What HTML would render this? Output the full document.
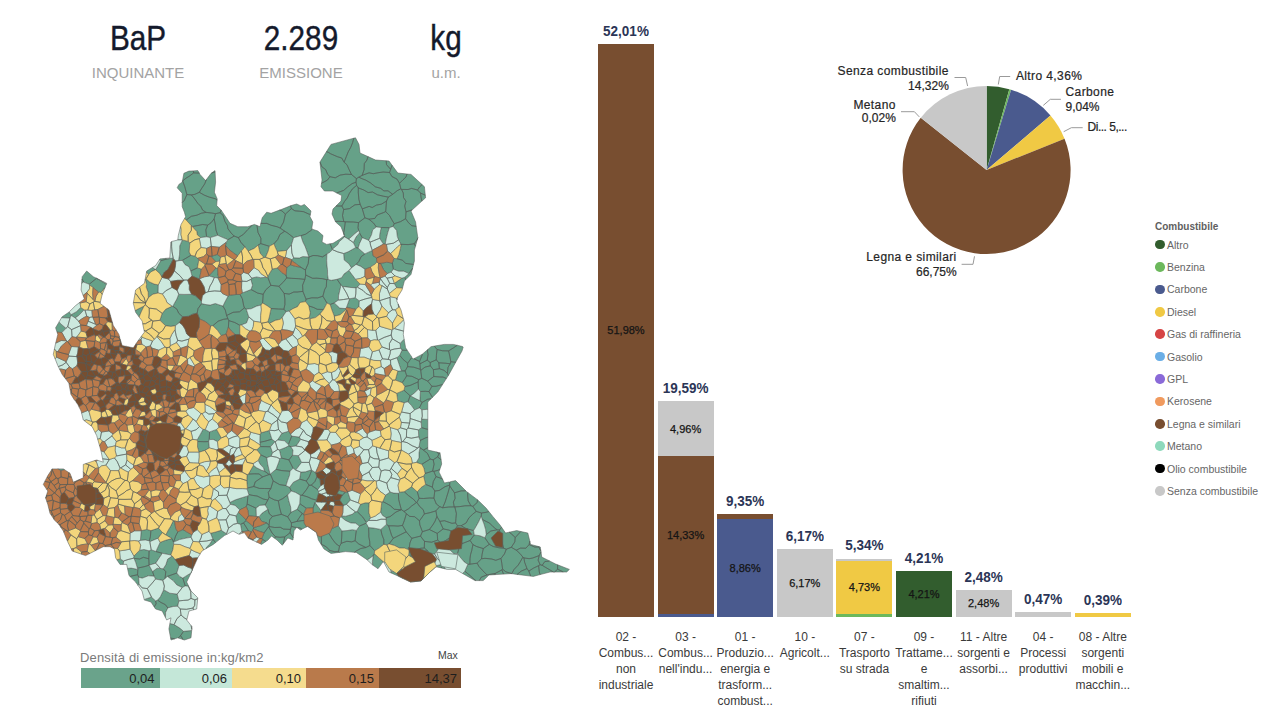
<!DOCTYPE html>
<html><head><meta charset="utf-8">
<style>
html,body{margin:0;padding:0;background:#fff;}
body{width:1280px;height:720px;position:relative;overflow:hidden;font-family:"Liberation Sans",sans-serif;}
.a{position:absolute;white-space:nowrap;}
.kv{font-size:30px;color:#141a2c;-webkit-text-stroke:0.35px #141a2c;text-align:center;width:160px;line-height:1;transform:scale(0.99,1.14);transform-origin:50% 25.4px;}
.kc{font-size:15px;color:#a3a3a3;text-align:center;width:160px;line-height:1;}
.bt{font-size:13.5px;font-weight:bold;color:#2b3556;text-align:center;width:80px;line-height:1;transform:scaleY(1.1);transform-origin:50% 11.4px;}
.bi{font-size:11px;color:#151515;-webkit-text-stroke:0.25px #151515;text-align:center;width:60px;line-height:1;}
.cat{font-size:12px;color:#3a3a3a;text-align:center;width:60px;line-height:16px;}
.pl{font-size:12px;color:#252525;line-height:1;-webkit-text-stroke:0.2px #252525;}
.pw{letter-spacing:0.4px;}
.pn{letter-spacing:-0.5px;}
.lg{font-size:10.5px;color:#666;line-height:1;}
.dot{position:absolute;width:9.5px;height:9.5px;border-radius:50%;}
</style></head><body>
<!-- KPIs -->
<div class="a kv" style="left:58px;top:24.5px;">BaP</div>
<div class="a kc" style="left:58px;top:64.5px;">INQUINANTE</div>
<div class="a kv" style="left:221px;top:24.5px;">2.289</div>
<div class="a kc" style="left:221px;top:64.5px;">EMISSIONE</div>
<div class="a kv" style="left:366px;top:24.5px;">kg</div>
<div class="a kc" style="left:366px;top:64.5px;">u.m.</div>

<svg class="a" style="left:0;top:0" width="1280" height="720">
<path fill="#66a188" stroke="#555b58" stroke-width="0.6" stroke-opacity="0.9" d="M328.4,152.4L330.7,153.8L337.4,156.7L341.7,158.0L344.1,162.2L346.4,156.4L348.2,151.9L350.8,147.2L352.6,142.6L353.8,138.2L331.0,144.4L326.5,151.6ZM182.7,180.9L186.1,178.1L189.1,176.3L193.7,172.9L193.2,170.9L188.9,171.1L183.9,173.3L182.5,180.7ZM193.7,172.9L199.3,173.1L197.8,170.6L193.2,170.9ZM215.1,171.9L215.0,170.6L211.6,173.0ZM320.2,162.5L321.9,166.8L325.6,169.5L327.7,174.4L330.0,176.7L335.3,177.8L340.1,175.1L345.9,174.2L351.5,174.5L349.2,169.8L347.0,164.8L344.1,162.2L341.7,158.0L337.4,156.7L330.7,153.8L328.4,152.4L326.5,151.6L320.0,162.0L320.0,162.4ZM352.6,142.6L350.8,147.2L348.2,151.9L346.4,156.4L344.1,162.2L347.0,164.8L349.2,169.8L351.5,174.5L356.4,178.6L358.8,177.2L362.1,175.4L364.1,169.7L364.3,163.6L366.9,160.1L368.0,156.6L360.0,153.0L359.0,144.4L355.5,137.8L353.8,138.2ZM366.9,160.1L364.3,163.6L364.1,169.7L362.1,175.4L369.0,172.8L373.3,173.7L377.8,172.8L383.1,172.0L389.6,172.5L390.6,169.3L386.5,164.6L386.2,160.8L375.5,160.0L368.0,156.6ZM392.1,165.3L389.0,161.0L386.2,160.8L386.5,164.6L390.6,169.3ZM389.6,172.5L391.9,176.5L397.0,179.1L399.5,183.3L403.0,179.8L406.0,177.0L407.0,174.0L397.8,173.0L392.1,165.3L390.6,169.3ZM189.1,176.3L186.1,178.1L182.7,180.9L184.8,186.8L186.1,191.6L186.9,194.6L191.3,194.9L194.7,194.4L199.3,192.3L201.4,188.8L204.7,183.9L206.4,179.6L205.6,180.6L200.0,174.4L199.3,173.1L193.7,172.9ZM204.7,183.9L201.4,188.8L199.3,192.3L204.4,195.2L209.2,197.1L215.2,198.7L217.1,200.0L217.2,198.9L214.4,192.2L215.6,182.2L215.1,171.9L211.6,173.0L211.1,173.3L206.4,179.6ZM321.7,183.2L327.3,180.2L330.0,176.7L327.7,174.4L325.6,169.5L321.9,166.8L320.2,162.5L320.0,162.4L322.0,180.0L321.5,183.5ZM356.4,178.6L351.5,174.5L345.9,174.2L340.1,175.1L335.3,177.8L330.0,176.7L327.3,180.2L321.7,183.2L321.5,183.5L321.0,186.7L324.4,191.0L333.0,191.0L336.7,192.9L340.1,191.7L343.7,190.4L347.4,187.1L352.1,183.6L356.0,182.2ZM358.3,187.9L363.8,190.0L368.1,192.6L372.5,192.0L377.5,194.8L383.4,196.2L388.3,197.1L392.7,194.3L388.0,190.8L383.9,190.9L380.6,188.3L375.3,186.8L370.5,182.9L365.7,180.1L362.3,178.8L358.8,177.2L356.4,178.6L356.0,182.2L356.6,185.4ZM362.3,178.8L365.7,180.1L370.5,182.9L375.3,186.8L380.6,188.3L383.9,190.9L388.0,190.8L392.7,194.3L397.3,190.6L400.9,188.8L399.5,183.3L397.0,179.1L391.9,176.5L389.6,172.5L383.1,172.0L377.8,172.8L373.3,173.7L369.0,172.8L362.1,175.4L358.8,177.2ZM400.9,188.8L401.5,189.4L408.1,189.5L411.6,188.4L417.5,190.0L419.7,186.9L422.1,184.6L411.0,174.4L407.0,174.0L406.0,177.0L403.0,179.8L399.5,183.3ZM425.3,195.2L424.4,186.7L422.1,184.6L419.7,186.9L417.5,190.0L420.6,193.1ZM184.3,200.4L186.9,194.6L186.1,191.6L184.8,186.8L182.7,180.9L182.5,180.7L182.2,182.2L178.9,184.4L177.2,187.8L182.2,193.3L182.2,202.6ZM186.2,220.0L191.3,216.3L196.9,215.2L201.4,213.2L206.1,212.4L202.6,210.1L200.7,206.2L197.8,203.3L194.1,198.1L191.3,194.9L186.9,194.6L184.3,200.4L182.2,202.6L182.2,206.7L184.4,212.2L185.6,216.7L184.5,218.6ZM215.2,198.7L209.2,197.1L204.4,195.2L199.3,192.3L194.7,194.4L191.3,194.9L194.1,198.1L197.8,203.3L200.7,206.2L202.6,210.1L206.1,212.4L211.6,213.0L215.5,213.7L220.0,212.7L221.2,210.2L221.1,210.0L216.7,205.6L217.1,200.0ZM281.8,210.8L285.4,214.1L291.4,208.6L290.5,205.8L280.0,210.0L279.6,210.1ZM291.4,208.6L294.9,210.8L299.3,211.2L303.6,211.7L309.1,214.2L310.4,214.3L311.0,211.0L304.4,204.4L301.0,206.0L296.7,204.0L291.0,205.6L290.5,205.8ZM356.0,182.2L352.1,183.6L347.4,187.1L343.7,190.4L340.1,191.7L336.7,192.9L341.7,195.6L341.0,201.0L336.0,206.0L341.9,206.0L344.5,201.4L347.3,197.9L349.2,193.7L352.4,188.9L356.6,185.4ZM352.4,188.9L349.2,193.7L347.3,197.9L344.5,201.4L341.9,206.0L343.7,209.5L349.5,208.6L354.9,204.8L360.2,204.4L358.9,199.5L358.3,192.7L358.3,187.9L356.6,185.4ZM358.3,192.7L358.9,199.5L360.2,204.4L362.3,208.9L369.1,206.4L372.2,207.5L376.4,205.1L381.3,204.2L386.5,201.1L388.3,197.1L383.4,196.2L377.5,194.8L372.5,192.0L368.1,192.6L363.8,190.0L358.3,187.9ZM386.5,201.1L385.7,211.6L389.6,215.6L391.6,219.4L394.2,223.7L400.6,221.6L405.6,218.7L406.0,211.9L404.7,206.0L406.0,201.3L403.5,197.5L403.3,193.0L401.5,189.4L400.9,188.8L397.3,190.6L392.7,194.3L388.3,197.1ZM421.0,197.1L420.6,193.1L417.5,190.0L411.6,188.4L408.1,189.5L401.5,189.4L403.3,193.0L403.5,197.5L406.0,201.3L404.7,206.0L406.0,211.9L411.4,210.1L412.1,210.0L421.9,201.1ZM420.6,193.1L421.0,197.1L421.9,201.1L425.6,197.8L425.3,195.2ZM211.1,222.7L214.1,218.9L215.5,213.7L211.6,213.0L206.1,212.4L201.4,213.2L196.9,215.2L191.3,216.3L186.2,220.0L191.3,225.7L192.2,226.5L197.9,225.5L202.7,224.5L207.7,225.1ZM223.1,215.4L224.9,221.3L227.4,225.5L227.9,228.7L231.1,233.0L234.2,236.1L238.3,237.6L243.4,234.4L247.3,230.1L251.5,225.8L251.9,225.3L247.8,226.7L237.8,226.7L230.0,223.3L225.6,216.7L221.2,210.2L220.0,212.7ZM283.5,222.2L285.4,214.1L281.8,210.8L279.6,210.1L271.1,213.3L266.7,212.2L262.2,217.8L260.8,223.4L266.8,223.4L271.2,225.3L277.3,226.8L280.2,228.1ZM309.1,214.2L303.6,211.7L299.3,211.2L294.9,210.8L291.4,208.6L285.4,214.1L283.5,222.2L280.2,228.1L284.7,231.2L287.9,233.2L293.6,237.7L300.8,235.7L305.8,234.1L310.6,230.7L312.3,229.2L311.7,229.0L312.8,222.0L310.0,216.7L310.4,214.3ZM336.0,206.0L333.0,209.0L332.0,214.0L335.4,221.5L338.7,221.3L343.8,221.6L342.5,215.5L343.7,209.5L341.9,206.0ZM354.9,204.8L349.5,208.6L343.7,209.5L342.5,215.5L343.8,221.6L345.3,221.8L349.0,221.9L353.5,222.0L358.5,222.6L364.9,217.8L362.3,208.9L360.2,204.4ZM364.9,217.8L368.9,219.2L374.9,218.4L377.1,215.0L383.5,212.6L385.7,211.6L386.5,201.1L381.3,204.2L376.4,205.1L372.2,207.5L369.1,206.4L362.3,208.9ZM389.4,227.7L393.0,226.4L394.2,223.7L391.6,219.4L389.6,215.6L385.7,211.6L383.5,212.6L377.1,215.0L374.9,218.4L368.9,219.2L373.6,223.1L376.4,227.0L381.2,227.5ZM411.4,210.1L406.0,211.9L405.6,218.7L408.4,222.6L411.8,225.7L416.2,226.4L415.6,222.0L411.0,211.0L412.1,210.0ZM182.3,260.4L190.9,255.3L189.2,252.1L189.6,245.8L189.9,242.9L188.2,241.4L182.4,239.9L179.7,245.9L179.7,249.3L179.5,254.8L178.5,260.7ZM202.7,224.5L197.9,225.5L192.2,226.5L196.8,231.6L197.3,234.9L200.6,237.6L206.6,236.8L205.8,229.9L207.7,225.1ZM205.8,229.9L206.6,236.8L210.3,237.6L217.8,235.3L216.0,230.2L215.2,223.8L214.1,218.9L211.1,222.7L207.7,225.1ZM215.2,223.8L216.0,230.2L217.8,235.3L222.9,237.6L227.9,239.7L234.2,236.1L231.1,233.0L227.9,228.7L227.4,225.5L224.9,221.3L223.1,215.4L220.0,212.7L215.5,213.7L214.1,218.9ZM251.5,225.8L247.3,230.1L243.4,234.4L238.3,237.6L240.9,242.3L244.9,246.8L248.2,251.1L254.2,248.4L258.2,245.0L260.8,243.6L260.9,238.2L258.0,232.5L257.1,226.3L256.6,225.3L254.4,224.4L251.9,225.3ZM257.1,226.3L258.0,232.5L260.9,238.2L260.8,243.6L269.4,246.3L273.9,243.8L277.7,239.5L279.9,234.5L284.7,231.2L280.2,228.1L277.3,226.8L271.2,225.3L266.8,223.4L260.8,223.4L260.0,226.7L256.6,225.3ZM291.4,245.0L293.6,237.7L287.9,233.2L284.7,231.2L279.9,234.5L277.7,239.5L273.9,243.8L275.7,248.3L277.3,251.5L286.7,250.4ZM313.0,255.5L317.5,255.7L322.5,256.9L326.9,254.1L330.1,252.1L332.3,249.6L332.3,249.3L330.2,243.9L330.1,243.8L326.7,244.4L322.0,242.0L323.0,235.6L317.8,231.0L312.3,229.2L310.6,230.7L305.8,234.1L300.8,235.7L302.9,242.0L305.0,246.2L306.8,251.1L308.8,256.9L308.9,257.1ZM343.7,232.8L344.5,228.0L345.3,221.8L343.8,221.6L338.7,221.3L335.4,221.5L335.6,222.0L341.0,226.7L344.2,235.0ZM330.2,243.9L332.3,249.3L337.9,244.5L339.2,241.7L344.6,236.9L344.3,235.7L340.0,239.0L333.0,243.3L330.1,243.8ZM358.0,227.7L358.5,222.6L353.5,222.0L349.0,221.9L345.3,221.8L344.5,228.0L343.7,232.8L344.2,235.0L344.4,235.6L344.3,235.7L344.6,236.9L348.6,239.2L354.2,234.3L358.7,230.5ZM356.0,237.1L353.3,242.5L355.7,247.5L358.1,248.1L359.6,243.4L362.3,237.7L359.5,232.9ZM359.5,232.9L362.3,237.7L368.7,240.3L371.5,234.8L372.7,229.8L376.4,227.0L373.6,223.1L368.9,219.2L364.9,217.8L358.5,222.6L358.0,227.7L358.7,230.5ZM383.4,244.1L385.2,244.2L386.4,238.1L387.8,232.5L389.4,227.7L381.2,227.5L379.7,234.6L379.6,238.3ZM401.1,244.3L408.2,244.6L414.2,243.8L417.1,239.8L417.8,237.7L416.2,226.4L411.8,225.7L408.4,222.6L405.6,218.7L400.6,221.6L394.2,223.7L393.0,226.4L396.6,230.5L397.3,236.6L398.6,239.9L400.9,244.2ZM417.1,239.8L414.2,243.8L415.5,246.2L417.8,237.8L417.8,237.7ZM152.4,267.5L146.7,271.0L146.5,272.1L148.5,274.6L151.1,271.7L155.6,269.7L155.6,269.6ZM166.2,258.3L160.0,258.9L159.4,259.9L160.7,260.8L166.4,259.1ZM164.4,272.1L167.8,269.6L171.2,263.3L173.4,258.9L173.2,258.0L166.4,259.1L160.7,260.8L157.9,265.7L155.6,269.6L155.6,269.7L159.9,273.7L161.8,277.0ZM185.1,264.7L188.9,266.7L190.7,271.0L197.4,267.9L198.9,259.8L197.8,258.3L195.0,256.2L190.9,255.3L182.3,260.4ZM210.6,256.2L215.7,261.6L219.9,261.2L220.6,257.0L217.2,254.4L212.1,256.1ZM229.0,249.5L233.5,253.0L237.6,255.9L241.4,251.1L244.9,246.8L240.9,242.3L238.3,237.6L234.2,236.1L227.9,239.7L226.1,242.4L225.5,245.4ZM260.0,253.0L263.9,257.5L265.5,257.4L268.2,251.1L269.4,246.3L260.8,243.6L258.2,245.0ZM286.7,267.5L286.1,275.3L286.7,277.9L291.4,278.3L298.7,278.7L304.9,279.4L305.7,275.0L305.4,270.0L300.7,267.2L295.7,266.4L290.5,264.9ZM291.6,260.5L296.6,264.1L300.7,267.2L305.4,270.0L308.2,263.6L308.9,257.1L308.8,256.9L302.7,256.6L299.3,258.0L293.6,257.8L291.9,259.7ZM308.2,263.6L305.4,270.0L305.7,275.0L312.6,278.3L316.9,278.2L322.6,278.7L326.7,279.7L328.3,279.5L327.6,274.8L327.5,269.6L327.0,265.8L326.7,260.5L326.9,254.1L322.5,256.9L317.5,255.7L313.0,255.5L308.9,257.1ZM358.8,261.5L361.2,256.6L364.9,253.9L358.1,248.1L355.7,247.5L348.1,251.8L343.6,253.5L344.2,260.1L348.8,263.7L351.5,267.9L356.0,264.4ZM370.4,267.1L375.1,264.1L376.9,261.9L376.5,258.0L373.0,255.6L372.3,250.4L372.3,250.4L364.9,253.9L361.2,256.6L358.8,261.5L356.0,264.4L360.8,266.4L365.0,269.4ZM383.3,269.3L387.2,273.7L391.2,272.1L393.4,269.2L392.3,263.1L386.8,262.2L380.6,263.4ZM410.2,264.0L405.6,263.4L402.5,260.2L396.9,258.7L393.9,258.4L392.3,263.1L393.4,269.2L398.6,271.2L403.8,271.2L408.9,273.6L412.6,268.2L413.5,264.4ZM414.2,243.8L408.2,244.6L401.1,244.3L400.4,248.5L398.8,254.6L396.9,258.7L402.5,260.2L405.6,263.4L410.2,264.0L413.5,264.4L414.4,261.0L414.4,250.0L415.5,246.2ZM83.6,282.1L82.0,279.0L81.6,283.4ZM83.6,282.1L89.2,284.3L96.5,278.3L96.5,278.3L93.3,276.7L86.7,271.0L82.2,276.7L82.0,279.0ZM102.1,281.5L96.5,278.3L89.2,284.3L89.6,285.0L93.1,287.6L98.5,292.1L101.0,292.4L104.9,287.7L106.4,284.0ZM158.3,284.9L154.2,284.1L149.6,281.9L146.0,278.8L145.4,279.6L146.6,284.5L146.2,287.1L148.2,292.2L148.3,297.7L152.9,294.2L158.1,293.0ZM199.3,279.0L199.5,278.7L201.4,269.1L197.4,267.9L190.7,271.0L192.0,276.1ZM218.6,277.6L217.9,274.1L217.7,268.3L216.0,268.0L209.1,275.5L209.1,276.0L214.3,277.5L218.0,277.9ZM266.6,277.3L260.7,277.7L256.6,276.9L251.7,278.1L250.8,279.4L252.5,285.2L251.0,289.5L257.7,293.1L263.2,294.3L265.7,289.9L270.9,285.3L267.8,277.4ZM272.2,269.0L267.8,276.4L267.8,277.4L270.9,285.3L278.9,286.3L283.7,281.7L286.7,277.9L286.1,275.3L281.7,272.5L277.5,268.0ZM283.7,281.7L278.9,286.3L282.1,290.6L284.1,293.4L289.2,294.1L293.8,292.0L297.2,292.0L302.9,291.4L302.6,285.1L304.9,279.4L298.7,278.7L291.4,278.3L286.7,277.9ZM304.9,279.4L302.6,285.1L302.9,291.4L306.0,299.2L311.8,297.8L317.7,297.9L322.9,296.2L324.6,289.7L326.3,286.7L326.7,279.7L322.6,278.7L316.9,278.2L312.6,278.3L305.7,275.0ZM351.8,274.3L348.9,270.4L344.2,273.8L341.6,277.7L337.0,279.3L341.1,285.1L342.5,286.4L349.8,287.4L356.0,287.9L357.4,287.2L360.0,284.0L355.7,279.4ZM404.8,277.2L401.7,278.3L394.4,283.3L394.3,283.6L396.6,287.7L402.5,288.1L404.4,281.0L405.6,279.8ZM408.9,273.6L404.8,277.2L405.6,279.8L411.0,274.4L412.6,268.2ZM176.8,299.1L174.1,303.8L172.9,306.3L176.9,309.2L178.7,313.2L182.6,316.8L188.7,316.3L192.3,314.4L197.2,313.1L198.0,308.6L201.6,303.6L201.4,301.2L195.3,295.6L191.7,294.3L184.0,294.4L178.7,294.2ZM229.2,295.2L228.1,296.1L225.5,300.8L222.9,306.1L225.3,310.2L226.6,315.5L233.1,312.3L239.5,311.8L244.4,307.9L243.6,305.3L242.4,298.9L240.1,294.5L236.2,294.5ZM242.4,298.9L243.6,305.3L244.4,307.9L246.3,309.2L251.1,308.8L256.5,306.2L261.0,305.0L262.6,303.0L263.2,294.3L257.7,293.1L251.0,289.5L247.8,290.8L242.3,292.9L240.1,294.5ZM262.6,303.0L267.1,305.7L271.1,308.5L278.3,309.0L283.9,309.2L284.9,304.5L284.9,298.9L284.1,293.4L282.1,290.6L278.9,286.3L270.9,285.3L265.7,289.9L263.2,294.3ZM302.9,291.4L297.2,292.0L293.8,292.0L289.2,294.1L284.1,293.4L284.9,298.9L284.9,304.5L283.9,309.2L286.1,311.7L289.3,311.0L292.8,308.7L297.5,306.7L300.1,302.5L305.5,301.6L306.0,299.2ZM322.9,296.2L317.7,297.9L311.8,297.8L306.0,299.2L305.5,301.6L308.8,305.9L313.9,307.6L317.2,309.3L323.6,309.5L327.0,303.1ZM338.4,300.1L338.5,295.9L340.1,289.1L341.1,285.1L337.0,279.3L331.2,280.3L328.3,279.5L326.7,279.7L326.3,286.7L324.6,289.7L322.9,296.2L327.0,303.1L330.1,304.5L334.3,302.9ZM359.0,306.4L359.3,300.9L355.2,297.7L349.6,298.8L346.5,307.4L355.8,309.3ZM61.9,332.6L66.0,328.3L60.8,323.9L59.1,321.9L55.6,327.8L57.0,332.1ZM70.0,318.1L71.2,315.5L71.0,314.7L69.2,311.9L68.9,312.2L62.2,316.7L61.6,317.7ZM80.7,307.4L76.5,311.7L71.0,314.7L71.2,315.5L75.2,317.9L78.7,315.5L84.1,309.8ZM139.5,316.0L141.6,311.0L144.1,306.0L137.9,309.1L135.2,310.6L135.6,312.2L139.2,317.1ZM172.1,306.3L165.9,309.1L162.2,313.3L159.9,320.3L165.6,325.7L170.8,326.4L175.3,325.7L179.4,322.6L182.6,316.8L178.7,313.2L176.9,309.2L172.9,306.3ZM198.0,308.6L197.2,313.1L199.6,318.9L205.7,321.8L210.6,326.0L212.9,325.7L218.1,321.2L223.5,319.3L227.9,318.7L226.6,315.5L225.3,310.2L222.9,306.1L218.8,304.7L215.3,303.5L210.2,305.1L206.0,304.6L201.6,303.6ZM246.5,323.0L248.8,316.9L246.3,309.2L244.4,307.9L239.5,311.8L233.1,312.3L226.6,315.5L227.9,318.7L228.8,320.6L234.8,322.5L239.8,325.3L241.2,324.9ZM270.4,311.6L269.3,317.0L267.8,322.0L269.5,323.4L275.2,320.4L280.2,319.3L282.2,317.5L286.1,311.7L283.9,309.2L278.3,309.0L271.1,308.5ZM317.2,309.3L313.9,307.6L308.8,305.9L310.2,312.8L309.2,317.9L309.9,318.8L315.4,317.6L319.8,314.2L323.6,309.5ZM330.1,304.5L332.3,311.1L334.3,316.2L340.1,314.8L346.2,309.5L345.6,308.6L339.8,308.1L334.3,302.9ZM217.7,330.6L221.2,335.6L226.1,334.1L228.4,327.1L228.8,320.6L227.9,318.7L223.5,319.3L218.1,321.2L212.9,325.7ZM239.8,325.3L234.8,322.5L228.8,320.6L228.4,327.1L231.5,331.3L235.4,334.6L239.8,334.5ZM404.0,339.2L400.1,343.4L400.5,348.2L402.0,350.1L405.7,350.4L407.2,350.2L405.6,347.8L404.1,339.1ZM437.1,349.5L442.7,350.8L448.6,350.9L453.4,347.9L457.2,345.3L453.3,344.4L444.4,344.4L434.3,346.1ZM405.7,350.4L402.0,350.1L399.7,355.3L403.2,359.5L407.7,363.2L411.6,357.7L411.7,356.8L410.0,354.4L407.2,350.2ZM407.6,366.6L407.7,363.2L403.2,359.5L399.7,355.3L396.9,357.7L399.2,364.5L401.4,370.9L405.1,370.9ZM419.6,361.4L422.3,354.8L422.3,354.2L422.0,354.4L413.9,358.7ZM411.6,357.7L407.7,363.2L407.6,366.6L413.8,367.2L420.4,369.4L419.9,363.9L419.6,361.4L413.9,358.7L413.3,359.0L412.7,358.2ZM428.1,354.3L427.4,351.0L427.8,349.5L422.3,354.2L422.3,354.8L419.6,361.4L419.9,363.9L427.2,360.1ZM425.0,367.1L430.3,365.8L430.2,362.5L427.2,360.1L419.9,363.9L420.4,369.4L420.7,370.4ZM436.3,359.8L436.4,355.2L437.1,349.5L434.3,346.1L431.0,346.7L427.8,349.5L427.4,351.0L428.1,354.3L427.2,360.1L430.2,362.5ZM439.4,368.7L438.8,362.8L436.3,359.8L430.2,362.5L430.3,365.8L433.4,369.7ZM450.8,361.7L449.9,356.7L448.6,350.9L442.7,350.8L437.1,349.5L436.4,355.2L436.3,359.8L438.8,362.8L445.2,363.2L450.2,363.8ZM444.0,370.3L447.4,373.3L448.0,367.3L450.2,363.8L445.2,363.2L438.8,362.8L439.4,368.7ZM453.4,347.9L448.6,350.9L449.9,356.7L450.8,361.7L455.7,362.3L462.0,351.0L463.2,347.0L462.5,346.5L457.2,345.3ZM450.8,361.7L450.2,363.8L448.0,367.3L447.4,373.3L448.4,375.4L449.0,374.4L455.7,362.3ZM401.4,370.9L397.8,371.0L395.4,380.1L402.2,382.7L405.0,378.6L406.7,375.8L405.1,370.9ZM411.9,376.3L406.7,375.8L405.0,378.6L402.2,382.7L404.8,386.5L410.0,385.5L418.1,381.9L418.7,379.6ZM420.7,370.4L420.4,369.4L413.8,367.2L407.6,366.6L405.1,370.9L406.7,375.8L411.9,376.3L418.7,379.6L421.8,378.3ZM418.1,381.9L410.0,385.5L404.8,386.5L404.0,390.2L410.1,395.8L410.6,395.9L414.5,392.9L418.5,389.1ZM430.3,365.8L425.0,367.1L420.7,370.4L421.8,378.3L427.7,381.1L433.8,376.5L433.4,369.7ZM425.4,391.3L429.0,391.6L431.9,386.3L427.7,381.1L421.8,378.3L418.7,379.6L418.1,381.9L418.5,389.1L420.3,391.5ZM433.8,376.5L440.1,377.0L443.0,377.0L446.4,378.5L448.4,375.4L447.4,373.3L444.0,370.3L439.4,368.7L433.4,369.7ZM443.0,377.0L440.1,377.0L433.8,376.5L427.7,381.1L431.9,386.3L436.0,386.3L441.8,384.7L442.5,384.6L446.4,378.5ZM410.1,395.8L404.0,390.2L396.7,393.4L397.8,401.0L404.1,402.7L407.9,401.8ZM419.4,407.9L422.1,402.4L419.9,400.6L416.0,398.8L410.6,395.9L410.1,395.8L407.9,401.8L411.3,405.3L414.6,410.0ZM429.0,391.6L425.4,391.3L420.3,391.5L419.9,400.6L422.1,402.4L427.3,399.4L431.2,398.6L432.4,397.4ZM427.3,399.4L422.1,402.4L419.4,407.9L421.9,409.8L426.4,409.4L427.8,409.4L427.8,402.0L431.2,398.6ZM441.8,384.7L436.0,386.3L431.9,386.3L429.0,391.6L432.4,397.4L437.8,392.0L442.5,384.6ZM421.6,419.1L421.1,422.1L421.6,427.6L425.9,428.9L427.8,429.3L427.8,419.4ZM201.1,432.9L199.7,435.4L197.1,440.0L197.6,441.5L204.0,441.7L208.8,441.6L209.2,439.6L209.6,431.9L205.2,429.5L203.1,429.3ZM209.3,447.9L208.8,441.6L204.0,441.7L197.6,441.5L197.5,447.1L199.0,452.0L199.2,452.2L204.9,450.4ZM216.6,429.4L209.6,431.9L209.2,439.6L213.2,439.4L217.5,441.7L221.3,438.0ZM269.2,430.5L261.1,432.8L260.0,434.6L259.8,442.3L264.7,441.3L271.9,439.2ZM273.5,443.4L275.1,441.6L271.9,439.2L264.7,441.3L259.8,442.3L260.1,445.0L260.2,446.6L264.4,446.6L270.5,446.8ZM277.6,440.0L284.4,440.8L288.4,444.6L291.7,436.1L290.6,434.0L288.6,431.2L281.8,433.3ZM290.8,446.7L296.1,446.0L300.7,439.3L299.4,437.1L291.7,436.1L288.4,444.6L288.7,445.8ZM425.9,428.9L421.6,427.6L418.4,429.9L418.7,436.8L420.1,440.5L425.5,437.9L427.8,437.2L427.8,429.3ZM420.0,447.7L423.4,450.1L427.8,447.7L427.8,437.2L425.5,437.9L420.1,440.5L419.0,447.0ZM438.9,454.1L439.8,452.8L436.8,452.1ZM60.9,470.8L64.5,469.7L63.3,468.9L57.8,468.9ZM270.5,446.8L264.4,446.6L260.2,446.6L256.8,449.8L260.8,454.9L266.8,457.7L271.1,456.2L272.6,452.7ZM260.8,454.9L258.2,460.4L260.0,464.0L263.5,467.8L264.5,471.1L269.1,474.5L270.6,474.7L270.2,474.2L268.9,469.4L267.7,464.0L266.8,457.7ZM288.9,459.9L292.6,455.2L293.0,450.1L290.8,446.7L288.7,445.8L285.3,447.6L279.4,449.9L281.3,458.0ZM279.8,458.7L278.5,462.8L276.0,469.3L281.8,470.6L290.0,471.2L293.1,468.3L288.9,459.9L281.3,458.0ZM298.3,455.7L292.6,455.2L288.9,459.9L293.1,468.3L295.7,470.1L301.6,462.4ZM419.0,452.6L419.0,457.9L416.3,462.4L421.8,464.3L430.2,459.1L427.4,453.3L423.4,450.1L420.0,447.7ZM432.6,471.1L434.1,464.2L433.2,459.8L430.2,459.1L421.8,464.3L423.9,468.1L425.1,473.5ZM427.4,453.3L430.2,459.1L433.2,459.8L437.6,456.9L438.9,454.1L436.8,452.1L427.8,450.0L427.8,447.7L423.4,450.1ZM440.7,459.4L437.6,456.9L433.2,459.8L434.1,464.2L432.6,471.1L433.8,471.4L438.0,470.3L439.9,469.2L441.7,464.0L441.1,459.8ZM438.9,454.1L437.6,456.9L440.7,459.4L441.1,459.8L440.0,452.8L439.8,452.8ZM261.7,470.3L256.7,467.8L253.5,465.3L248.5,474.1L254.2,473.8L259.0,473.9L262.6,476.9L269.1,474.5L264.5,471.1ZM259.0,473.9L254.2,473.8L248.5,474.1L247.1,474.7L246.8,480.6L247.4,488.1L253.8,486.5L255.2,481.9L259.9,478.7L262.6,476.9ZM262.6,476.9L259.9,478.7L255.2,481.9L253.8,486.5L259.3,488.4L264.4,488.5L270.8,488.6L273.2,480.9L270.6,474.7L269.1,474.5ZM273.2,480.9L279.6,484.6L286.0,485.6L287.7,480.3L289.6,475.1L290.0,471.2L281.8,470.6L276.0,469.3L270.2,474.2L270.6,474.7ZM305.4,471.8L300.8,472.1L299.6,479.1L306.3,481.0L309.2,476.8L311.8,470.2L311.4,469.8ZM293.4,482.2L289.6,487.3L291.3,491.0L295.6,492.5L300.2,495.2L302.1,495.2L306.8,489.1L309.0,485.2L306.3,481.0L299.6,479.1ZM315.5,472.6L311.8,470.2L309.2,476.8L306.3,481.0L309.0,485.2L311.3,485.2L314.9,481.5L316.9,477.0L315.9,473.0ZM320.1,479.3L316.9,477.0L314.9,481.5L311.3,485.2L317.8,489.7L320.7,485.7ZM432.3,487.1L433.3,481.5L436.0,476.6L433.8,471.4L432.6,471.1L425.1,473.5L423.6,476.2L425.6,484.4ZM439.2,490.5L445.0,486.7L449.6,485.1L449.9,482.2L449.0,482.0L444.4,483.0L442.7,479.5L441.3,478.4L436.0,476.6L433.3,481.5L432.3,487.1L434.8,491.0ZM449.9,482.2L449.6,485.1L449.8,486.1L454.5,492.8L461.1,490.9L465.8,490.8L455.6,480.6L450.3,481.7ZM438.0,470.3L433.8,471.4L436.0,476.6L441.3,478.4L442.7,479.5L439.0,472.0L439.9,469.2ZM242.5,497.5L235.4,499.8L229.8,502.5L230.3,504.3L235.1,505.4L239.8,509.9L246.3,506.6L247.2,504.0L247.9,495.9ZM247.9,495.9L247.2,504.0L256.1,508.2L259.6,505.4L265.1,505.0L267.9,500.0L263.2,499.0L257.1,496.0L252.5,495.4L248.8,494.5ZM247.4,488.1L247.0,488.8L248.8,494.5L252.5,495.4L257.1,496.0L263.2,499.0L267.9,500.0L269.1,497.2L268.3,492.4L270.8,488.6L264.4,488.5L259.3,488.4L253.8,486.5ZM269.3,513.8L272.5,516.4L281.4,514.3L279.7,508.1L278.3,500.8L274.4,499.9L269.1,497.2L267.9,500.0L265.1,505.0L267.8,509.3ZM268.3,492.4L269.1,497.2L274.4,499.9L278.3,500.8L282.7,498.6L287.6,495.0L291.3,491.0L289.6,487.3L286.0,485.6L279.6,484.6L273.2,480.9L270.8,488.6ZM291.0,512.3L290.7,507.1L288.8,500.7L287.6,495.0L282.7,498.6L278.3,500.8L279.7,508.1L281.4,514.3L287.7,516.8ZM316.6,500.2L311.7,498.8L307.6,496.9L302.1,495.2L300.2,495.2L299.7,503.6L306.3,508.2L313.1,507.8L315.0,502.6L316.5,501.9ZM317.8,489.7L311.3,485.2L309.0,485.2L306.8,489.1L302.1,495.2L307.6,496.9L311.7,498.8L316.6,500.2L318.6,493.5L318.6,491.4ZM335.2,493.3L342.3,495.1L345.5,492.2L337.7,489.8L335.6,492.3ZM343.6,505.5L346.5,504.4L350.5,500.0L347.8,491.9L345.5,492.2L342.3,495.1L339.7,500.1ZM357.2,511.6L362.8,517.1L366.4,522.5L368.8,520.4L370.6,517.9L368.9,512.9L368.9,508.2L369.2,502.9L365.4,502.8L360.6,504.3ZM399.6,503.2L398.7,499.5L398.4,493.3L393.9,493.1L390.0,492.0L385.5,495.2L382.8,501.6L386.2,503.3L390.4,505.7L394.3,509.3L401.1,509.8L401.3,509.6ZM398.4,493.3L398.7,499.5L399.6,503.2L401.3,509.6L404.0,511.5L408.5,508.8L411.6,506.0L416.4,502.6L413.4,499.2L408.4,495.5L404.2,491.7L399.5,492.2ZM408.4,495.5L413.4,499.2L416.4,502.6L416.9,502.4L419.1,498.3L417.3,491.8L411.6,486.8L404.2,491.7ZM416.9,502.4L419.7,506.5L423.3,509.8L424.4,513.9L430.2,512.6L435.9,510.9L439.7,506.6L436.3,504.0L433.9,498.1L429.4,498.0L423.5,498.5L419.1,498.3ZM423.5,498.5L429.4,498.0L433.9,498.1L434.8,491.0L432.3,487.1L425.6,484.4L421.1,487.5L417.3,491.8L419.1,498.3ZM436.3,504.0L439.7,506.6L442.6,507.8L445.2,501.8L446.7,496.9L448.2,492.1L449.8,486.1L449.6,485.1L445.0,486.7L439.2,490.5L434.8,491.0L433.9,498.1ZM448.2,492.1L446.7,496.9L445.2,501.8L442.6,507.8L448.6,507.0L454.2,506.9L453.4,502.1L455.1,498.4L454.5,492.8L449.8,486.1ZM461.1,490.9L454.5,492.8L455.1,498.4L453.4,502.1L454.2,506.9L454.8,506.9L459.9,506.6L464.9,505.8L470.9,505.7L468.2,500.8L467.7,496.2L467.7,492.4L466.7,491.7L465.8,490.8ZM467.7,496.2L468.2,500.8L470.9,505.7L472.9,506.4L477.3,502.4L477.4,499.7L467.7,492.4ZM476.2,511.4L481.5,513.0L485.0,512.5L488.9,511.6L486.0,508.0L477.8,500.0L477.4,499.7L477.3,502.4L472.9,506.4ZM172.0,538.6L173.6,542.3L173.6,542.1L175.6,536.1L177.8,531.9L175.7,528.5L174.5,520.9L173.4,520.6L170.6,526.3L168.4,529.9L165.8,534.9ZM237.4,523.4L240.5,524.4L243.5,522.9L246.1,520.6L246.0,519.8L242.2,516.0L238.4,512.4L235.9,515.9ZM243.5,522.9L240.5,524.4L241.9,531.7L248.5,530.9ZM256.1,508.2L247.2,504.0L246.3,506.6L248.0,510.8L248.6,515.8L256.4,516.5ZM253.6,527.7L253.2,526.4L246.1,520.6L243.5,522.9L248.5,530.9L251.4,531.9L252.8,530.4L253.4,528.8ZM260.8,525.5L253.6,527.7L253.4,528.8L257.9,530.9L264.1,532.8L268.6,526.8L269.2,526.5L269.0,525.3L266.6,522.8ZM269.0,525.3L269.7,519.8L272.5,516.4L269.3,513.8L267.8,509.3L261.9,513.3L258.9,516.9L261.6,521.4L266.6,522.8ZM269.2,526.5L274.8,527.5L280.3,527.3L283.5,529.1L290.5,529.4L291.4,526.3L291.4,522.9L287.7,516.8L281.4,514.3L272.5,516.4L269.7,519.8L269.0,525.3ZM298.8,518.4L302.3,513.4L297.2,509.3L291.0,512.3L287.7,516.8L291.4,522.9L296.9,521.4ZM302.3,513.4L303.4,514.6L306.3,508.2L299.7,503.6L297.2,509.3ZM308.1,516.7L303.4,514.6L302.3,513.4L298.8,518.4L296.9,521.4L301.0,520.8L305.7,520.3ZM300.0,527.9L301.9,529.2L306.4,526.9L307.3,524.2L305.7,520.3L301.0,520.8L296.9,521.4L291.4,522.9L291.4,526.3L294.2,527.2L296.6,527.5L296.8,527.2L297.3,527.6ZM320.8,510.2L315.0,502.6L313.1,507.8L312.9,516.0L320.5,516.8ZM355.4,511.8L352.1,514.3L345.8,516.2L341.8,516.0L340.9,516.8L345.4,520.4L350.8,523.0L355.5,523.2L359.4,526.1L366.2,523.2L366.4,522.5L362.8,517.1L357.2,511.6ZM393.3,525.8L398.0,526.1L402.5,525.4L404.4,520.4L406.4,513.7L404.0,511.5L401.3,509.6L401.1,509.8L396.0,512.0L390.0,516.7L386.1,517.7L386.0,519.3L386.4,524.4L388.6,525.8ZM381.8,502.1L380.6,512.1L382.6,515.5L386.1,517.7L390.0,516.7L396.0,512.0L401.1,509.8L394.3,509.3L390.4,505.7L386.2,503.3L382.8,501.6ZM406.4,513.7L409.7,516.4L414.6,516.7L419.5,520.8L424.4,513.9L423.3,509.8L419.7,506.5L416.9,502.4L416.4,502.6L411.6,506.0L408.5,508.8L404.0,511.5ZM411.8,538.3L420.5,536.1L422.4,531.7L419.8,524.8L419.5,520.8L414.6,516.7L409.7,516.4L406.4,513.7L404.4,520.4L402.5,525.4L406.2,531.8ZM436.9,516.4L435.1,521.1L432.7,525.1L429.4,529.5L437.2,533.4L443.2,528.9L439.8,521.4ZM419.5,520.8L419.8,524.8L422.4,531.7L429.4,529.5L432.7,525.1L435.1,521.1L436.9,516.4L435.9,510.9L430.2,512.6L424.4,513.9ZM443.2,528.9L448.9,530.1L453.4,531.9L457.5,525.8L455.6,522.9L451.9,523.3L444.4,520.7L439.8,521.4ZM435.9,510.9L436.9,516.4L439.8,521.4L444.4,520.7L451.9,523.3L455.6,522.9L455.9,518.6L456.4,513.5L454.8,506.9L454.2,506.9L448.6,507.0L442.6,507.8L439.7,506.6ZM470.9,505.7L464.9,505.8L459.9,506.6L454.8,506.9L456.4,513.5L455.9,518.6L455.6,522.9L457.5,525.8L461.1,525.7L466.1,523.0L468.9,517.9L472.8,514.1L476.2,511.4L472.9,506.4ZM481.5,513.0L476.2,511.4L472.8,514.1L468.9,517.9L466.1,523.0L461.1,525.7L465.9,528.5L473.6,530.6L476.0,526.5L478.5,522.0L481.3,516.2ZM484.0,524.1L485.6,529.6L486.2,534.6L490.8,531.0L497.1,529.8L493.2,526.8L489.6,523.1L486.0,521.4L482.1,519.2ZM485.0,512.5L481.5,513.0L481.3,516.2L482.1,519.2L486.0,521.4L489.6,523.1L493.2,526.8L497.1,529.8L499.4,530.0L501.6,527.3L500.0,525.0L493.0,516.7L488.9,511.6ZM509.5,532.4L512.9,535.1L515.2,537.6L520.3,532.0L520.8,531.5L516.7,530.6L509.2,532.2ZM150.4,536.7L150.9,530.6L146.9,529.4L141.4,530.6L141.2,530.7L140.4,540.4L145.3,540.0L149.3,540.9ZM162.4,532.5L158.5,528.1L150.9,530.6L150.4,536.7L149.3,540.9L149.8,541.7L158.1,538.2ZM155.9,551.5L162.3,553.3L170.8,555.0L172.9,549.4L173.7,544.3L173.6,542.3L172.0,538.6L165.5,540.3L160.1,542.4ZM191.8,534.9L186.4,531.7L182.9,529.5L177.8,531.9L175.6,536.1L173.6,542.1L179.5,539.6L186.3,538.1L191.1,537.3ZM226.5,533.7L221.2,530.3L215.6,532.0L210.6,533.3L212.8,539.0L215.2,542.2L215.6,542.6L224.4,535.6L226.9,534.3ZM215.2,542.2L212.8,539.0L212.6,539.6L209.6,544.3L206.7,546.9L205.9,548.7L213.3,544.4L215.6,542.6ZM272.1,533.0L268.6,526.8L264.1,532.8L261.8,538.6L262.4,539.3L265.9,541.5L268.0,540.0L271.5,536.0L274.5,538.2L275.6,536.8ZM262.4,539.3L261.0,542.9L260.5,543.9L261.6,544.4L265.9,541.5ZM290.1,532.7L290.5,529.4L283.5,529.1L280.3,527.3L274.8,527.5L269.2,526.5L268.6,526.8L272.1,533.0L275.6,536.8L279.8,537.3L284.7,536.9ZM283.3,543.8L284.7,536.9L279.8,537.3L275.6,536.8L274.5,538.2L277.0,540.0L282.3,545.3L283.3,543.9ZM290.1,532.7L284.7,536.9L283.3,543.8L283.3,543.9L287.8,538.0L293.0,540.0L293.2,537.7ZM300.0,527.9L297.3,527.6L300.4,530.0L301.9,529.2ZM294.2,527.2L291.4,526.3L290.5,529.4L290.1,532.7L293.2,537.7L294.0,530.8L296.6,527.5ZM321.4,544.2L321.4,535.8L317.1,534.7L318.4,540.0L321.0,544.2ZM329.8,550.5L326.4,546.9L321.4,544.2L321.0,544.2L324.0,549.0L328.3,551.7ZM339.5,546.3L335.9,543.7L332.2,538.9L329.8,534.8L325.3,530.4L321.4,535.8L321.4,544.2L326.4,546.9L329.8,550.5L334.7,551.7L338.5,551.3ZM341.7,537.8L341.9,530.9L338.3,525.8L333.4,527.9L330.6,528.9L325.1,529.4L325.3,530.4L329.8,534.8L332.2,538.9L335.9,543.7L339.5,546.3L341.2,543.3ZM346.9,541.3L351.7,541.9L355.1,540.7L355.8,534.1L356.4,530.4L352.3,529.7L347.1,530.6L341.9,530.9L341.7,537.8L341.2,543.3ZM356.0,551.1L360.8,548.5L365.9,547.5L358.8,544.0L355.1,540.7L351.7,541.9L346.9,541.3L341.2,543.3L339.5,546.3L338.5,551.3L339.3,552.4L345.5,551.6L354.4,552.3ZM368.8,533.6L368.8,536.7L369.7,541.4L369.9,545.5L374.7,550.8L379.5,547.8L383.8,544.4L383.8,539.6L381.9,534.5L380.8,529.4L373.5,528.0L368.6,527.6ZM358.8,544.0L365.9,547.5L369.9,545.5L369.7,541.4L368.8,536.7L368.8,533.6L368.6,527.6L366.2,523.2L359.4,526.1L356.4,530.4L355.8,534.1L355.1,540.7ZM389.1,543.9L393.3,538.3L391.6,535.4L390.4,531.5L388.6,525.8L386.4,524.4L380.8,529.4L381.9,534.5L383.8,539.6L383.8,544.4L386.8,544.8ZM390.4,531.5L391.6,535.4L393.3,538.3L396.7,536.6L400.6,534.6L406.2,531.8L402.5,525.4L398.0,526.1L393.3,525.8L388.6,525.8ZM409.0,552.1L414.6,550.1L421.0,548.2L424.3,548.0L424.5,541.4L420.5,536.1L411.8,538.3L409.9,543.0L409.0,549.8ZM409.9,543.0L411.8,538.3L406.2,531.8L400.6,534.6L396.7,536.6L393.3,538.3L389.1,543.9L394.6,545.5L399.5,548.0L404.5,548.1L409.0,549.8ZM437.7,540.1L431.6,542.2L424.5,541.4L424.3,548.0L427.6,550.8L429.5,553.8L434.7,554.1L437.9,549.8L440.4,542.6ZM420.5,536.1L424.5,541.4L431.6,542.2L437.7,540.1L437.2,533.4L429.4,529.5L422.4,531.7ZM445.4,546.9L450.5,550.5L454.0,553.8L457.5,553.6L459.1,547.8L462.4,543.5L459.0,537.5L453.8,532.7L449.5,537.9L445.3,540.7L441.3,542.7ZM441.3,542.7L445.3,540.7L449.5,537.9L453.8,532.7L453.4,531.9L448.9,530.1L443.2,528.9L437.2,533.4L437.7,540.1L440.4,542.6ZM474.3,534.9L473.6,530.6L465.9,528.5L461.1,525.7L457.5,525.8L453.4,531.9L453.8,532.7L459.0,537.5L462.4,543.5L470.1,540.5ZM476.6,546.5L483.3,548.6L489.3,544.3L484.8,537.7L480.1,535.8L474.3,534.9L470.1,540.5L472.9,544.6ZM490.8,531.0L486.2,534.6L484.8,537.7L489.3,544.3L493.2,546.5L499.1,547.8L503.6,548.2L502.1,542.8L501.2,539.3L500.6,534.3L499.4,530.0L497.1,529.8ZM500.6,534.3L501.2,539.3L502.1,542.8L503.6,548.2L506.3,549.2L511.3,547.3L514.8,541.9L515.2,537.6L512.9,535.1L509.5,532.4L509.2,532.2L505.6,533.0L501.6,527.3L499.4,530.0ZM529.1,544.6L534.8,547.1L538.7,547.0L538.8,546.6L530.6,544.4L529.8,541.1ZM520.3,532.0L515.2,537.6L514.8,541.9L511.3,547.3L516.3,550.2L520.5,548.1L525.9,548.2L529.1,544.6L529.8,541.1L527.8,533.0L520.8,531.5ZM538.7,547.0L540.8,550.9L540.3,547.0L538.8,546.6ZM123.6,561.0L120.2,558.9L116.9,559.8L120.0,564.4L123.3,564.4ZM134.0,556.1L133.5,558.2L134.0,558.4L139.7,559.0L143.4,557.3L148.8,558.8L149.1,550.8L144.0,549.5L139.6,550.2ZM148.8,558.8L143.4,557.3L139.7,559.0L134.0,558.4L135.8,562.8L137.4,568.2L144.9,566.5L149.1,565.2L149.1,565.2ZM149.1,550.8L148.8,558.8L149.1,565.2L155.7,563.2L159.4,557.7L162.3,553.3L155.9,551.5L151.2,549.7ZM165.8,571.7L165.0,578.7L167.4,576.4L171.3,575.0L176.8,573.0L179.1,565.4L175.2,559.5L172.2,556.0L167.7,559.1L165.8,564.8L163.2,568.8ZM338.5,551.3L334.7,551.7L329.8,550.5L328.3,551.7L331.0,553.4L339.3,552.4ZM367.4,559.9L373.2,555.8L374.3,553.6L374.7,550.8L369.9,545.5L365.9,547.5L360.8,548.5L356.0,551.1L354.4,552.3L356.4,552.5L367.0,559.7L367.3,560.0ZM373.2,555.8L372.4,561.7L372.7,565.1L378.0,568.7L383.3,561.6L379.0,557.9L374.3,553.6ZM408.7,555.2L410.0,556.2L416.9,553.9L421.2,551.8L427.6,550.8L424.3,548.0L421.0,548.2L414.6,550.1L409.0,552.1ZM421.2,551.8L416.9,553.9L410.0,556.2L413.8,558.2L418.0,561.7L421.6,564.6L421.9,564.5L426.2,558.5L429.5,553.8L427.6,550.8ZM471.7,550.7L470.5,554.7L470.0,558.6L469.9,564.2L477.1,563.2L481.5,558.8L482.1,554.2L483.3,548.6L476.6,546.5L472.9,544.6ZM470.1,540.5L462.4,543.5L459.1,547.8L457.5,553.6L459.7,556.6L464.2,561.9L467.8,564.3L469.9,564.2L470.0,558.6L470.5,554.7L471.7,550.7L472.9,544.6ZM477.1,563.2L478.9,566.4L482.2,570.1L487.0,574.9L494.7,573.5L495.3,573.4L501.9,569.9L502.6,569.1L501.8,563.4L501.0,558.4L495.8,560.3L491.8,559.0L485.0,558.3L481.5,558.8ZM482.1,554.2L481.5,558.8L485.0,558.3L491.8,559.0L495.8,560.3L501.0,558.4L504.4,554.0L506.3,549.2L503.6,548.2L499.1,547.8L493.2,546.5L489.3,544.3L483.3,548.6ZM521.3,571.1L527.0,568.6L524.6,562.2L523.9,557.9L522.9,557.1L520.0,562.2L518.2,565.1L514.1,569.4L511.7,573.6L511.9,573.7L517.1,574.4ZM519.8,553.4L516.3,550.2L511.3,547.3L506.3,549.2L504.4,554.0L501.0,558.4L501.8,563.4L502.6,569.1L505.8,571.8L511.7,573.6L514.1,569.4L518.2,565.1L520.0,562.2L522.9,557.1ZM538.7,547.0L534.8,547.1L529.1,544.6L525.9,548.2L520.5,548.1L516.3,550.2L519.8,553.4L522.9,557.1L523.9,557.9L529.1,558.7L532.7,558.0L539.2,555.6L541.0,551.8L540.8,550.9ZM538.1,560.1L539.2,555.6L532.7,558.0L529.1,558.7L523.9,557.9L524.6,562.2L527.0,568.6L528.8,571.1L533.7,568.0L538.6,565.7L540.1,564.7ZM557.6,569.2L557.6,564.8L555.6,564.0L549.5,560.9L549.1,561.2L544.9,561.5L542.1,565.3L548.0,568.8L553.4,572.0L554.6,572.0ZM539.2,555.6L538.1,560.1L540.1,564.7L542.1,565.3L544.9,561.5L549.1,561.2L549.5,560.9L541.7,557.0L541.0,551.8ZM557.6,569.2L562.5,571.6L563.1,572.0L566.7,572.0L569.4,569.4L557.6,564.8ZM138.7,577.2L137.6,574.7L131.0,576.2L130.1,576.6L135.6,582.0L138.1,585.5L139.1,584.3ZM131.1,568.1L127.5,568.4L129.0,575.6L130.1,576.6L131.0,576.2L137.6,574.7L137.8,569.4ZM149.1,565.2L144.9,566.5L137.4,568.2L137.8,569.4L137.6,574.7L138.7,577.2L142.2,578.2L148.3,575.8L154.1,576.2L152.5,571.6ZM157.1,568.2L152.5,571.6L154.1,576.2L155.5,579.1L162.8,580.4L165.0,578.7L165.8,571.7L163.2,568.8L160.5,568.5ZM173.3,580.8L176.8,584.9L182.2,587.6L185.2,585.9L182.8,578.1L179.6,576.4L176.8,573.0L171.3,575.0L167.4,576.4ZM192.1,570.0L190.9,573.0L185.7,576.2L182.8,578.1L185.2,585.9L188.4,586.3L188.7,586.3L186.7,582.0L191.0,573.0L192.3,570.0ZM402.8,576.1L402.0,573.2L401.5,569.1L396.5,570.9L391.1,571.8L390.5,572.7L398.0,576.0L402.9,578.4ZM420.5,576.2L422.0,572.1L424.1,567.5L421.9,564.5L421.6,564.6L416.7,567.7L413.4,571.7L414.0,575.5L413.8,581.7L419.4,581.1ZM430.5,568.6L424.1,567.5L422.0,572.1L420.5,576.2L419.4,581.1L421.0,581.0L430.0,572.0L431.3,570.9ZM442.9,564.1L436.3,565.7L430.5,568.6L431.3,570.9L436.0,566.7L441.1,567.9L443.1,564.9L443.1,564.6ZM443.1,564.9L441.1,567.9L445.5,569.0ZM462.5,573.4L475.0,580.6L475.8,580.6L473.9,579.0L470.0,575.5L464.8,571.2ZM467.8,564.3L464.8,571.2L470.0,575.5L473.9,579.0L475.8,580.6L479.3,580.6L481.2,577.2L487.0,574.9L482.2,570.1L478.9,566.4L477.1,563.2L469.9,564.2ZM495.3,573.4L494.7,573.5L494.1,574.7L495.4,574.6ZM487.0,574.9L481.2,577.2L479.3,580.6L483.3,580.6L488.9,575.0L494.1,574.7L494.7,573.5ZM501.9,569.9L495.3,573.4L495.4,574.6L503.5,574.1ZM511.7,573.6L505.8,571.8L502.6,569.1L501.9,569.9L503.5,574.1L511.0,573.6L511.9,573.7ZM539.3,571.9L538.6,565.7L533.7,568.0L528.8,571.1L530.5,575.6L530.6,576.1L533.3,576.4L540.1,574.6ZM530.5,575.6L528.8,571.1L527.0,568.6L521.3,571.1L517.1,574.4L530.6,576.1ZM562.5,571.6L557.6,569.2L554.6,572.0L563.1,572.0ZM548.0,568.8L542.1,565.3L540.1,564.7L538.6,565.7L539.3,571.9L540.1,574.6L550.0,572.0L553.4,572.0ZM156.1,603.8L155.7,600.9L151.5,597.1L145.8,598.9L144.3,599.8L144.4,600.0L151.0,602.0L154.2,606.9ZM178.9,600.9L177.2,594.1L169.8,593.2L163.7,589.7L160.4,596.7L157.6,600.1L160.8,602.4L165.3,604.6L167.8,607.9L173.2,606.5L177.7,606.2ZM165.6,612.5L167.8,607.9L165.3,604.6L160.8,602.4L157.6,600.1L155.7,600.9L156.1,603.8L154.2,606.9L155.6,609.0L162.2,611.0L165.5,617.7ZM170.7,638.1L170.6,638.0L171.0,640.0L174.7,638.8ZM183.5,631.3L179.8,628.1L174.1,624.6L170.0,623.5L169.9,623.5L168.9,628.9L170.6,638.0L170.7,638.1L174.7,638.8L177.8,637.8L178.2,637.9L180.6,635.7ZM180.6,635.7L178.2,637.9L183.2,639.6ZM183.5,631.3L180.6,635.7L183.2,639.6L184.4,640.0L191.0,637.8L191.7,630.5Z"/>
<path fill="#cce9de" stroke="#555b58" stroke-width="0.6" stroke-opacity="0.9" d="M172.0,251.8L171.6,246.4L171.6,241.7L170.8,242.0L169.8,258.0L166.2,258.3L166.4,259.1L173.2,258.0ZM182.2,239.7L181.0,234.7L181.2,229.3L180.6,226.3L178.3,235.6L177.8,239.8ZM171.6,241.6L171.6,241.7L171.6,246.4L172.0,251.8L173.2,258.0L173.4,258.9L175.7,261.0L178.5,260.7L179.5,254.8L179.7,249.3L179.7,245.9L182.4,239.9L182.2,239.7L177.8,239.8L177.8,240.0L172.1,241.4ZM211.3,246.2L210.3,237.6L206.6,236.8L200.6,237.6L199.3,238.6L201.0,247.5L206.7,248.4ZM211.3,246.2L211.4,246.4L219.3,247.3L226.1,242.4L227.9,239.7L222.9,237.6L217.8,235.3L210.3,237.6ZM344.6,236.9L339.2,241.7L337.9,244.5L332.3,249.3L332.3,249.6L337.7,251.9L343.6,253.5L348.1,251.8L355.7,247.5L353.3,242.5L348.6,239.2ZM354.2,234.3L348.6,239.2L353.3,242.5L356.0,237.1L359.5,232.9L358.7,230.5ZM370.5,245.1L370.0,242.2L368.7,240.3L362.3,237.7L359.6,243.4L358.1,248.1L364.9,253.9L372.3,250.4ZM373.4,240.8L379.6,238.3L379.7,234.6L381.2,227.5L376.4,227.0L372.7,229.8L371.5,234.8L368.7,240.3L370.0,242.2ZM372.3,250.4L374.3,249.1L379.1,246.6L383.4,244.1L379.6,238.3L373.4,240.8L370.0,242.2L370.5,245.1L372.3,250.4ZM387.8,232.5L386.4,238.1L385.2,244.2L386.4,244.4L393.4,243.2L398.6,239.9L397.3,236.6L396.6,230.5L393.0,226.4L389.4,227.7ZM390.6,253.5L394.9,249.6L397.4,246.9L400.9,244.2L398.6,239.9L393.4,243.2L386.4,244.4L387.5,251.2ZM157.9,265.7L160.7,260.8L159.4,259.9L155.6,265.6L152.4,267.5L155.6,269.6ZM293.6,257.8L291.9,253.1L291.5,247.8L291.4,245.0L286.7,250.4L285.3,257.3L291.9,259.7ZM299.3,258.0L302.7,256.6L308.8,256.9L306.8,251.1L305.0,246.2L302.9,242.0L300.8,235.7L293.6,237.7L291.4,245.0L291.5,247.8L291.9,253.1L293.6,257.8ZM348.8,263.7L344.2,260.1L343.6,253.5L337.7,251.9L332.3,249.6L330.1,252.1L326.9,254.1L326.7,260.5L327.0,265.8L327.5,269.6L327.6,274.8L328.3,279.5L331.2,280.3L337.0,279.3L341.6,277.7L344.2,273.8L348.9,270.4L351.5,267.9ZM96.5,278.3L102.1,281.5L106.4,284.0L106.7,283.3L96.5,278.3ZM158.3,284.9L158.1,293.0L162.4,294.1L165.7,290.8L172.0,287.4L170.5,281.4L168.4,279.0L162.0,277.4ZM170.5,281.4L177.7,280.3L183.8,280.3L179.8,275.6L174.4,270.9L171.3,276.3L168.4,279.0ZM179.8,275.6L183.8,280.3L184.1,280.0L187.6,280.0L192.0,276.1L190.7,271.0L188.9,266.7L185.1,264.7L182.3,260.4L178.5,260.7L175.7,261.0L175.5,265.5L174.4,270.9ZM178.7,294.2L184.0,294.4L191.7,294.3L189.3,289.4L189.4,285.3L187.6,280.0L184.1,280.0L179.5,285.1L177.2,290.4ZM201.2,281.7L204.1,286.9L205.4,292.9L208.2,291.7L210.0,286.0L212.3,282.3L214.3,277.5L209.1,276.0L204.5,276.8L199.5,278.7L199.3,279.0ZM214.3,277.5L212.3,282.3L210.0,286.0L208.2,291.7L214.5,290.9L220.8,291.3L221.2,284.7L218.0,277.9ZM241.9,281.2L246.8,281.4L250.8,279.4L251.7,278.1L248.3,273.9L243.6,272.3L240.9,274.8ZM241.5,288.2L242.3,292.9L247.8,290.8L251.0,289.5L252.5,285.2L250.8,279.4L246.8,281.4L241.9,281.2L241.7,281.7ZM261.1,273.8L258.5,270.2L254.0,267.6L248.3,273.9L251.7,278.1L256.6,276.9L260.7,277.7L266.6,277.3ZM365.0,269.4L360.8,266.4L356.0,264.4L351.5,267.9L348.9,270.4L351.8,274.3L355.7,279.4L360.3,278.5L364.9,276.4ZM371.2,294.8L369.4,291.2L367.2,287.7L365.3,284.5L360.0,284.0L357.4,287.2L363.1,290.5L366.1,293.6L371.8,296.3ZM379.4,284.7L379.3,282.2L372.7,283.4L370.3,284.8L374.3,289.2ZM389.7,283.4L387.1,278.2L384.9,276.1L380.4,278.0L380.4,278.6L383.4,282.9L387.3,287.4ZM381.9,285.6L387.3,289.0L387.3,287.4L383.4,282.9L380.4,278.6L379.3,282.2L379.4,284.7ZM392.3,277.2L394.9,275.9L391.2,272.1L387.2,273.7L384.9,276.1L387.1,278.2ZM394.3,283.6L394.4,283.3L392.3,277.2L387.1,278.2L389.7,283.4ZM387.3,289.0L389.3,293.6L396.6,287.7L394.3,283.6L389.7,283.4L387.3,287.4ZM391.2,272.1L394.9,275.9L401.7,278.3L404.8,277.2L408.9,273.6L403.8,271.2L398.6,271.2L393.4,269.2ZM80.1,303.0L79.6,302.5L75.6,305.6L69.2,311.9L71.0,314.7L76.5,311.7L80.7,307.4ZM89.2,284.3L83.6,282.1L81.6,283.4L81.1,290.0L83.1,295.5L86.9,292.3L89.6,288.9L89.6,285.0ZM172.0,287.4L165.7,290.8L162.4,294.1L165.7,299.3L166.9,302.5L172.1,306.3L172.9,306.3L174.1,303.8L176.8,299.1L178.7,294.2L177.2,290.4ZM201.6,303.6L206.0,304.6L210.2,305.1L215.3,303.5L218.8,304.7L222.9,306.1L225.5,300.8L228.1,296.1L222.6,293.6L220.8,291.3L214.5,290.9L208.2,291.7L205.4,292.9L202.3,295.8L201.4,301.2ZM346.5,293.1L342.5,286.4L341.1,285.1L340.1,289.1L338.5,295.9L338.4,300.1L343.6,299.5L349.0,298.6ZM339.8,308.1L345.6,308.6L346.5,307.4L349.6,298.8L349.0,298.6L343.6,299.5L338.4,300.1L334.3,302.9ZM349.6,298.8L355.2,297.7L355.8,293.9L356.0,287.9L349.8,287.4L342.5,286.4L346.5,293.1L349.0,298.6ZM371.8,296.3L366.1,293.6L363.1,290.5L357.4,287.2L356.0,287.9L355.8,293.9L355.2,297.7L359.3,300.9L365.4,298.9L371.9,297.3ZM371.9,297.3L365.4,298.9L359.3,300.9L359.0,306.4L363.3,311.0L366.5,307.5L371.6,303.7L372.5,299.4ZM372.5,299.4L371.6,303.7L371.9,309.3L373.8,313.9L376.3,316.2L380.4,309.9L381.9,306.1L379.5,300.7L379.5,300.6ZM379.5,300.7L384.2,299.2L390.0,297.4L390.5,296.7L389.3,293.6L387.3,289.0L381.9,285.6L379.4,293.5L379.5,300.6ZM392.5,309.8L390.3,304.4L390.0,297.4L384.2,299.2L379.5,300.7L381.9,306.1L388.4,312.7ZM396.4,298.0L390.5,296.7L390.0,297.4L390.3,304.4L392.5,309.8L395.5,309.8L398.7,307.3L398.2,304.1L396.7,301.0L397.0,299.8ZM396.4,298.0L397.0,299.8L397.5,297.7ZM398.7,307.3L399.7,307.2L398.2,304.1ZM60.8,323.9L66.0,328.3L67.7,326.7L68.9,322.0L70.0,318.1L61.6,317.7L59.1,321.9ZM70.0,318.1L68.9,322.0L67.7,326.7L71.6,329.6L80.6,325.6L80.8,325.0L78.6,321.1L75.2,317.9L71.2,315.5ZM78.7,315.5L75.2,317.9L78.6,321.1L83.6,317.7L86.8,316.2L84.9,309.9L84.1,309.8ZM91.9,310.4L87.8,310.0L84.9,309.9L86.8,316.2L89.4,317.4L92.5,316.9ZM92.5,316.9L89.4,317.4L88.2,321.2L95.7,324.3L92.9,317.4ZM95.7,324.3L88.2,321.2L86.3,325.6L90.5,327.3L92.9,328.6L97.1,324.9ZM251.7,330.7L253.3,326.5L253.8,321.2L248.8,316.9L246.5,323.0L241.2,324.9L245.5,328.8L249.8,331.1ZM260.7,315.5L261.4,309.9L261.0,305.0L256.5,306.2L251.1,308.8L246.3,309.2L248.8,316.9L253.8,321.2L260.7,322.4ZM286.1,311.7L282.2,317.5L283.3,323.1L281.9,329.6L288.0,330.3L293.5,332.0L295.4,327.2L295.6,325.7L295.0,318.8L289.3,311.0ZM392.5,323.3L397.4,314.8L395.5,309.8L392.5,309.8L388.4,312.7L386.6,316.3ZM399.4,324.1L394.2,328.5L399.0,329.9L403.6,331.1L404.4,323.0L403.6,319.8ZM56.2,351.3L57.9,351.7L61.3,346.2L66.8,341.4L66.4,340.8L61.2,340.5L55.8,343.1L55.7,343.1L55.6,343.3L54.4,349.0ZM66.0,328.3L61.9,332.6L66.4,340.8L66.8,341.4L67.8,341.7L72.0,336.6L71.6,329.6L67.7,326.7ZM80.6,325.6L71.6,329.6L72.0,336.6L75.9,337.5L76.8,337.1L81.2,331.1ZM141.0,339.6L142.1,337.2L141.5,336.1L138.1,340.7ZM141.0,339.6L141.9,344.3L146.3,347.0L150.4,345.9L152.5,340.9L146.5,338.9L142.1,337.2ZM154.3,339.2L152.5,340.9L150.4,345.9L151.7,348.0L158.8,350.2L165.0,347.1L161.3,341.5L156.9,336.7ZM171.8,334.3L169.9,338.6L170.2,345.8L176.5,342.7L177.7,340.3L176.1,335.5L175.0,329.6ZM175.0,329.6L176.1,335.5L177.7,340.3L181.9,341.1L188.9,339.1L190.4,337.1L186.8,334.0L185.0,328.9L182.4,324.9L179.4,322.6L175.3,325.7ZM187.7,345.9L188.9,339.1L181.9,341.1L177.7,340.3L176.5,342.7L180.8,348.3ZM261.9,345.5L262.8,347.1L265.7,350.1L269.6,350.4L272.6,347.8L270.5,345.6L267.1,342.1L263.6,338.4L261.6,338.6L259.6,340.6ZM283.6,350.4L288.4,351.3L292.8,347.7L285.8,338.8L281.7,340.4L278.4,344.5L278.8,345.9ZM299.8,331.7L295.4,327.2L293.5,332.0L292.5,334.7L297.5,339.8L302.7,336.3ZM298.6,344.3L297.5,339.8L292.5,334.7L285.8,338.8L292.8,347.7L296.5,346.3ZM367.7,337.8L370.4,340.9L374.3,339.8L377.6,340.1L376.7,335.4L375.8,330.2L372.7,330.3L367.5,329.5ZM375.8,330.2L376.7,335.4L377.6,340.1L378.6,340.2L384.2,337.4L391.2,335.0L392.0,329.9L387.0,328.5L379.7,326.3ZM381.9,346.9L389.5,349.5L389.4,343.5L392.3,338.8L391.2,335.0L384.2,337.4L378.6,340.2ZM391.2,335.0L392.3,338.8L400.1,343.4L404.0,339.2L404.1,339.1L403.3,334.4L403.6,331.1L399.0,329.9L394.2,328.5L392.9,329.2L392.0,329.9ZM390.4,350.2L394.4,349.0L400.5,348.2L400.1,343.4L392.3,338.8L389.4,343.5L389.5,349.5ZM55.1,358.8L57.8,365.6L58.3,366.6L58.5,366.5L62.7,364.9L66.2,362.3L66.2,361.6L62.7,360.0L56.5,357.1ZM60.9,369.0L65.8,370.0L69.4,366.8L66.2,362.3L62.7,364.9L58.5,366.5L58.3,366.6L59.6,369.2ZM76.5,356.6L77.7,353.0L78.4,346.9L71.4,346.5L68.5,354.5L68.8,356.1ZM66.2,362.3L69.4,366.8L72.4,368.9L77.0,365.7L77.7,362.5L77.0,356.9L76.5,356.6L68.8,356.1L66.2,361.6ZM187.7,364.4L194.2,366.9L194.8,365.6L190.0,357.4L187.5,359.3L187.5,359.3ZM318.7,365.0L314.9,363.5L308.0,364.2L307.8,364.3L306.0,369.1L309.8,371.4L314.2,375.4L319.0,372.4ZM331.0,356.6L332.0,362.9L336.7,362.9L337.3,358.4L337.8,353.4L332.1,351.6L328.1,352.6ZM370.4,359.4L372.4,351.8L368.9,346.7L361.8,348.3L360.6,348.1L359.2,357.3L364.2,357.2L370.2,359.5ZM380.6,354.0L379.0,349.9L372.4,351.8L370.4,359.4L373.8,360.4L380.5,360.7L382.5,358.8ZM388.2,359.4L390.1,353.8L390.4,350.2L389.5,349.5L381.9,346.9L379.0,349.9L380.6,354.0L382.5,358.8ZM388.2,359.4L382.5,358.8L380.5,360.7L381.2,366.5L384.2,368.6L390.7,364.4L390.5,360.0ZM396.9,357.7L399.7,355.3L402.0,350.1L400.5,348.2L394.4,349.0L390.4,350.2L390.1,353.8L388.2,359.4L390.5,360.0ZM390.7,364.4L392.8,369.2L397.8,371.0L401.4,370.9L399.2,364.5L396.9,357.7L390.5,360.0ZM321.8,385.8L315.0,382.4L312.7,380.6L309.2,383.2L310.5,387.1L316.3,392.5ZM324.5,378.8L329.3,383.5L332.5,379.7L331.4,372.5L327.3,371.7L321.3,374.0ZM335.9,370.5L331.4,372.5L332.5,379.7L334.5,380.0L338.2,376.8L340.6,370.9L338.5,367.1L338.4,367.1ZM338.9,386.1L336.8,382.4L336.4,381.8L334.5,380.0L332.5,379.7L329.3,383.5L328.7,384.1L330.7,388.3L334.2,391.5L339.5,391.3ZM374.8,373.6L385.4,375.5L384.2,368.6L381.2,366.5L374.6,369.2ZM215.7,412.5L216.6,411.5L209.7,406.4L204.9,404.3L205.1,411.7L208.8,414.1L214.4,413.6ZM239.7,398.2L242.9,404.1L244.9,403.5L245.4,403.2L246.0,393.8L240.1,396.7ZM264.5,402.2L261.3,400.4L259.0,405.7L258.4,410.5L265.5,411.8L267.8,411.2L270.9,405.1ZM367.3,396.5L370.2,394.8L371.3,388.1L370.7,387.9L364.6,391.2L364.4,391.3ZM414.6,410.0L411.3,405.3L407.9,401.8L404.1,402.7L401.5,412.0L410.1,413.6ZM418.5,389.1L414.5,392.9L410.6,395.9L416.0,398.8L419.9,400.6L420.3,391.5ZM90.3,416.1L89.0,411.5L87.8,410.4L82.4,412.6L81.6,413.0L83.3,420.0L84.1,420.6L86.5,419.9L91.8,421.6ZM175.0,428.8L176.4,428.6L179.4,430.7L184.4,429.9L185.0,428.9L180.8,422.7L178.0,423.1ZM193.7,407.4L188.4,408.8L185.8,411.1L188.1,415.1L193.0,419.0L196.3,421.6L201.1,413.6ZM193.0,419.0L189.2,424.6L185.7,428.8L191.0,431.4L196.1,429.8L199.5,426.6L196.3,421.6ZM208.8,414.1L205.1,411.7L202.1,413.7L204.7,417.8L208.6,421.8L212.3,418.9L214.4,413.6ZM208.6,421.8L205.2,429.5L209.6,431.9L216.6,429.4L219.2,427.2L217.8,423.7L212.3,418.9ZM265.5,411.8L262.8,420.2L271.6,424.4L277.5,420.0L278.1,419.0L278.1,418.7L273.7,415.0L267.8,411.2ZM270.9,405.1L267.8,411.2L273.7,415.0L278.1,418.7L280.4,414.0L274.7,409.0L271.0,404.8ZM271.6,424.4L269.4,430.2L274.9,430.7L278.6,429.5L278.2,426.7L277.5,420.0ZM278.1,418.7L278.1,419.0L281.4,421.9L286.9,423.0L293.5,418.0L291.1,412.9L288.7,410.7L287.8,410.3L282.0,410.8L280.4,414.0ZM277.5,420.0L278.2,426.7L278.6,429.5L281.8,433.3L288.6,431.2L286.9,423.0L281.4,421.9L278.1,419.0ZM309.5,423.1L306.9,419.9L301.7,422.5L299.6,427.4L303.5,430.2L306.2,434.3L311.1,436.9L312.9,431.6L313.3,427.6ZM401.5,412.0L400.2,414.4L399.3,417.2L401.3,422.4L409.6,423.1L410.2,418.5L410.1,413.6ZM401.3,422.4L400.4,427.8L406.7,429.6L408.1,428.0L409.6,423.1ZM410.2,418.5L415.0,420.0L421.1,422.1L421.6,419.1L422.3,416.2L421.9,409.8L419.4,407.9L414.6,410.0L410.1,413.6ZM415.0,420.0L410.2,418.5L409.6,423.1L408.1,428.0L418.4,429.9L421.6,427.6L421.1,422.1ZM426.4,409.4L421.9,409.8L422.3,416.2L421.6,419.1L427.8,419.4L427.8,409.4ZM96.0,431.5L95.0,432.3L96.7,435.6L97.7,439.2L100.2,438.7L101.5,432.0L98.3,429.4ZM100.2,438.7L102.4,441.2L104.5,441.7L112.0,435.9L113.1,433.9L108.9,431.0L101.5,432.0ZM115.3,445.8L116.4,441.5L112.0,435.9L104.5,441.7L107.6,447.5ZM199.5,426.6L196.1,429.8L191.0,431.4L192.8,439.4L197.1,440.0L199.7,435.4L201.1,432.9L203.1,429.3ZM218.4,448.8L217.5,441.7L213.2,439.4L209.2,439.6L208.8,441.6L209.3,447.9L217.0,450.0ZM228.5,439.1L233.1,437.0L238.1,435.7L237.5,435.5L231.7,430.6L227.5,433.5L226.1,435.9ZM239.5,447.1L239.6,447.0L240.0,438.8L238.1,435.7L233.1,437.0L228.5,439.1L228.7,445.3L233.5,447.2L236.9,448.2ZM259.8,442.3L260.0,434.6L250.8,432.2L249.1,436.8L249.8,438.6L254.4,441.2L260.1,445.0ZM274.9,430.7L269.4,430.2L269.2,430.5L271.9,439.2L275.1,441.6L275.2,441.7L277.6,440.0L281.8,433.3L278.6,429.5ZM277.7,449.5L275.2,441.7L275.1,441.6L273.5,443.4L270.5,446.8L272.6,452.7ZM275.2,441.7L277.7,449.5L279.4,449.9L285.3,447.6L288.7,445.8L288.4,444.6L284.4,440.8L277.6,440.0ZM295.9,429.2L290.6,434.0L291.7,436.1L299.4,437.1L303.5,430.2L299.6,427.4ZM311.1,436.9L306.2,434.3L303.5,430.2L299.4,437.1L300.7,439.3L308.4,441.7L311.5,438.7ZM300.7,439.3L296.1,446.0L302.2,447.0L304.4,449.8L308.4,444.3L308.4,441.7ZM328.4,429.5L325.9,429.4L324.1,429.6L321.3,434.6L317.0,440.2L324.1,440.2L327.0,439.9L328.3,436.6L330.3,432.2ZM341.6,439.9L335.7,432.4L330.3,432.2L328.3,436.6L327.0,439.9L331.2,445.1L336.3,443.9L340.0,442.6ZM358.9,433.7L363.5,437.7L367.1,437.0L367.3,433.8L365.7,432.6L362.7,428.3L355.2,432.4ZM368.5,449.7L372.7,445.9L372.1,440.3L367.1,437.0L363.5,437.7L359.2,440.5L359.5,446.3L363.9,449.7ZM367.3,433.8L367.1,437.0L372.1,440.3L375.6,438.9L381.3,436.1L380.4,430.7L375.7,430.0L369.8,431.9ZM390.3,427.5L391.1,433.8L390.5,439.0L391.7,440.6L401.3,442.5L401.7,442.1L400.3,435.0L397.6,429.6ZM406.4,437.1L406.7,429.6L400.4,427.8L397.6,429.6L400.3,435.0L401.7,442.1L402.8,441.5ZM401.3,450.1L408.5,454.1L414.2,450.8L417.7,448.0L412.3,445.8L407.2,442.7L402.8,441.5L401.7,442.1L401.3,442.5L401.3,450.1ZM418.4,429.9L408.1,428.0L406.7,429.6L406.4,437.1L411.3,438.2L418.7,436.8ZM419.0,447.0L420.1,440.5L418.7,436.8L411.3,438.2L406.4,437.1L402.8,441.5L407.2,442.7L412.3,445.8L417.7,448.0ZM109.3,459.6L109.3,459.5L104.1,451.9L100.9,450.7L101.0,451.0L102.6,458.8ZM101.8,465.8L105.9,465.2L109.3,459.6L102.6,458.8L103.3,462.2L97.4,460.2L96.2,461.4L98.4,467.9L98.7,468.1ZM110.5,470.6L118.7,470.7L120.1,468.1L117.2,461.5L114.4,457.9L109.3,459.5L109.3,459.6L105.9,465.2ZM121.9,454.9L126.6,454.1L126.7,454.0L126.5,451.6L125.2,447.9L121.3,447.8L115.4,445.8L115.1,450.4L116.5,456.0ZM117.2,461.5L120.1,468.1L120.5,468.0L125.6,464.9L127.0,460.1L126.6,454.1L121.9,454.9L116.5,456.0L114.4,457.9ZM120.5,468.0L125.6,470.9L128.4,472.2L130.8,469.3L125.6,464.9ZM133.5,465.0L129.7,462.4L127.0,460.1L125.6,464.9L130.8,469.3L133.5,467.6L133.7,466.0ZM181.7,457.4L186.6,456.3L188.6,452.0L186.9,446.1L183.5,445.6L181.0,449.9L178.7,454.6ZM186.6,456.3L189.5,462.7L193.4,463.0L198.7,463.2L199.3,457.1L199.2,452.2L199.0,452.0L194.1,452.0L188.6,452.0ZM210.4,461.0L204.5,461.7L199.0,463.6L199.8,465.1L203.5,466.4L206.3,471.2L209.5,465.7L210.6,461.2ZM216.7,466.9L219.1,472.6L225.3,467.6L222.9,463.7L217.6,463.0ZM230.5,449.2L233.5,447.2L228.7,445.3L222.1,448.9L229.6,454.3ZM228.9,466.4L232.5,463.9L229.0,459.6L228.1,460.7L225.4,464.2ZM230.6,455.8L233.6,454.1L236.9,448.2L233.5,447.2L230.5,449.2L229.6,454.3L229.8,455.1ZM239.5,447.1L236.9,448.2L233.6,454.1L234.8,457.5L242.4,454.5ZM239.6,459.8L234.2,461.9L233.0,463.9L234.3,464.7L242.6,464.9L245.7,458.6L245.4,458.0ZM263.5,467.8L260.0,464.0L258.2,460.4L253.1,463.6L253.5,465.3L256.7,467.8L261.7,470.3L264.5,471.1ZM271.1,456.2L276.4,457.2L279.8,458.7L281.3,458.0L279.4,449.9L277.7,449.5L272.6,452.7ZM266.8,457.7L267.7,464.0L268.9,469.4L270.2,474.2L276.0,469.3L278.5,462.8L279.8,458.7L276.4,457.2L271.1,456.2ZM304.4,449.8L302.2,447.0L296.1,446.0L290.8,446.7L293.0,450.1L292.6,455.2L298.3,455.7L301.7,453.2L305.1,450.2ZM301.7,453.2L298.3,455.7L301.6,462.4L309.2,462.4L310.8,457.3L310.4,454.4L305.1,450.2ZM295.7,470.1L300.8,472.1L305.4,471.8L311.4,469.8L309.2,462.4L301.6,462.4ZM319.7,448.0L314.3,452.4L310.4,454.4L310.8,457.3L316.9,458.6L319.7,453.2L320.6,451.4ZM316.9,458.6L310.8,457.3L309.2,462.4L311.4,469.8L311.8,470.2L315.5,472.6L318.2,466.6L320.4,460.4L320.3,460.4ZM353.4,448.7L350.8,445.7L345.7,446.9L347.1,454.2L348.1,455.5L354.3,453.1ZM363.9,449.7L359.5,446.3L353.4,448.7L354.3,453.1L357.2,456.9L359.6,455.2ZM368.1,462.4L369.9,456.5L368.5,449.7L363.9,449.7L359.6,455.2L362.2,463.6ZM362.1,475.7L369.0,472.0L372.4,467.5L368.1,462.4L362.2,463.6L359.3,465.8L358.7,469.0ZM377.0,452.7L376.3,446.9L372.7,445.9L368.5,449.7L369.9,456.5L374.0,458.7L379.1,459.0ZM378.8,467.1L379.4,460.6L379.1,459.0L374.0,458.7L369.9,456.5L368.1,462.4L372.4,467.5ZM379.4,460.6L388.5,458.0L388.7,450.8L379.8,448.1L376.3,446.9L377.0,452.7L379.1,459.0ZM378.8,467.1L381.2,471.0L384.9,469.9L389.8,470.6L391.1,468.4L394.6,462.6L388.5,458.0L379.4,460.6ZM394.6,462.6L391.1,468.4L397.4,474.0L402.0,468.3L397.6,462.3L397.0,461.4ZM414.2,450.8L408.5,454.1L411.4,458.0L412.3,463.3L416.3,462.4L419.0,457.9L419.0,452.6L420.0,447.7L419.0,447.0L417.7,448.0ZM190.9,478.8L188.2,475.5L184.8,470.8L184.4,470.4L183.8,471.5L180.4,474.8L180.5,480.6L182.9,483.7L187.6,481.6ZM209.7,484.7L210.0,476.5L209.1,476.0L203.6,476.9L196.7,475.2L193.6,478.1L196.4,483.6L200.5,487.5L203.3,488.7ZM212.2,470.0L208.7,473.7L209.1,476.0L210.0,476.5L214.3,475.5L219.8,475.4L219.1,472.6L216.7,466.9ZM295.7,470.1L293.1,468.3L290.0,471.2L289.6,475.1L287.7,480.3L286.0,485.6L289.6,487.3L293.4,482.2L299.6,479.1L300.8,472.1ZM324.3,488.6L325.3,484.5L324.6,483.5L320.7,485.7L317.8,489.7L318.6,491.4ZM326.1,467.2L322.4,470.3L326.4,474.6L330.3,472.2L331.1,470.1ZM348.6,474.3L345.3,478.7L346.3,480.1L346.9,480.2L351.7,474.4L352.0,471.2L349.7,471.0ZM361.4,479.8L367.1,480.9L373.8,480.9L374.6,480.7L371.5,477.5L369.0,472.0L362.1,475.7ZM371.5,477.5L374.6,480.7L376.2,481.1L379.2,480.3L381.2,471.0L378.8,467.1L372.4,467.5L369.0,472.0ZM386.8,483.1L390.8,477.6L391.9,474.3L389.8,470.6L384.9,469.9L381.2,471.0L379.2,480.3ZM376.9,487.3L380.0,491.4L385.5,495.2L390.0,492.0L387.9,488.4L386.8,483.1L379.2,480.3L376.2,481.1ZM397.4,474.0L391.1,468.4L389.8,470.6L391.9,474.3L390.8,477.6L399.8,480.2L400.4,479.0ZM390.8,477.6L386.8,483.1L387.9,488.4L390.0,492.0L393.9,493.1L398.4,493.3L399.5,492.2L398.6,488.7L398.1,485.1L399.8,480.2ZM212.1,500.6L215.1,498.8L218.6,495.5L218.5,491.9L213.9,488.8L213.2,488.7L212.3,494.6L211.0,498.6ZM226.9,495.2L229.5,487.3L229.4,487.3L223.8,487.9L220.5,484.5L213.9,488.8L218.5,491.9L218.6,495.5ZM220.8,504.7L222.8,508.5L226.1,508.6L230.3,504.3L229.8,502.5L226.9,495.2L218.6,495.5L215.1,498.8ZM247.0,488.8L242.4,488.6L236.0,488.6L229.5,487.3L226.9,495.2L229.8,502.5L235.4,499.8L242.5,497.5L247.9,495.9L248.8,494.5ZM295.6,492.5L291.3,491.0L287.6,495.0L288.8,500.7L290.7,507.1L291.0,512.3L297.2,509.3L299.7,503.6L300.2,495.2ZM318.6,493.5L321.5,494.3L328.5,491.9L324.3,488.6L318.6,491.4ZM326.0,502.1L321.2,502.1L316.5,501.9L315.0,502.6L320.8,510.2L321.1,510.1L326.5,502.8ZM326.5,497.2L329.7,496.2L330.0,492.2L328.5,491.9L321.5,494.3ZM330.9,490.6L330.0,492.2L329.7,496.2L330.3,496.4L332.9,496.1L335.2,493.3L335.6,492.3L333.0,490.7ZM330.5,501.4L328.8,504.7L333.5,506.2L335.1,505.2L334.0,501.7ZM343.1,505.8L342.8,512.8L341.8,516.0L345.8,516.2L352.1,514.3L355.4,511.8L350.8,508.3L346.5,504.4L343.6,505.5ZM347.8,491.9L350.5,500.0L358.3,502.9L360.6,493.8L352.1,490.2L347.7,491.8ZM350.8,508.3L355.4,511.8L357.2,511.6L360.6,504.3L358.3,502.9L350.5,500.0L346.5,504.4ZM184.9,518.5L184.8,518.3L181.7,513.8L178.7,516.8L178.1,521.9L183.6,520.5ZM207.8,521.8L216.6,517.9L217.7,511.3L214.0,508.7L210.1,506.2L208.3,506.5L207.6,510.5L208.2,514.5L206.3,519.2ZM229.5,514.5L226.1,508.6L222.8,508.5L217.7,511.3L216.6,517.9L218.3,520.0L226.1,519.8ZM218.3,520.0L219.9,524.9L221.2,530.3L226.5,533.7L228.5,528.2L226.1,519.8ZM238.4,512.4L239.8,509.9L235.1,505.4L230.3,504.3L226.1,508.6L229.5,514.5L235.9,515.9ZM228.5,528.2L233.6,524.3L237.4,523.4L235.9,515.9L229.5,514.5L226.1,519.8ZM261.9,513.3L267.8,509.3L265.1,505.0L259.6,505.4L256.1,508.2L256.4,516.5L258.0,516.7L258.9,516.9ZM339.5,517.8L338.3,525.8L341.9,530.9L347.1,530.6L352.3,529.7L356.4,530.4L359.4,526.1L355.5,523.2L350.8,523.0L345.4,520.4L340.9,516.8ZM366.4,522.5L366.2,523.2L368.6,527.6L373.5,528.0L380.8,529.4L386.4,524.4L386.0,519.3L381.0,519.2L376.7,520.5L373.0,520.4L368.8,520.4ZM368.8,520.4L373.0,520.4L376.7,520.5L381.0,519.2L386.0,519.3L386.1,517.7L382.6,515.5L380.6,512.1L375.3,516.0L370.6,517.9ZM141.2,530.7L134.5,530.8L130.6,532.9L130.0,533.6L129.8,541.1L134.3,540.6L138.4,541.2L140.4,540.4ZM149.8,541.7L149.3,540.9L145.3,540.0L140.4,540.4L138.4,541.2L140.7,545.1L139.6,550.2L144.0,549.5L149.1,550.8L151.2,549.7ZM149.8,541.7L151.2,549.7L155.9,551.5L160.1,542.4L158.1,538.2ZM186.3,538.1L179.5,539.6L173.6,542.1L173.6,542.3L173.7,544.3L179.8,544.5L185.3,546.9L190.0,548.4L193.0,541.4L191.1,537.3ZM197.3,529.6L193.2,532.3L191.8,534.9L191.1,537.3L193.0,541.4L199.0,542.0L199.3,541.6L201.2,537.6L201.9,534.4ZM201.9,534.4L201.2,537.6L199.3,541.6L206.7,541.0L212.6,539.6L212.8,539.0L210.6,533.3L209.0,531.3ZM206.7,546.9L209.6,544.3L212.6,539.6L206.7,541.0L199.3,541.6L199.0,542.0L202.7,548.0L203.7,550.0L205.9,548.7ZM239.4,533.8L241.9,531.8L241.9,531.7L240.5,524.4L237.4,523.4L233.6,524.3L228.5,528.2L226.5,533.7L226.9,534.3L233.0,531.0L238.5,534.1ZM241.9,531.8L239.4,533.8L239.5,534.2L243.1,533.0ZM260.0,538.5L256.7,537.0L253.0,539.7L253.1,540.4L256.4,542.0ZM478.5,522.0L476.0,526.5L473.6,530.6L474.3,534.9L480.1,535.8L484.8,537.7L486.2,534.6L485.6,529.6L484.0,524.1L482.1,519.2L481.3,516.2ZM131.1,568.1L137.8,569.4L137.4,568.2L135.8,562.8L134.0,558.4L133.5,558.2L128.1,559.5L123.6,561.0L123.3,564.4L126.7,564.4L127.5,568.4ZM134.0,556.1L130.1,549.1L125.0,550.1L119.5,550.9L120.2,558.9L123.6,561.0L128.1,559.5L133.5,558.2ZM155.7,563.2L149.1,565.2L149.1,565.2L152.5,571.6L157.1,568.2L160.5,568.5ZM163.2,568.8L165.8,564.8L167.7,559.1L172.2,556.0L170.8,555.0L162.3,553.3L159.4,557.7L155.7,563.2L160.5,568.5ZM194.9,551.6L191.1,549.7L189.2,555.5L192.5,558.2L197.9,557.7L200.3,553.7ZM372.4,561.7L373.2,555.8L367.4,559.9L367.3,560.0L372.6,565.0L372.7,565.1ZM391.1,571.8L390.4,563.0L383.5,561.7L389.0,572.0L390.5,572.7ZM394.6,558.5L390.4,563.0L391.1,571.8L396.5,570.9L401.5,569.1L402.6,566.4L402.5,561.9ZM437.2,558.3L434.7,554.1L429.5,553.8L426.2,558.5L421.9,564.5L424.1,567.5L430.5,568.6L436.3,565.7L442.9,564.1ZM445.8,561.9L450.3,557.8L454.0,553.8L450.5,550.5L445.4,546.9L441.3,542.7L440.4,542.6L437.9,549.8L434.7,554.1L437.2,558.3L442.9,564.1L443.1,564.6ZM464.8,571.2L467.8,564.3L464.2,561.9L459.7,556.6L457.5,553.6L454.0,553.8L450.3,557.8L445.8,561.9L443.1,564.6L443.1,564.9L445.5,569.0L447.2,569.4L455.6,569.4L462.5,573.4ZM152.2,583.1L155.5,579.1L154.1,576.2L148.3,575.8L142.2,578.2L138.7,577.2L139.1,584.3L142.1,587.9L147.3,588.6ZM151.5,597.1L155.7,600.9L157.6,600.1L160.4,596.7L163.7,589.7L164.4,586.1L162.8,580.4L155.5,579.1L152.2,583.1L147.3,588.6ZM162.8,580.4L164.4,586.1L163.7,589.7L169.8,593.2L177.2,594.1L182.2,587.6L176.8,584.9L173.3,580.8L167.4,576.4L165.0,578.7ZM179.6,576.4L182.8,578.1L185.7,576.2L190.9,573.0L192.1,570.0L192.0,568.5L187.7,567.1L183.7,565.0L179.1,565.4L176.8,573.0ZM142.1,587.9L139.1,584.3L138.1,585.5L142.0,591.0L144.3,599.8L145.8,598.9L151.5,597.1L147.3,588.6ZM190.7,591.4L188.4,586.3L185.2,585.9L182.2,587.6L177.2,594.1L178.9,600.9L183.7,600.4L188.1,600.1L191.0,598.4ZM191.0,598.4L188.1,600.1L183.7,600.4L178.9,600.9L177.7,606.2L180.3,609.0L186.5,609.3L193.0,608.0L194.7,605.4L194.9,599.9ZM188.4,586.3L190.7,591.4L191.0,598.4L194.9,599.9L197.7,598.7L197.8,597.8L191.0,591.0L188.7,586.3ZM194.9,599.9L194.7,605.4L193.0,608.0L193.6,609.8L196.7,609.0L197.7,598.7ZM170.0,623.5L174.1,624.6L176.9,618.7L181.0,615.0L180.3,609.0L177.7,606.2L173.2,606.5L167.8,607.9L165.6,612.5L165.5,617.7L166.7,620.0L171.0,617.8L169.9,623.5ZM181.0,615.0L184.2,617.8L186.9,619.4L189.0,611.0L193.6,609.8L193.0,608.0L186.5,609.3L180.3,609.0ZM184.2,617.8L181.0,615.0L176.9,618.7L174.1,624.6L179.8,628.1L183.5,631.3L191.7,630.5L191.8,629.4L191.1,625.6L186.7,620.0L186.9,619.4ZM191.8,629.4L192.0,626.7L191.1,625.6Z"/>
<path fill="#f3d67c" stroke="#555b58" stroke-width="0.6" stroke-opacity="0.9" d="M188.1,235.2L191.4,230.3L191.3,225.7L186.2,220.0L184.5,218.6L181.1,224.4L180.6,226.3L181.2,229.3L181.0,234.7L182.2,239.7L182.4,239.9L188.2,241.4ZM194.7,239.8L199.3,238.6L200.6,237.6L197.3,234.9L196.8,231.6L192.2,226.5L191.3,225.7L191.4,230.3L188.1,235.2L188.2,241.4L189.9,242.9ZM195.0,256.2L196.8,251.4L201.0,247.5L199.3,238.6L194.7,239.8L189.9,242.9L189.6,245.8L189.2,252.1L190.9,255.3ZM206.7,248.4L201.0,247.5L196.8,251.4L195.0,256.2L197.8,258.3L203.4,256.7L206.5,253.9ZM198.9,259.8L197.4,267.9L201.4,269.1L205.0,265.5L205.1,264.1ZM215.7,261.6L211.8,264.1L216.0,268.0L217.7,268.3L218.5,265.8L219.1,264.6L219.9,261.2ZM220.6,257.0L219.9,261.2L219.1,264.6L226.3,263.4L224.9,256.0ZM224.9,256.0L226.3,263.4L226.7,265.4L234.1,259.6L226.5,254.9ZM234.8,259.7L235.8,260.7L242.4,263.8L242.6,257.0L241.4,251.1L237.6,255.9ZM243.1,264.8L246.9,261.2L252.9,259.4L250.8,255.1L248.2,251.1L244.9,246.8L241.4,251.1L242.6,257.0L242.4,263.8ZM259.6,259.4L263.9,257.5L260.0,253.0L258.2,245.0L254.2,248.4L248.2,251.1L250.8,255.1L252.9,259.4L253.7,259.4ZM267.8,276.4L265.4,271.0L262.9,267.6L261.6,263.0L259.6,259.4L253.7,259.4L254.0,267.6L258.5,270.2L261.1,273.8L266.6,277.3L267.8,277.4ZM271.2,263.3L270.3,258.9L265.5,257.4L263.9,257.5L259.6,259.4L261.6,263.0L262.9,267.6L265.4,271.0L267.8,276.4L272.2,269.0ZM278.3,255.0L277.3,251.5L275.7,248.3L273.9,243.8L269.4,246.3L268.2,251.1L265.5,257.4L270.3,258.9L275.3,257.2ZM275.3,257.2L270.3,258.9L271.2,263.3L272.2,269.0L277.5,268.0L280.8,264.5ZM286.7,250.4L277.3,251.5L278.3,255.0L284.2,257.6L285.3,257.3ZM393.9,258.4L396.9,258.7L398.8,254.6L400.4,248.5L401.1,244.3L400.9,244.2L397.4,246.9L394.9,249.6L390.6,253.5ZM136.5,294.4L140.2,299.7L145.6,303.0L145.6,303.0L145.6,302.9L144.1,297.6L141.4,293.8L140.0,288.6L139.5,287.1L135.6,290.0L135.0,293.5ZM145.4,279.6L146.0,278.8L148.5,274.6L146.5,272.1L145.1,279.6ZM140.0,288.6L141.4,293.8L144.1,297.6L145.6,302.9L148.3,297.7L148.2,292.2L146.2,287.1L146.6,284.5L145.4,279.6L145.1,279.6L144.4,283.3L139.5,287.1ZM159.9,273.7L155.6,269.7L151.1,271.7L148.5,274.6L146.0,278.8L149.6,281.9L154.2,284.1L158.3,284.9L162.0,277.4L161.8,277.0ZM360.3,278.5L355.7,279.4L360.0,284.0L365.3,284.5L366.1,281.8L366.7,279.2L364.9,276.4ZM372.7,283.4L374.1,277.2L366.7,279.2L366.1,281.8L370.3,284.8ZM376.9,261.9L375.1,264.1L370.4,267.1L371.9,271.5L374.9,276.5L380.2,278.0L379.2,273.5L378.3,267.9L378.6,263.4ZM392.3,277.2L394.4,283.3L401.7,278.3L394.9,275.9ZM84.9,309.9L87.8,310.0L89.9,303.9L86.1,301.7L80.1,303.0L80.7,307.4L84.1,309.8ZM89.6,285.0L89.6,288.9L86.9,292.3L87.2,293.2L93.2,299.6L92.7,293.4L93.1,287.6ZM94.8,301.3L93.2,299.6L87.2,293.2L86.1,301.7L89.9,303.9L93.2,302.1L94.8,301.3ZM89.9,303.9L87.8,310.0L91.9,310.4L94.8,309.9L93.2,302.1ZM101.0,292.4L98.5,292.1L96.0,296.4L94.8,301.3L94.8,301.3L100.3,302.3L102.2,294.4ZM94.8,301.3L93.2,302.1L94.8,309.9L97.8,309.5L104.0,306.3L100.0,303.3L100.3,302.3ZM101.0,292.4L102.2,294.4L102.2,294.4L104.9,287.7ZM135.2,302.6L140.0,302.7L145.6,303.0L140.2,299.7L136.5,294.4L135.0,293.5L133.4,302.6ZM145.6,303.0L140.0,302.7L135.2,302.6L133.4,302.6L133.3,303.3L135.2,310.6L137.9,309.1L144.1,306.0L145.3,304.8L145.6,303.0ZM166.9,302.5L165.7,299.3L162.4,294.1L158.1,293.0L152.9,294.2L148.3,297.7L145.6,302.9L145.6,303.0L145.3,304.8L149.2,308.1L156.3,309.0L162.2,313.3L165.9,309.1L172.1,306.3ZM379.4,293.5L381.9,285.6L379.4,284.7L374.3,289.2L371.2,294.8L371.8,296.3L371.9,297.3L372.5,299.4L379.5,300.6ZM396.4,298.0L397.5,297.7L397.8,296.7L402.0,290.0L402.5,288.1L396.6,287.7L389.3,293.6L390.5,296.7ZM110.6,330.7L112.3,329.9L112.1,322.5L107.8,321.5L105.5,324.0ZM144.1,306.0L141.6,311.0L139.5,316.0L139.2,317.1L142.2,321.1L142.7,323.8L145.5,323.7L151.8,320.1L148.8,318.1L149.3,313.0L149.2,308.1L145.3,304.8ZM145.4,331.1L151.7,327.6L152.8,321.1L151.8,320.1L145.5,323.7L142.7,323.8L144.0,330.2ZM149.3,313.0L148.8,318.1L151.8,320.1L152.8,321.1L159.9,320.3L162.2,313.3L156.3,309.0L149.2,308.1ZM162.6,330.7L165.6,325.7L159.9,320.3L152.8,321.1L151.7,327.6L159.1,333.2ZM262.8,327.9L261.7,323.2L260.7,322.4L253.8,321.2L253.3,326.5L251.7,330.7L255.9,331.2L260.0,333.6ZM261.7,323.2L267.8,322.0L269.3,317.0L270.4,311.6L271.1,308.5L267.1,305.7L262.6,303.0L261.0,305.0L261.4,309.9L260.7,315.5L260.7,322.4ZM267.8,329.9L273.4,331.1L275.3,330.8L269.5,323.4L267.8,322.0L261.7,323.2L262.8,327.9ZM281.9,329.6L283.3,323.1L282.2,317.5L280.2,319.3L275.2,320.4L269.5,323.4L275.3,330.8L280.1,330.7ZM300.1,302.5L297.5,306.7L292.8,308.7L289.3,311.0L295.0,318.8L298.8,317.1L303.7,319.1L309.2,317.9L310.2,312.8L308.8,305.9L305.5,301.6ZM298.9,326.7L304.1,328.8L308.4,329.8L312.2,329.4L310.4,324.6L309.9,318.8L309.2,317.9L303.7,319.1L298.8,317.1L295.0,318.8L295.6,325.7ZM315.4,317.6L309.9,318.8L310.4,324.6L312.2,329.4L317.6,329.5L319.4,329.0L321.5,322.9L321.9,316.1L319.8,314.2ZM327.0,303.1L323.6,309.5L319.8,314.2L321.9,316.1L326.8,320.6L331.8,321.4L334.9,320.2L334.3,316.2L332.3,311.1L330.1,304.5ZM325.6,328.7L327.8,326.2L331.8,321.4L326.8,320.6L321.9,316.1L321.5,322.9L319.4,329.0L324.2,329.6ZM334.9,320.2L337.0,322.2L341.5,321.4L343.2,317.1L346.7,310.0L346.2,309.5L340.1,314.8L334.3,316.2ZM363.0,316.5L363.3,311.0L359.0,306.4L355.8,309.3L352.6,315.3ZM363.0,316.5L352.6,315.3L350.5,316.5L354.9,323.3L360.4,325.0L361.9,324.5L364.1,316.9ZM354.9,323.3L351.5,324.6L354.1,330.5L357.1,328.9L360.4,325.0ZM372.7,330.3L372.5,321.6L368.9,319.2L364.9,316.8L364.1,316.9L361.9,324.5L364.4,327.4L367.5,329.5ZM377.0,317.1L376.3,316.2L373.8,313.9L368.5,314.3L364.9,316.8L368.9,319.2L372.5,321.6ZM375.8,330.2L379.7,326.3L378.7,318.1L377.0,317.1L372.5,321.6L372.7,330.3ZM388.4,312.7L381.9,306.1L380.4,309.9L376.3,316.2L377.0,317.1L378.7,318.1L386.6,316.3ZM378.7,318.1L379.7,326.3L387.0,328.5L392.0,329.9L392.9,329.2L392.5,323.3L386.6,316.3ZM397.4,314.8L392.5,323.3L392.9,329.2L394.2,328.5L399.4,324.1L403.6,319.8L403.3,318.6ZM398.7,307.3L395.5,309.8L397.4,314.8L403.3,318.6L401.0,310.0L399.7,307.2ZM85.8,332.1L81.2,331.1L76.8,337.1L86.6,337.9L87.4,337.5ZM80.2,341.5L79.5,347.3L83.5,348.7L88.2,348.5L86.0,340.5L85.2,340.4ZM95.5,336.3L95.2,340.4L99.6,342.5L100.9,339.6L97.4,335.2ZM137.0,344.6L135.6,349.4L140.7,353.0L146.0,347.2L146.3,347.0L141.9,344.3ZM142.1,337.2L146.5,338.9L152.5,340.9L154.3,339.2L150.6,335.0L145.4,331.1L144.0,330.2L144.4,332.2L141.5,336.1ZM159.1,333.2L151.7,327.6L145.4,331.1L150.6,335.0L154.3,339.2L156.9,336.7L157.4,336.2ZM170.8,326.4L165.6,325.7L162.6,330.7L159.1,333.2L157.4,336.2L163.6,339.0L169.9,338.6L171.8,334.3L175.0,329.6L175.3,325.7ZM170.2,345.8L169.9,338.6L163.6,339.0L157.4,336.2L156.9,336.7L161.3,341.5L165.0,347.1L166.8,347.7L169.4,347.2ZM176.5,342.7L170.2,345.8L169.4,347.2L173.0,352.2L180.7,348.6L180.8,348.3ZM194.2,350.8L202.8,346.6L199.1,340.9L197.0,337.6L190.4,337.1L188.9,339.1L187.7,345.9L188.1,346.4ZM221.2,335.6L217.7,330.6L212.9,325.7L210.6,326.0L208.8,334.4L211.9,335.2L217.3,339.3ZM246.9,335.9L249.8,331.1L245.5,328.8L241.2,324.9L239.8,325.3L239.8,334.5L243.6,337.4L247.2,338.9L247.2,338.9ZM241.2,346.5L246.8,352.2L249.6,345.6L249.9,341.2L247.2,338.9L247.2,338.9L240.0,344.0ZM263.6,338.4L268.8,337.5L273.4,331.1L267.8,329.9L262.8,327.9L260.0,333.6L261.6,338.6ZM278.8,345.9L278.4,344.5L274.9,339.3L268.8,337.5L263.6,338.4L267.1,342.1L270.5,345.6L272.6,347.8L274.2,347.9ZM304.8,334.9L308.4,329.8L304.1,328.8L298.9,326.7L295.6,325.7L295.4,327.2L299.8,331.7L302.7,336.3ZM297.5,339.8L298.6,344.3L302.7,347.5L309.0,349.7L309.1,349.6L309.7,348.9L312.1,345.1L308.8,339.9L304.8,334.9L302.7,336.3ZM316.4,342.3L312.1,345.1L309.7,348.9L316.2,352.3L319.4,355.8L325.2,352.1L325.5,350.1L319.4,344.8ZM325.2,339.5L317.4,339.2L316.4,342.3L319.4,344.8L326.2,343.1ZM319.4,344.8L325.5,350.1L326.6,343.9L326.2,343.1ZM325.2,339.5L326.2,343.1L326.6,343.9L330.1,343.6L331.1,337.9L330.9,337.6L328.5,336.8ZM337.2,329.1L339.5,335.0L342.8,336.8L345.9,330.7L345.6,327.3L340.9,326.7L338.1,324.0ZM361.9,324.5L360.4,325.0L357.1,328.9L354.1,330.5L353.9,331.8L358.2,333.9L364.4,327.4ZM364.4,327.4L358.2,333.9L361.9,338.0L367.7,337.8L367.5,329.5ZM374.3,339.8L370.4,340.9L368.9,346.7L372.4,351.8L379.0,349.9L381.9,346.9L378.6,340.2L377.6,340.1ZM56.5,357.1L56.2,351.3L54.4,349.0L53.3,354.4L55.1,358.8ZM121.8,364.1L127.4,365.5L127.4,365.5L128.4,362.5L126.3,358.4ZM127.4,365.5L127.4,365.5L125.7,369.8L127.7,370.5L131.2,368.0L131.1,365.9ZM166.5,353.9L166.8,347.7L165.0,347.1L158.8,350.2L156.9,356.0L161.1,358.4ZM172.6,357.6L173.4,356.2L173.0,352.2L169.4,347.2L166.8,347.7L166.5,353.9L170.6,358.2ZM167.4,368.8L170.0,371.1L171.8,370.4L174.6,365.4L167.2,365.1ZM183.9,362.4L187.5,359.3L187.5,359.3L186.3,357.7L181.1,355.4L179.9,355.6L176.8,365.7L179.6,365.9L180.3,365.8ZM190.0,357.4L193.4,355.5L194.2,350.8L188.1,346.4L187.0,353.1L186.3,357.7L187.5,359.3ZM200.7,362.2L195.7,359.3L193.4,355.5L190.0,357.4L194.8,365.6ZM211.2,348.2L204.6,348.8L202.9,355.4L202.5,362.0L211.6,360.9L212.6,359.0L211.5,352.9L212.2,348.3ZM201.0,362.9L204.4,366.2L205.8,369.4L211.9,371.3L212.5,370.6L211.9,364.5L211.6,360.9L202.5,362.0ZM211.5,352.9L212.6,359.0L218.7,358.6L218.9,357.1L218.3,351.8L215.3,348.5L212.2,348.3ZM218.7,359.2L218.7,358.6L212.6,359.0L211.6,360.9L211.9,364.5L212.5,370.6L217.5,369.4L217.9,364.8ZM240.7,365.9L240.8,366.2L245.5,370.6L246.4,368.1L246.0,362.3L242.7,363.3ZM253.5,353.8L249.6,345.6L246.8,352.2L246.5,353.1L255.4,356.3ZM255.4,356.3L246.5,353.1L246.3,353.2L246.9,361.8L252.3,360.8L256.1,356.9ZM257.1,357.4L257.8,356.9L261.2,352.2L262.8,347.1L261.9,345.5L257.7,348.9L253.5,353.8L255.4,356.3L256.1,356.9ZM296.1,354.6L299.3,357.6L304.7,353.0L309.0,349.7L302.7,347.5L298.6,344.3L296.5,346.3ZM308.0,364.2L308.6,355.6L309.1,349.6L309.0,349.7L304.7,353.0L299.3,357.6L299.6,359.1L304.3,361.9L307.8,364.3ZM306.0,369.1L307.8,364.3L304.3,361.9L299.6,359.1L298.2,363.6L298.8,369.8L300.2,371.9ZM319.4,355.8L316.2,352.3L309.7,348.9L309.1,349.6L308.6,355.6L308.0,364.2L314.9,363.5L318.7,365.0L319.5,363.0ZM325.9,365.3L332.0,362.9L331.0,356.6L328.1,352.6L325.2,352.1L319.4,355.8L319.5,363.0ZM321.3,374.0L327.3,371.7L325.9,365.3L319.5,363.0L318.7,365.0L319.0,372.4ZM331.4,372.5L335.9,370.5L338.4,367.1L338.7,365.4L336.7,362.9L332.0,362.9L325.9,365.3L327.3,371.7ZM351.5,357.5L349.5,364.3L355.8,369.8L359.2,368.3L359.3,368.2L358.1,363.1L358.1,357.7ZM370.2,359.5L364.2,357.2L359.2,357.3L358.1,357.7L358.1,363.1L359.3,368.2L365.0,367.9L369.3,365.6ZM374.6,369.2L381.2,366.5L380.5,360.7L373.8,360.4L370.4,359.4L370.2,359.5L369.3,365.6L372.1,366.8ZM187.4,390.2L188.8,382.4L180.1,380.0L180.1,380.0L179.4,383.3L182.6,387.3ZM197.4,383.4L190.7,379.0L188.8,382.4L187.4,390.2L187.9,390.6L193.8,388.6L198.1,388.3ZM211.8,392.6L214.6,390.5L214.3,387.2L210.8,383.2L207.4,382.7L204.7,387.0ZM309.2,383.2L303.1,379.9L297.7,387.0L297.5,390.9L298.0,391.9L307.8,392.3L310.5,387.1ZM314.2,375.4L312.7,380.6L315.0,382.4L319.9,379.7L324.5,378.8L321.3,374.0L319.0,372.4ZM324.6,387.2L328.7,384.1L329.3,383.5L324.5,378.8L319.9,379.7L315.0,382.4L321.8,385.8ZM340.6,370.9L342.5,376.3L347.9,368.7L347.5,366.1L343.6,367.3L338.5,367.1ZM343.6,377.1L342.5,376.3L340.6,370.9L338.2,376.8L334.5,380.0L336.4,381.8L344.1,379.1ZM342.4,384.3L336.8,382.4L338.9,386.1L339.5,391.3L339.5,391.3L347.1,390.7L344.6,387.9ZM349.7,378.1L352.2,376.5L352.7,375.5L349.4,372.9L343.6,377.1L344.1,379.1L345.9,379.9L348.3,379.1ZM348.3,379.1L345.9,379.9L345.8,383.7L351.4,384.5L351.4,384.5ZM354.8,373.1L355.8,369.8L349.5,364.3L347.5,366.1L347.9,368.7L349.4,372.9L352.7,375.5ZM356.7,378.4L352.2,376.5L349.7,378.1L355.6,382.5ZM351.4,384.5L351.4,384.5L348.3,392.8L348.7,395.1L356.7,391.5L354.0,384.6ZM354.0,384.6L356.7,391.5L357.5,391.7L359.7,390.5L360.1,387.3L357.2,384.6L355.6,383.5ZM369.3,365.6L365.0,367.9L364.5,372.0L365.2,372.4L369.4,374.8L372.1,366.8ZM369.4,374.8L371.4,376.5L374.0,375.8L374.8,373.6L374.6,369.2L372.1,366.8ZM368.9,384.5L374.6,384.6L374.7,382.3L370.6,378.2L366.7,378.1ZM368.9,384.5L366.5,386.8L366.7,387.8L370.7,387.9L371.3,388.1L376.5,386.4L374.6,384.6ZM381.5,383.2L387.8,389.4L389.6,389.8L391.7,384.7L392.7,380.2L388.2,375.8L385.8,376.1L382.3,380.5ZM390.9,371.2L388.2,375.8L392.7,380.2L395.4,380.1L397.8,371.0L392.8,369.2ZM404.0,390.2L404.8,386.5L402.2,382.7L395.4,380.1L392.7,380.2L391.7,384.7L389.6,389.8L389.7,389.9L392.8,391.4L396.7,393.4ZM128.7,399.5L128.1,398.5L125.3,399.3L123.6,404.2L123.8,404.6L124.3,405.1L126.9,405.2L128.3,402.4ZM141.8,396.9L138.1,401.2L138.7,403.1L144.4,401.7L144.7,397.8ZM138.7,403.1L139.2,404.5L142.4,405.9L144.5,405.7L147.4,404.3L147.4,404.3L144.4,401.7ZM152.5,394.2L155.7,394.1L156.8,391.6L155.4,388.4L150.2,390.4ZM151.0,410.2L155.0,409.3L155.7,404.2L153.9,402.0L152.2,401.1L148.8,407.9L149.3,408.8ZM155.0,409.3L156.4,410.3L157.3,410.6L163.3,407.2L159.1,403.8L155.7,404.2ZM184.2,397.4L185.1,396.6L187.9,390.6L187.4,390.2L182.6,387.3L179.7,389.4L180.6,396.2L182.1,397.3L182.5,397.5ZM180.5,411.1L185.8,411.1L188.4,408.8L186.7,404.3L179.7,404.7ZM205.1,411.7L204.9,404.3L204.8,402.2L196.0,402.4L193.7,407.4L201.1,413.6L202.1,413.7ZM204.3,394.9L206.5,399.6L207.0,399.5L209.1,394.1L211.8,392.6L204.7,387.0L200.3,392.0ZM218.3,395.6L215.0,390.7L214.6,390.5L211.8,392.6L209.1,394.1L207.0,399.5L215.2,401.9L218.2,397.0ZM215.2,401.9L207.0,399.5L206.5,399.6L204.8,402.2L204.9,404.3L209.7,406.4L216.6,411.5L217.0,411.2L215.8,405.9ZM230.0,406.2L231.8,404.9L229.4,401.0L225.6,401.0L225.3,401.9L225.7,405.0ZM240.1,396.7L246.0,393.8L246.6,392.6L246.9,390.8L245.8,390.3L240.1,389.0L238.0,393.5L239.5,396.4ZM273.3,402.6L269.7,399.2L266.8,393.4L264.5,393.1L260.8,396.5L260.5,398.9L261.3,400.4L264.5,402.2L270.9,405.1L271.0,404.8ZM278.3,398.4L278.6,397.3L278.8,393.0L276.6,391.2L272.3,389.6L266.8,393.4L269.7,399.2L273.3,402.6ZM274.7,409.0L280.4,414.0L282.0,410.8L280.5,404.5L278.7,400.2L278.3,398.4L273.3,402.6L271.0,404.8ZM340.2,404.7L349.4,409.1L352.9,406.6L354.1,403.9L348.8,397.8L344.2,400.8L340.5,402.2L339.8,403.5ZM357.5,391.7L356.7,391.5L348.7,395.1L348.8,397.8L354.1,403.9L358.1,402.4L357.8,397.4ZM361.3,411.5L362.2,403.6L358.1,402.4L354.1,403.9L352.9,406.6L353.1,406.9ZM367.8,413.6L367.9,411.0L366.5,405.2L365.2,402.9L362.2,403.6L361.3,411.5L361.3,411.9ZM366.5,405.2L371.9,403.1L374.2,397.7L370.2,394.8L367.3,396.5L367.3,396.5L365.2,402.9ZM374.4,407.3L371.9,403.1L366.5,405.2L367.9,411.0L374.6,411.5L375.2,410.8ZM376.8,395.1L376.5,386.4L376.5,386.4L371.3,388.1L370.2,394.8L374.2,397.7L375.5,397.2ZM383.6,403.1L386.0,399.9L388.8,393.9L389.7,389.9L389.6,389.8L387.8,389.4L382.0,392.7L376.8,395.1L375.5,397.2ZM397.8,401.0L396.7,393.4L392.8,391.4L389.7,389.9L388.8,393.9L386.0,399.9L393.7,402.4ZM397.8,401.0L393.7,402.4L391.2,410.7L400.2,414.4L401.5,412.0L404.1,402.7ZM93.0,422.1L91.8,421.6L86.5,419.9L84.1,420.6L91.1,425.9ZM96.1,421.6L101.4,416.9L101.3,412.4L100.1,411.3L91.4,409.2L89.0,411.5L90.3,416.1L91.8,421.6L93.0,422.1ZM97.9,424.2L96.1,421.6L93.0,422.1L91.1,425.9L92.2,426.7L95.0,432.3L96.0,431.5L98.3,429.4ZM107.8,416.9L105.3,410.7L101.3,412.4L101.4,416.9L104.1,417.5ZM112.7,415.0L110.9,411.1L108.4,409.5L106.2,409.2L105.3,410.7L107.8,416.9L112.1,415.7ZM114.4,422.8L119.5,419.2L118.2,415.1L112.7,415.0L112.1,415.7L110.9,423.0ZM128.1,410.4L125.2,415.2L127.9,417.5L132.0,416.8L132.9,416.2L132.7,414.0L130.8,408.3ZM126.9,425.1L128.0,431.7L131.4,434.0L134.9,431.6L133.8,426.1L133.0,424.4ZM146.1,415.1L144.8,411.4L141.6,411.6L138.6,417.2L144.4,416.0ZM138.6,418.9L136.4,423.8L142.2,425.7L143.7,424.8L143.7,419.8ZM149.7,431.4L151.0,430.6L149.8,423.9L146.0,425.7L148.3,430.2ZM150.5,410.8L152.1,415.5L155.4,417.3L156.4,417.1L156.4,410.3L155.0,409.3L151.0,410.2ZM162.6,421.9L160.1,420.2L155.9,422.1L157.1,426.8L159.7,425.7ZM176.5,415.5L182.3,418.2L188.1,415.1L185.8,411.1L180.5,411.1L177.0,411.6ZM182.3,418.2L180.8,422.7L185.0,428.9L185.7,428.8L189.2,424.6L193.0,419.0L188.1,415.1ZM204.7,417.8L202.1,413.7L201.1,413.6L196.3,421.6L199.5,426.6L203.1,429.3L205.2,429.5L208.6,421.8ZM212.3,418.9L217.8,423.7L221.6,420.0L223.3,418.1L218.0,414.9L215.7,412.5L214.4,413.6ZM233.9,423.7L238.9,426.1L243.9,427.5L245.7,418.4L238.8,414.7L238.0,415.4ZM238.8,414.7L245.7,418.4L251.4,415.5L250.8,413.6L245.1,412.0L239.5,408.5L239.3,408.9ZM245.7,418.4L243.9,427.5L244.2,428.3L247.2,429.8L251.9,425.0L256.2,421.8L251.4,415.5ZM265.5,411.8L258.4,410.5L253.7,411.4L250.8,413.2L250.8,413.6L251.4,415.5L256.2,421.8L259.0,423.9L262.8,420.2ZM256.2,421.8L251.9,425.0L247.2,429.8L250.8,432.2L260.0,434.6L261.1,432.8L259.8,427.5L259.0,423.9ZM262.8,420.2L259.0,423.9L259.8,427.5L261.1,432.8L269.2,430.5L269.4,430.2L271.6,424.4ZM300.5,407.8L299.2,413.1L297.8,418.4L301.7,422.5L306.9,419.9L308.3,416.6L307.0,413.1L306.6,410.7L300.7,407.7ZM319.1,418.4L317.5,410.9L307.0,413.1L308.3,416.6L312.7,418.5L317.6,420.5ZM317.6,420.5L312.7,418.5L308.3,416.6L306.9,419.9L309.5,423.1L313.3,427.6L315.9,426.6L318.2,421.7ZM326.7,417.2L327.4,415.7L327.3,411.3L324.8,409.2L320.6,408.3L317.5,410.7L317.5,410.9L319.1,418.4ZM332.6,425.1L334.3,424.7L334.7,417.2L327.4,415.7L326.7,417.2L327.1,421.2ZM338.9,428.0L336.8,424.6L334.3,424.7L332.6,425.1L328.4,429.5L330.3,432.2L335.7,432.4ZM340.9,421.5L336.8,424.6L338.9,428.0L346.6,428.1L346.7,424.1ZM353.7,410.9L353.1,406.9L352.9,406.6L349.4,409.1L345.9,416.6L347.2,417.6L352.2,416.8L357.6,416.4ZM358.7,416.9L357.6,416.4L352.2,416.8L347.2,417.6L347.4,421.8L354.5,422.7L358.8,417.3ZM361.3,411.9L361.3,411.5L353.1,406.9L353.7,410.9L357.6,416.4L358.7,416.9ZM379.8,416.0L378.7,420.8L386.4,421.2L386.0,412.5L384.5,412.0L383.4,412.9ZM378.5,421.6L383.7,429.0L389.1,426.2L389.2,424.8L386.4,421.2L378.7,420.8ZM386.4,421.2L389.2,424.8L393.2,421.7L399.3,417.2L400.2,414.4L391.2,410.7L386.0,412.5ZM389.1,426.2L390.3,427.5L397.6,429.6L400.4,427.8L401.3,422.4L399.3,417.2L393.2,421.7L389.2,424.8ZM99.6,445.8L102.4,441.2L100.2,438.7L97.7,439.2L99.6,445.9ZM120.9,436.4L119.0,430.3L118.5,429.9L113.1,433.9L112.0,435.9L116.4,441.5L120.6,439.9ZM127.9,439.8L129.6,438.4L131.4,434.0L128.0,431.7L123.6,431.1L119.0,430.3L120.9,436.4L120.6,439.9ZM121.3,447.8L125.2,447.9L127.9,439.8L120.6,439.9L116.4,441.5L115.3,445.8L115.4,445.8ZM126.5,451.6L131.8,449.7L136.2,446.9L136.3,443.6L136.3,442.9L133.2,442.6L129.6,438.4L127.9,439.8L125.2,447.9ZM179.4,430.7L176.4,428.6L178.5,432.8L183.7,434.3L184.4,429.9ZM192.8,439.4L191.0,431.4L185.7,428.8L185.0,428.9L184.4,429.9L183.7,434.3L182.7,436.6L190.3,440.4ZM190.3,440.4L182.7,436.6L178.7,438.9L181.8,445.0L183.5,445.6L186.9,446.1ZM188.6,452.0L194.1,452.0L199.0,452.0L197.5,447.1L197.6,441.5L197.1,440.0L192.8,439.4L190.3,440.4L186.9,446.1ZM227.5,433.5L223.0,427.3L219.2,427.2L216.6,429.4L221.3,438.0L226.1,435.9ZM228.7,445.3L228.5,439.1L226.1,435.9L221.3,438.0L217.5,441.7L218.4,448.8L222.1,448.9ZM240.0,438.8L249.1,436.8L250.8,432.2L247.2,429.8L244.2,428.3L237.5,435.5L238.1,435.7ZM249.8,438.6L249.1,436.8L240.0,438.8L239.6,447.0L247.7,446.0ZM260.2,446.6L260.1,445.0L254.4,441.2L249.8,438.6L247.7,446.0L254.2,449.6L256.8,449.8ZM328.6,449.6L331.5,448.0L331.2,445.1L327.0,439.9L324.1,440.2L317.0,440.2L316.4,440.8L319.7,448.0L320.6,451.4L324.5,452.8ZM349.5,435.1L350.6,432.2L346.6,428.1L338.9,428.0L335.7,432.4L341.6,439.9ZM345.7,446.9L350.8,445.7L352.1,439.7L349.5,435.1L341.6,439.9L340.0,442.6L341.9,445.5ZM354.4,431.8L350.6,432.2L349.5,435.1L352.1,439.7L359.2,440.5L363.5,437.7L358.9,433.7L355.2,432.4ZM359.5,446.3L359.2,440.5L352.1,439.7L350.8,445.7L353.4,448.7ZM375.6,438.9L372.1,440.3L372.7,445.9L376.3,446.9L379.8,448.1L385.0,439.7L381.3,436.1ZM385.0,439.7L390.5,439.0L391.1,433.8L390.3,427.5L389.1,426.2L383.7,429.0L380.4,430.7L381.3,436.1ZM379.8,448.1L388.7,450.8L389.7,449.8L390.8,445.3L391.7,440.6L390.5,439.0L385.0,439.7ZM401.3,442.5L391.7,440.6L390.8,445.3L389.7,449.8L394.3,452.0L401.3,450.1ZM85.4,474.7L85.9,474.6L88.9,464.8L85.6,463.7L83.3,464.4L83.3,471.8ZM96.2,461.4L94.7,460.6L85.6,463.7L88.9,464.8L95.5,468.4L98.4,467.9ZM109.3,459.5L114.4,457.9L116.5,456.0L115.1,450.4L115.4,445.8L115.3,445.8L107.6,447.5L104.1,451.9ZM132.2,455.9L126.7,454.0L126.6,454.1L127.0,460.1L129.7,462.4L133.5,465.0L135.7,458.3ZM133.5,465.0L133.7,466.0L137.0,465.3L144.1,462.3L140.6,456.6L138.8,456.2L135.7,458.3ZM181.7,457.4L179.2,459.7L182.3,464.4L184.7,467.1L189.5,462.7L186.6,456.3ZM184.7,467.1L184.4,470.4L184.8,470.8L191.5,470.4L197.7,466.5L199.8,465.1L199.0,463.6L198.7,463.2L193.4,463.0L189.5,462.7ZM208.7,456.1L204.9,450.4L199.2,452.2L199.3,457.1L198.7,463.2L199.0,463.6L204.5,461.7L210.4,461.0ZM209.3,447.9L204.9,450.4L208.7,456.1L210.4,461.0L210.6,461.2L216.2,460.6L217.5,456.2L216.9,450.2L217.0,450.0ZM216.2,460.6L210.6,461.2L209.5,465.7L206.3,471.2L208.7,473.7L212.2,470.0L216.7,466.9L217.6,463.0L216.7,461.2ZM225.2,457.3L225.5,456.5L216.9,450.2L217.5,456.2L216.2,460.6L216.7,461.2ZM242.4,454.5L234.8,457.5L234.3,461.8L234.2,461.9L239.6,459.8L245.4,458.0L245.4,457.9ZM246.8,455.8L252.0,452.2L254.2,449.6L247.7,446.0L239.6,447.0L239.5,447.1L242.4,454.5L245.4,457.9ZM253.1,463.6L246.9,462.3L245.7,458.6L242.6,464.9L242.0,472.0L247.1,474.7L248.5,474.1L253.5,465.3ZM245.4,458.0L245.7,458.6L246.9,462.3L253.1,463.6L258.2,460.4L260.8,454.9L256.8,449.8L254.2,449.6L252.0,452.2L246.8,455.8L245.4,457.9ZM323.3,463.0L325.8,464.5L333.8,461.5L330.4,457.2L328.5,456.9ZM394.3,452.0L389.7,449.8L388.7,450.8L388.5,458.0L394.6,462.6L397.0,461.4L399.3,455.8L401.3,450.1L401.3,450.1ZM399.3,455.8L397.0,461.4L397.6,462.3L406.3,464.1L411.2,463.9L412.3,463.3L411.4,458.0L408.5,454.1L401.3,450.1ZM407.4,472.0L411.6,467.4L411.2,463.9L406.3,464.1L397.6,462.3L402.0,468.3ZM423.6,476.2L425.1,473.5L423.9,468.1L421.8,464.3L416.3,462.4L412.3,463.3L411.2,463.9L411.6,467.4L414.4,472.8L419.1,478.0ZM95.5,468.4L88.9,464.8L85.9,474.6L88.6,476.3ZM94.4,481.7L93.7,480.2L89.1,477.8L85.9,481.9L92.6,483.4ZM97.6,488.4L103.1,482.9L94.4,481.7L92.6,483.4L92.5,487.4L95.9,488.1ZM109.3,475.0L110.5,470.6L105.9,465.2L101.8,465.8L98.7,468.1L98.5,472.8L102.3,478.0L106.0,482.5ZM99.3,492.7L100.3,493.3L105.4,490.1L107.4,484.7L107.9,483.8L105.9,483.0L103.1,482.9L97.6,488.4ZM105.9,483.0L107.9,483.8L107.9,483.8L111.8,480.8L116.2,478.7L120.7,478.0L118.7,470.7L110.5,470.6L109.3,475.0L106.0,482.5ZM121.2,484.9L125.0,480.4L120.7,478.0L116.2,478.7L111.8,480.8L107.9,483.8L110.6,487.2L116.1,490.8ZM118.7,470.7L120.7,478.0L125.0,480.4L127.3,480.6L128.4,472.2L125.6,470.9L120.5,468.0L120.1,468.1ZM118.0,496.4L124.2,492.7L126.4,490.7L130.5,488.9L129.3,482.6L127.3,480.6L125.0,480.4L121.2,484.9L116.1,490.8ZM130.8,469.3L128.4,472.2L127.3,480.6L129.3,482.6L132.5,480.7L139.6,473.9L137.1,471.0L133.5,467.6ZM142.1,484.7L138.2,481.8L132.5,480.7L129.3,482.6L130.5,488.9L133.2,491.5L136.8,493.0L141.1,489.9ZM173.7,487.0L170.1,486.2L165.0,491.1L168.3,495.1L169.5,495.0L170.5,490.8L173.9,487.2ZM180.4,474.8L183.8,471.5L174.0,469.5L173.5,469.7L173.8,474.7ZM182.9,483.7L180.5,480.6L176.0,480.6L173.7,487.0L173.9,487.2L178.9,489.3ZM188.9,489.9L187.6,481.6L182.9,483.7L178.9,489.3L179.3,491.9L184.8,492.3L190.0,492.0ZM196.7,472.4L197.7,466.5L191.5,470.4L184.8,470.8L188.2,475.5L190.9,478.8L193.6,478.1L196.7,475.2ZM196.4,483.6L193.6,478.1L190.9,478.8L187.6,481.6L188.9,489.9L195.5,489.4L200.5,487.5ZM203.5,466.4L199.8,465.1L197.7,466.5L196.7,472.4L196.7,475.2L203.6,476.9L209.1,476.0L208.7,473.7L206.3,471.2ZM213.9,488.8L220.5,484.5L220.3,480.3L220.8,476.2L219.8,475.4L214.3,475.5L210.0,476.5L209.7,484.7L213.2,488.7ZM225.3,467.6L219.1,472.6L219.8,475.4L220.8,476.2L229.8,476.1L231.0,474.5L229.4,471.9ZM220.3,480.3L220.5,484.5L223.8,487.9L229.4,487.3L229.6,483.1L230.2,477.2L229.8,476.1L220.8,476.2ZM247.1,474.7L242.0,472.0L235.9,471.1L231.0,474.5L229.8,476.1L230.2,477.2L236.4,478.9L240.1,478.4L246.8,480.6ZM247.4,488.1L246.8,480.6L240.1,478.4L236.4,478.9L230.2,477.2L229.6,483.1L229.4,487.3L229.5,487.3L236.0,488.6L242.4,488.6L247.0,488.8ZM365.0,488.2L368.9,485.8L373.8,480.9L367.1,480.9L361.4,479.8L361.3,480.3L360.0,482.5ZM373.8,480.9L368.9,485.8L365.0,488.2L364.7,489.8L370.9,495.7L374.5,491.3L376.9,487.3L376.2,481.1L374.6,480.7ZM404.5,477.3L407.4,472.0L402.0,468.3L397.4,474.0L400.4,479.0ZM399.8,480.2L398.1,485.1L398.6,488.7L399.5,492.2L404.2,491.7L411.6,486.8L412.8,483.3L404.5,477.3L400.4,479.0ZM412.8,483.3L415.9,480.4L419.1,478.0L414.4,472.8L411.6,467.4L407.4,472.0L404.5,477.3ZM411.6,486.8L417.3,491.8L421.1,487.5L425.6,484.4L423.6,476.2L419.1,478.0L415.9,480.4L412.8,483.3ZM79.5,507.5L82.0,509.4L84.5,511.2L85.3,505.5L84.0,503.7L81.1,503.7L80.7,504.0ZM85.7,495.4L85.6,500.2L85.7,500.2L89.1,500.6L89.9,500.3L89.9,496.1ZM90.1,509.5L94.5,510.0L95.4,504.4L94.7,503.6L89.4,506.7ZM103.0,497.3L103.8,498.3L109.1,495.9L109.4,490.0L107.4,484.7L105.4,490.1L100.3,493.3ZM103.8,498.3L103.2,504.7L107.5,507.6L109.0,503.3L110.5,497.7L109.1,495.9ZM110.5,497.7L117.7,498.5L118.0,496.4L116.1,490.8L110.6,487.2L107.9,483.8L107.9,483.8L107.4,484.7L109.4,490.0L109.1,495.9ZM109.0,503.3L107.5,507.6L108.3,508.5L114.4,507.6L117.7,505.0L118.2,504.1L118.7,499.3L117.7,498.5L110.5,497.7ZM125.0,499.4L131.5,499.2L133.2,491.5L130.5,488.9L126.4,490.7L124.2,492.7L118.0,496.4L117.7,498.5L118.7,499.3ZM133.9,507.3L134.5,503.8L131.5,499.2L125.0,499.4L118.7,499.3L118.2,504.1L124.7,506.0L133.1,507.7ZM136.8,493.0L133.2,491.5L131.5,499.2L134.5,503.8L140.8,499.0L141.9,496.5ZM139.6,508.6L143.2,504.7L140.8,499.0L134.5,503.8L133.9,507.3ZM140.9,511.0L145.9,508.8L144.2,505.0L143.2,504.7L139.6,508.6ZM150.5,499.3L151.4,497.1L150.8,491.2L149.0,490.0L145.0,495.8ZM151.4,497.1L158.6,496.0L161.1,490.4L155.9,489.8L150.8,491.2ZM153.2,502.1L154.3,511.3L154.8,511.5L160.5,509.4L163.8,508.0L163.3,502.2L160.6,499.5ZM184.8,492.3L179.3,491.9L176.2,499.1L176.1,502.3L180.5,505.1L186.1,501.9L191.3,495.1L190.0,492.0ZM189.6,504.7L186.1,501.9L180.5,505.1L181.2,507.3L185.4,509.1L191.7,510.7L193.0,510.6L194.4,506.7ZM200.5,487.5L195.5,489.4L188.9,489.9L190.0,492.0L191.3,495.1L197.6,498.7L201.7,496.6L203.3,488.7ZM191.3,495.1L186.1,501.9L189.6,504.7L194.4,506.7L198.5,505.8L197.6,498.7ZM201.7,496.6L206.7,498.8L211.0,498.6L212.3,494.6L213.2,488.7L209.7,484.7L203.3,488.7ZM204.4,507.2L208.3,506.5L210.1,506.2L212.1,500.6L211.0,498.6L206.7,498.8L201.7,496.6L197.6,498.7L198.5,505.8L199.7,508.0ZM210.1,506.2L214.0,508.7L217.7,511.3L222.8,508.5L220.8,504.7L215.1,498.8L212.1,500.6ZM360.6,504.3L365.4,502.8L369.2,502.9L371.8,500.2L370.9,495.7L364.7,489.8L360.6,493.8L358.3,502.9ZM381.8,502.1L382.8,501.6L385.5,495.2L380.0,491.4L376.9,487.3L374.5,491.3L370.9,495.7L371.8,500.2ZM368.9,508.2L368.9,512.9L370.6,517.9L375.3,516.0L380.6,512.1L381.8,502.1L371.8,500.2L369.2,502.9ZM100.0,509.1L95.6,512.3L94.3,514.9L96.9,519.5L103.1,515.6ZM91.0,522.8L91.7,523.6L97.1,522.6L96.9,519.5L94.3,514.9L91.9,515.3ZM103.1,515.6L96.9,519.5L97.1,522.6L99.5,524.3L105.0,520.7L106.4,515.7ZM105.0,520.7L99.5,524.3L100.8,529.5L103.5,528.8L105.0,528.3L108.3,525.0ZM114.4,507.6L108.3,508.5L106.4,515.7L114.1,517.5L114.9,517.2ZM113.0,524.7L108.3,525.0L105.0,528.3L110.1,533.0L113.7,527.7ZM114.9,517.2L114.1,517.5L113.0,524.3L121.2,524.7L122.1,522.5L122.1,521.9L118.4,517.9ZM125.1,514.6L124.7,506.0L118.2,504.1L117.7,505.0L119.1,509.4L121.7,512.9ZM121.2,524.7L121.0,530.6L130.0,533.6L130.6,532.9L127.8,525.1L122.1,522.5ZM146.7,518.2L149.5,515.1L151.8,513.2L145.9,508.8L140.9,511.0L140.5,516.3ZM140.0,517.0L139.1,523.6L141.4,530.6L146.9,529.4L147.6,521.7L146.7,518.2L140.5,516.3ZM164.6,518.6L159.5,515.9L154.8,511.5L154.3,511.3L151.8,513.2L149.5,515.1L153.1,519.8L155.7,523.1L159.3,526.7ZM158.5,528.1L159.3,526.7L155.7,523.1L153.1,519.8L149.5,515.1L146.7,518.2L147.6,521.7L146.9,529.4L150.9,530.6ZM170.3,519.0L170.8,516.8L168.2,511.9L167.4,508.7L163.8,508.0L160.5,509.4L154.8,511.5L159.5,515.9L164.6,518.6ZM165.8,534.9L168.4,529.9L170.6,526.3L173.4,520.6L170.3,519.0L164.6,518.6L159.3,526.7L158.5,528.1L162.4,532.5ZM178.7,516.8L181.7,513.8L180.2,509.9L175.1,512.0L170.8,516.8L170.3,519.0L173.4,520.6L174.5,520.9L178.1,521.9ZM206.3,519.2L208.2,514.5L207.6,510.5L208.3,506.5L204.4,507.2L199.7,508.0L200.2,512.0L200.9,516.2L202.1,517.9ZM200.0,523.1L197.6,526.5L197.3,529.6L201.9,534.4L209.0,531.3L208.8,526.1L207.8,521.8L206.3,519.2L202.1,517.9ZM208.8,526.1L209.0,531.3L210.6,533.3L215.6,532.0L221.2,530.3L219.9,524.9L218.3,520.0L216.6,517.9L207.8,521.8ZM80.3,530.5L75.7,527.9L68.7,530.6L68.2,531.5L70.9,534.9L76.6,538.8L78.1,536.6L80.5,531.6ZM70.9,534.9L67.5,540.9L67.8,541.9L67.8,542.0L71.2,548.9L73.4,548.7L76.1,547.6L76.9,546.3L76.6,538.8ZM84.8,538.5L78.1,536.6L76.6,538.8L76.9,546.3L81.6,544.7L87.6,543.9ZM87.2,551.5L89.8,553.5L95.3,550.7L91.2,545.1L89.5,544.0L88.5,544.2ZM91.2,545.1L98.9,542.6L97.1,537.2L93.0,536.8L89.5,544.0ZM118.1,531.7L115.9,537.1L121.4,541.8L129.6,541.1L129.8,541.1L130.0,533.6L121.0,530.6ZM120.8,543.1L117.6,548.5L119.5,550.9L125.0,550.1L130.1,549.1L129.6,541.1L121.4,541.8ZM134.3,540.6L129.8,541.1L129.6,541.1L130.1,549.1L134.0,556.1L139.6,550.2L140.7,545.1L138.4,541.2ZM160.1,542.4L165.5,540.3L172.0,538.6L165.8,534.9L162.4,532.5L158.1,538.2ZM202.7,548.0L199.0,542.0L193.0,541.4L190.0,548.4L191.1,549.7L194.9,551.6L200.3,553.7L202.0,551.0L203.7,550.0ZM81.7,552.0L76.1,547.6L73.4,548.7L73.6,551.5L81.4,554.2ZM120.2,558.9L119.5,550.9L117.6,548.5L114.1,548.1L113.6,548.5L114.4,548.9L115.6,557.8L116.9,559.8ZM185.3,546.9L179.8,544.5L173.7,544.3L172.9,549.4L170.8,555.0L172.2,556.0L175.2,559.5L183.6,557.0L189.2,555.5L191.1,549.7L190.0,548.4ZM383.8,544.4L379.5,547.8L374.7,550.8L374.3,553.6L379.0,557.9L383.3,561.6L383.4,561.5L383.5,561.7L390.4,563.0L394.6,558.5L393.1,554.6L389.6,550.7L386.8,544.8ZM404.5,548.1L399.5,548.0L394.6,545.5L389.1,543.9L386.8,544.8L389.6,550.7L393.1,554.6L394.6,558.5L402.5,561.9L408.7,555.2L409.0,552.1L409.0,549.8ZM402.5,561.9L402.6,566.4L407.5,568.3L413.4,571.7L416.7,567.7L421.6,564.6L418.0,561.7L413.8,558.2L410.0,556.2L408.7,555.2ZM402.0,573.2L402.8,576.1L402.9,578.4L410.5,582.0L413.8,581.7L414.0,575.5L413.4,571.7L407.5,568.3L402.6,566.4L401.5,569.1Z"/>
<path fill="#bb7a4b" stroke="#555b58" stroke-width="0.6" stroke-opacity="0.9" d="M373.0,255.6L376.5,258.0L383.6,254.9L387.5,251.2L386.4,244.4L385.2,244.2L383.4,244.1L379.1,246.6L374.3,249.1L372.3,250.4ZM203.4,256.7L197.8,258.3L198.9,259.8L205.1,264.1L206.5,264.0L208.9,256.0L206.5,253.9ZM208.9,256.0L210.6,256.2L212.1,256.1L211.4,246.4L211.3,246.2L206.7,248.4L206.5,253.9ZM206.5,264.0L211.8,264.1L215.7,261.6L210.6,256.2L208.9,256.0ZM205.0,265.5L209.1,275.5L216.0,268.0L211.8,264.1L206.5,264.0L205.1,264.1ZM217.2,254.4L219.3,247.3L211.4,246.4L212.1,256.1ZM226.0,250.8L225.5,245.4L226.1,242.4L219.3,247.3L217.2,254.4L220.6,257.0L224.9,256.0L226.5,254.9ZM226.3,263.4L219.1,264.6L218.5,265.8L223.2,268.7L226.0,271.4L228.8,269.7L226.7,265.4ZM234.1,259.6L234.8,259.7L237.6,255.9L233.5,253.0L229.0,249.5L225.5,245.4L226.0,250.8L226.5,254.9ZM234.1,259.6L226.7,265.4L228.8,269.7L231.3,269.6L233.0,267.9L235.8,260.7L234.8,259.7ZM233.0,267.9L243.0,268.3L243.1,264.8L242.4,263.8L235.8,260.7ZM253.7,259.4L252.9,259.4L246.9,261.2L243.1,264.8L243.0,268.3L243.6,272.3L248.3,273.9L254.0,267.6ZM278.3,255.0L275.3,257.2L280.8,264.5L282.5,264.3L284.2,257.6ZM282.5,264.3L280.8,264.5L277.5,268.0L281.7,272.5L286.1,275.3L286.7,267.5ZM285.3,257.3L284.2,257.6L282.5,264.3L286.7,267.5L290.5,264.9L291.6,260.5L291.9,259.7ZM290.5,264.9L295.7,266.4L300.7,267.2L296.6,264.1L291.6,260.5ZM386.8,262.2L392.3,263.1L393.9,258.4L390.6,253.5L387.5,251.2L383.6,254.9L376.5,258.0L376.9,261.9L378.6,263.4L380.6,263.4ZM204.5,276.8L209.1,276.0L209.1,275.5L205.0,265.5L201.4,269.1L199.5,278.7ZM225.0,276.0L226.0,271.4L223.2,268.7L218.5,265.8L217.7,268.3L217.9,274.1L218.6,277.6ZM225.0,276.0L218.6,277.6L218.0,277.9L221.2,284.7L227.7,281.8L228.1,279.8ZM229.1,290.6L228.9,284.6L227.7,281.8L221.2,284.7L220.8,291.3L222.6,293.6L228.1,296.1L229.2,295.2ZM231.3,269.6L228.8,269.7L226.0,271.4L225.0,276.0L228.1,279.8L232.7,279.9L235.6,273.3ZM228.1,279.8L227.7,281.8L228.9,284.6L235.0,283.7L236.7,281.4L232.7,279.9ZM236.0,290.1L235.0,283.7L228.9,284.6L229.1,290.6L229.2,295.2L236.2,294.5ZM243.6,272.3L243.0,268.3L233.0,267.9L231.3,269.6L235.6,273.3L240.9,274.8ZM235.6,273.3L232.7,279.9L236.7,281.4L241.7,281.7L241.9,281.2L240.9,274.8ZM236.7,281.4L235.0,283.7L236.0,290.1L236.2,294.5L240.1,294.5L242.3,292.9L241.5,288.2L241.7,281.7ZM366.7,279.2L374.1,277.2L374.9,276.5L371.9,271.5L370.4,267.1L365.0,269.4L364.9,276.4ZM374.3,289.2L370.3,284.8L366.1,281.8L365.3,284.5L367.2,287.7L369.4,291.2L371.2,294.8ZM380.4,278.0L380.2,278.0L374.9,276.5L374.1,277.2L372.7,283.4L379.3,282.2L380.4,278.6ZM384.9,276.1L387.2,273.7L383.3,269.3L380.6,263.4L378.6,263.4L378.3,267.9L379.2,273.5L380.2,278.0L380.4,278.0ZM87.2,293.2L86.9,292.3L83.1,295.5L84.4,298.9L79.6,302.5L80.1,303.0L86.1,301.7ZM96.0,296.4L98.5,292.1L93.1,287.6L92.7,293.4L93.2,299.6L94.8,301.3ZM86.8,316.2L83.6,317.7L78.6,321.1L80.8,325.0L86.3,325.6L88.2,321.2L89.4,317.4ZM86.3,325.6L80.8,325.0L80.6,325.6L81.2,331.1L85.8,332.1L90.5,327.3ZM97.8,309.5L94.8,309.9L91.9,310.4L92.5,316.9L92.9,317.4L99.0,317.0ZM99.0,317.0L92.9,317.4L95.7,324.3L97.1,324.9L99.5,323.6L99.3,317.3ZM99.5,323.6L97.1,324.9L92.9,328.6L92.9,328.8L98.8,331.1L102.0,329.5L103.5,325.6ZM107.0,308.6L104.0,306.3L97.8,309.5L99.0,317.0L99.3,317.3L105.3,317.9L108.0,316.9ZM99.3,317.3L99.5,323.6L103.5,325.6L105.5,324.0L107.8,321.5L105.3,317.9ZM112.1,322.5L112.3,329.9L114.4,331.2L116.2,330.1L113.3,325.6L112.4,322.4ZM334.9,320.2L331.8,321.4L327.8,326.2L325.6,328.7L332.7,331.1L337.2,329.1L338.1,324.0L337.0,322.2ZM347.4,321.7L348.9,316.6L346.7,310.0L343.2,317.1L341.5,321.4ZM338.1,324.0L340.9,326.7L345.6,327.3L349.4,324.0L347.4,321.7L341.5,321.4L337.0,322.2ZM346.2,309.5L346.7,310.0L348.9,316.6L350.5,316.5L352.6,315.3L355.8,309.3L346.5,307.4L345.6,308.6ZM349.4,324.0L351.5,324.6L354.9,323.3L350.5,316.5L348.9,316.6L347.4,321.7ZM345.9,330.7L353.9,331.9L353.9,331.8L354.1,330.5L351.5,324.6L349.4,324.0L345.6,327.3ZM57.0,332.1L57.8,334.4L55.7,343.1L55.8,343.1L61.2,340.5L66.4,340.8L61.9,332.6ZM61.3,346.2L57.9,351.7L62.7,353.2L68.5,354.5L71.4,346.5L67.8,341.7L66.8,341.4ZM75.9,337.5L72.0,336.6L67.8,341.7L71.4,346.5L78.4,346.9L79.5,347.3L80.2,341.5ZM86.6,337.9L76.8,337.1L75.9,337.5L80.2,341.5L85.2,340.4ZM87.4,337.5L86.6,337.9L85.2,340.4L86.0,340.5L94.8,341.5L95.2,340.4L95.5,336.3L94.5,334.5ZM88.2,348.5L88.9,349.1L94.1,346.6L94.8,341.5L86.0,340.5ZM94.8,341.5L94.1,346.6L98.4,349.4L100.0,349.6L100.5,348.4L100.3,343.3L99.6,342.5L95.2,340.4ZM97.4,335.2L100.9,339.6L103.2,337.1L99.3,334.6ZM100.9,339.6L99.6,342.5L100.3,343.3L106.3,342.5L106.9,342.2L107.2,339.5L104.9,337.2L103.2,337.1ZM104.3,349.9L106.3,342.5L100.3,343.3L100.5,348.4ZM104.9,337.1L104.9,337.2L107.2,339.5L109.2,339.6L110.5,338.5L110.6,335.8L109.6,332.4ZM106.9,342.2L106.3,342.5L104.3,349.9L106.9,351.8L107.3,348.6L107.4,344.3ZM109.5,330.8L109.6,332.4L110.6,335.8L114.8,336.5L114.4,331.2L112.3,329.9L110.6,330.7ZM110.6,335.8L110.5,338.5L112.9,339.1L115.0,336.6L114.8,336.5ZM109.2,339.6L111.3,344.7L112.2,344.7L113.0,341.3L112.9,339.1L110.5,338.5ZM114.4,331.2L114.8,336.5L115.0,336.6L118.9,337.3L119.4,336.5L118.9,334.4L116.2,330.1ZM112.9,339.1L113.0,341.3L120.2,340.3L118.9,337.3L115.0,336.6ZM120.7,341.0L120.6,340.6L120.2,340.3L113.0,341.3L112.2,344.7L114.2,346.6L119.3,346.1ZM118.9,337.3L120.2,340.3L120.6,340.6L120.0,338.9L119.4,336.5ZM119.0,349.9L123.9,353.2L124.1,353.1L124.1,348.2L119.4,346.5ZM137.0,344.6L141.9,344.3L141.0,339.6L138.1,340.7L137.8,341.1L135.8,344.1ZM205.7,321.8L199.6,318.9L199.5,322.4L199.0,327.4L196.3,332.9L197.0,337.6L199.1,340.9L204.9,337.4L208.8,334.4L210.6,326.0ZM208.8,334.4L204.9,337.4L199.1,340.9L202.8,346.6L204.6,348.8L211.2,348.2L211.2,345.2L210.9,338.4L211.9,335.2ZM215.3,348.5L219.5,342.7L217.3,339.3L211.9,335.2L210.9,338.4L211.2,345.2L211.2,348.2L212.2,348.3ZM219.5,342.7L228.2,342.5L227.5,337.7L226.1,334.1L221.2,335.6L217.3,339.3ZM235.3,334.6L235.4,334.6L231.5,331.3L228.4,327.1L226.1,334.1L227.5,337.7ZM256.1,342.1L259.6,340.6L261.6,338.6L260.0,333.6L255.9,331.2L251.7,330.7L249.8,331.1L246.9,335.9L247.2,338.9L249.9,341.2ZM253.5,353.8L257.7,348.9L261.9,345.5L259.6,340.6L256.1,342.1L249.9,341.2L249.6,345.6ZM274.9,339.3L278.4,344.5L281.7,340.4L281.4,334.9L280.1,330.7L275.3,330.8L273.4,331.1L268.8,337.5ZM281.4,334.9L281.7,340.4L285.8,338.8L292.5,334.7L293.5,332.0L288.0,330.3L281.9,329.6L280.1,330.7ZM317.6,329.5L312.2,329.4L308.4,329.8L304.8,334.9L308.8,339.9L312.1,345.1L316.4,342.3L317.4,339.2ZM319.4,329.0L317.6,329.5L317.4,339.2L325.2,339.5L328.5,336.8L324.2,329.6ZM328.5,336.8L330.9,337.6L332.7,331.1L325.6,328.7L324.2,329.6ZM325.5,350.1L325.2,352.1L328.1,352.6L332.1,351.6L334.2,344.8L330.1,343.6L326.6,343.9ZM330.9,337.6L331.1,337.9L337.3,337.9L339.5,335.0L337.2,329.1L332.7,331.1ZM334.2,344.8L337.1,343.3L337.3,337.9L331.1,337.9L330.1,343.6ZM339.2,345.2L344.8,341.6L345.4,338.4L342.8,336.8L339.5,335.0L337.3,337.9L337.1,343.3ZM344.8,352.2L346.0,345.0L344.8,341.6L339.2,345.2L342.7,351.9ZM350.7,338.2L353.9,331.9L345.9,330.7L342.8,336.8L345.4,338.4ZM350.7,338.2L345.4,338.4L344.8,341.6L346.0,345.0L353.3,346.2L355.0,341.3ZM353.5,352.1L353.7,347.7L353.3,346.2L346.0,345.0L344.8,352.2L348.5,356.3L350.7,357.1ZM353.9,331.9L350.7,338.2L355.0,341.3L361.6,338.4L361.9,338.0L358.2,333.9L353.9,331.8ZM361.8,348.3L361.6,338.4L355.0,341.3L353.3,346.2L353.7,347.7L360.6,348.1ZM361.9,338.0L361.6,338.4L361.8,348.3L368.9,346.7L370.4,340.9L367.7,337.8ZM56.5,357.1L62.7,360.0L66.2,361.6L68.8,356.1L68.5,354.5L62.7,353.2L57.9,351.7L56.2,351.3ZM94.1,363.9L92.0,366.9L90.3,370.2L92.0,370.9L96.7,369.9L97.3,365.2ZM94.6,355.0L97.4,358.3L98.5,358.0L100.3,353.1L99.6,351.6ZM100.1,365.3L97.3,365.2L96.7,369.9L98.9,373.6L99.2,373.6L103.2,369.2ZM99.6,351.6L100.3,353.1L104.6,356.2L106.0,352.7L106.9,351.8L104.3,349.9L100.5,348.4L100.0,349.6ZM98.5,358.0L101.2,358.4L104.7,357.1L104.6,356.2L100.3,353.1ZM110.8,349.4L107.3,348.6L106.9,351.8L106.0,352.7L110.3,353.8L110.3,352.8ZM111.6,364.9L108.4,360.5L105.6,364.0L105.3,366.5L110.9,365.6ZM105.3,366.5L104.4,369.9L105.6,371.2L107.9,372.3L108.9,371.3L110.9,365.6ZM114.6,361.8L114.1,360.5L112.1,358.1L108.3,359.9L108.4,360.5L111.6,364.9L115.1,363.8ZM120.2,362.0L121.7,358.9L120.0,353.9L118.0,353.1L116.8,354.5L114.1,360.5L114.6,361.8ZM115.7,370.4L121.0,369.3L121.3,369.1L120.7,366.4L115.4,364.0ZM121.8,364.1L126.3,358.4L126.6,357.0L121.7,358.9L120.2,362.0L121.0,364.0ZM127.5,355.3L126.6,357.0L126.3,358.4L128.4,362.5L130.8,361.2L131.3,355.0ZM130.8,361.2L128.4,362.5L127.4,365.5L131.1,365.9L133.4,364.2L132.4,360.1ZM139.9,355.3L141.2,354.8L140.7,353.0L135.6,349.4L135.0,349.9L135.3,354.9ZM147.4,357.6L147.1,351.4L146.0,347.2L140.7,353.0L141.2,354.8L144.3,358.1ZM141.8,361.3L142.8,361.8L144.3,358.1L141.2,354.8L139.9,355.3L138.2,358.6ZM139.9,367.7L143.9,369.3L144.6,368.9L147.0,365.2L142.8,361.8L141.8,361.3L138.8,366.2ZM152.5,351.5L151.7,348.0L150.4,345.9L146.3,347.0L146.0,347.2L147.1,351.4L147.4,357.6L152.7,356.2ZM147.4,357.6L144.3,358.1L142.8,361.8L147.0,365.2L151.8,365.0L154.0,357.1L152.7,356.2ZM154.4,368.2L151.8,365.0L147.0,365.2L144.6,368.9L148.2,372.2L154.2,369.1L154.8,368.7ZM154.0,357.1L156.9,356.0L158.8,350.2L151.7,348.0L152.5,351.5L152.7,356.2ZM170.6,358.2L166.5,353.9L161.1,358.4L161.1,359.1L161.8,359.8L167.0,360.5ZM161.8,359.8L160.1,365.7L167.1,368.9L167.4,368.8L167.2,365.1L167.0,360.5ZM167.2,365.1L174.6,365.4L175.8,364.8L172.6,357.6L170.6,358.2L167.0,360.5ZM180.7,348.6L173.0,352.2L173.4,356.2L179.9,355.6L181.1,355.4ZM179.9,355.6L173.4,356.2L172.6,357.6L175.8,364.8L176.8,365.7ZM175.8,364.8L174.6,365.4L171.8,370.4L174.4,371.3L179.6,365.9L176.8,365.7ZM187.0,353.1L188.1,346.4L187.7,345.9L180.8,348.3L180.7,348.6L181.1,355.4L186.3,357.7ZM183.9,371.7L187.7,364.4L187.5,359.3L183.9,362.4L180.3,365.8L183.7,371.9ZM190.8,375.6L191.8,374.0L194.2,366.9L187.7,364.4L183.9,371.7ZM202.9,355.4L204.6,348.8L202.8,346.6L194.2,350.8L193.4,355.5L195.7,359.3L200.7,362.2L201.0,362.9L202.5,362.0ZM194.2,366.9L191.8,374.0L195.5,373.9L198.3,371.4L204.4,366.2L201.0,362.9L200.7,362.2L194.8,365.6ZM225.4,350.1L218.3,351.8L218.9,357.1L225.5,356.4L226.5,354.7ZM218.9,357.1L218.7,358.6L218.7,359.2L225.8,360.9L226.5,360.5L225.5,356.4ZM225.0,364.1L225.8,360.9L218.7,359.2L217.9,364.8ZM217.5,369.4L218.2,369.7L224.1,368.0L225.5,364.9L225.0,364.1L217.9,364.8ZM228.1,354.6L233.4,350.6L226.8,345.5L225.4,350.1L226.5,354.7ZM229.5,357.1L233.6,356.9L236.3,352.5L236.2,349.8L233.4,350.6L228.1,354.6ZM230.3,360.5L235.1,359.0L233.6,356.9L229.5,357.1ZM229.3,366.1L229.8,367.3L232.3,369.9L234.1,369.8L238.2,370.1L236.0,364.4L232.2,365.0ZM235.5,359.3L238.3,358.9L239.7,354.6L236.3,352.5L233.6,356.9L235.1,359.0ZM236.3,363.6L240.7,365.9L242.7,363.3L238.3,358.9L235.5,359.3ZM246.9,361.8L246.0,362.3L246.4,368.1L250.8,368.7L252.9,367.9L254.9,364.6L252.3,360.8ZM252.3,360.8L254.9,364.6L257.6,365.9L260.8,361.7L257.1,357.4L256.1,356.9ZM254.9,364.6L252.9,367.9L256.8,372.3L260.4,369.7L259.5,367.2L257.6,365.9ZM259.5,367.2L260.4,369.7L261.7,372.4L264.8,370.0L265.3,369.6L264.1,366.5L263.7,366.1ZM264.1,366.5L268.0,364.8L267.0,359.3L266.9,359.3L262.1,362.0L263.7,366.1ZM265.3,369.6L266.3,369.6L270.0,365.2L268.0,364.8L264.1,366.5ZM277.1,360.5L276.0,354.7L275.1,353.9L270.6,358.1L275.2,363.1ZM282.3,357.6L281.8,356.5L276.0,354.7L277.1,360.5L282.7,358.8ZM275.1,364.3L275.2,369.8L276.3,370.9L280.5,371.7L280.2,363.3L275.3,364.0ZM280.2,363.3L280.5,371.7L281.8,372.0L283.9,369.9L285.1,366.4L282.3,363.6ZM291.4,356.4L296.1,354.6L296.5,346.3L292.8,347.7L288.4,351.3L289.4,354.9ZM283.9,369.9L288.0,372.4L290.5,367.1L289.4,365.4L287.3,365.4L285.1,366.4ZM298.2,363.6L299.6,359.1L299.3,357.6L296.1,354.6L291.4,356.4L292.0,362.5ZM293.4,368.8L298.8,369.8L298.2,363.6L292.0,362.5L289.4,365.4L290.5,367.1ZM350.7,357.1L348.5,356.3L343.5,358.7L341.4,361.9L338.7,365.4L338.4,367.1L338.5,367.1L343.6,367.3L347.5,366.1L349.5,364.3L351.5,357.5ZM359.2,357.3L360.6,348.1L353.7,347.7L353.5,352.1L350.7,357.1L351.5,357.5L358.1,357.7ZM65.8,370.0L60.9,369.0L59.6,369.2L62.2,374.4L64.3,377.2ZM74.2,376.0L72.4,368.9L69.4,366.8L65.8,370.0L64.3,377.2L65.4,378.6ZM71.1,384.5L71.9,383.8L76.0,376.9L74.2,376.0L65.4,378.6L68.9,383.3ZM71.4,389.3L72.5,388.1L71.1,384.5L68.9,383.3L68.9,383.3L70.1,389.8ZM77.0,365.7L72.4,368.9L74.2,376.0L76.0,376.9L77.9,377.6L81.0,372.9L81.4,371.8ZM78.6,389.1L80.2,388.1L79.0,383.0L71.9,383.8L71.1,384.5L72.5,388.1ZM87.1,389.3L86.1,379.5L85.4,379.1L79.3,382.4L79.0,383.0L80.2,388.1L85.9,389.9ZM93.3,386.6L92.2,380.0L86.1,379.5L87.1,389.3L92.7,386.9ZM100.1,381.0L101.7,378.8L96.7,375.9L95.6,376.6L95.2,376.8L93.2,379.4ZM98.2,387.5L99.5,385.1L100.1,381.0L93.2,379.4L92.2,380.0L93.3,386.6ZM103.2,369.2L99.2,373.6L103.3,375.2L105.6,371.2L104.4,369.9ZM99.2,389.9L105.9,391.4L106.7,390.7L107.1,386.6L103.1,383.8L99.5,385.1L98.2,387.5ZM103.3,375.2L103.6,376.1L107.4,374.0L107.9,372.3L105.6,371.2ZM107.6,379.0L105.8,378.9L103.1,383.8L107.1,386.6L109.8,386.6ZM110.5,386.6L109.8,386.6L107.1,386.6L106.7,390.7L110.7,391.3L111.5,388.0ZM113.0,379.2L111.6,378.6L107.6,379.0L109.8,386.6L110.5,386.6L115.7,383.2L115.9,382.9ZM118.0,376.9L118.1,382.5L119.8,383.4L124.2,379.1L125.3,375.7L125.2,375.6L119.7,376.4ZM131.0,380.0L131.1,378.4L127.0,380.8L126.8,383.7L127.3,384.0L127.3,383.9ZM132.7,370.7L131.2,368.0L127.7,370.5L131.6,374.7L131.8,375.1L132.7,374.7L134.1,372.6ZM131.1,378.4L131.0,380.0L134.8,382.4L137.7,379.5L132.7,374.7L131.8,375.1ZM127.8,384.5L134.4,385.0L134.6,384.9L134.8,382.4L131.0,380.0L127.3,383.9ZM134.1,372.6L132.7,374.7L137.7,379.5L139.4,378.9L138.8,376.4L135.6,372.9ZM139.8,379.0L139.4,378.9L137.7,379.5L134.8,382.4L134.6,384.9L135.1,385.0L138.7,386.2L141.4,384.0ZM156.5,368.5L158.5,373.0L158.9,373.2L161.8,373.8L167.1,368.9L160.1,365.7ZM166.7,380.7L171.4,382.1L173.0,378.4L168.3,374.2L165.4,376.7L165.5,379.3ZM180.3,365.8L179.6,365.9L174.4,371.3L176.9,372.6L181.8,373.9L183.7,371.9ZM174.5,373.8L174.5,377.1L179.5,378.7L181.8,373.9L176.9,372.6ZM181.8,373.9L179.5,378.7L180.1,380.0L188.8,382.4L190.7,379.0L190.8,375.6L183.9,371.7L183.7,371.9ZM199.8,376.1L195.5,373.9L191.8,374.0L190.8,375.6L190.7,379.0L197.4,383.4L201.5,381.8ZM198.3,371.4L195.5,373.9L199.8,376.1L203.7,373.6L205.8,369.4L204.4,366.2ZM199.8,376.1L201.5,381.8L205.5,380.7L205.5,380.0L203.7,373.6ZM203.7,373.6L205.5,380.0L210.8,376.1L211.9,371.3L205.8,369.4ZM212.5,370.6L211.9,371.3L210.8,376.1L213.7,379.2L217.6,379.7L219.9,379.6L218.9,371.8L218.2,369.7L217.5,369.4ZM218.9,371.8L223.8,373.8L225.0,371.2L224.1,368.0L218.2,369.7ZM223.8,373.8L225.8,375.9L228.2,375.8L231.0,373.4L232.3,369.9L229.8,367.3L225.0,371.2ZM233.1,387.3L234.0,385.4L229.8,383.7L227.2,387.9L233.0,387.8ZM281.8,372.0L281.7,374.2L288.2,375.7L288.0,372.4L283.9,369.9ZM288.2,375.7L281.7,374.2L281.4,374.4L281.3,381.0L285.6,382.3L288.6,381.0L290.2,376.3ZM290.2,376.3L288.6,381.0L292.3,382.9L296.6,378.4L290.6,376.3ZM285.6,382.3L288.9,389.4L290.2,389.0L292.3,384.2L292.3,382.9L288.6,381.0ZM296.6,378.4L301.4,375.8L300.2,371.9L298.8,369.8L293.4,368.8L290.6,376.3ZM292.3,382.9L292.3,384.2L297.7,387.0L303.1,379.9L301.4,375.8L296.6,378.4ZM297.5,390.9L297.7,387.0L292.3,384.2L290.2,389.0L295.3,391.3ZM303.1,379.9L309.2,383.2L312.7,380.6L314.2,375.4L309.8,371.4L306.0,369.1L300.2,371.9L301.4,375.8ZM357.2,384.6L361.4,380.6L360.4,377.8L356.7,378.4L355.6,382.5L355.6,383.5ZM361.4,380.6L363.0,381.1L366.2,377.8L365.2,372.4L364.5,372.0L361.4,375.0L361.1,375.4L360.4,377.8ZM360.1,387.3L364.5,382.7L363.0,381.1L361.4,380.6L357.2,384.6ZM364.4,391.3L364.6,391.2L366.7,387.8L366.5,386.8L364.5,382.7L360.1,387.3L359.7,390.5ZM366.2,377.8L363.0,381.1L364.5,382.7L366.5,386.8L368.9,384.5L366.7,378.1ZM364.6,391.2L370.7,387.9L366.7,387.8ZM370.6,378.2L374.7,382.3L376.4,378.1L374.0,375.8L371.4,376.5ZM374.0,375.8L376.4,378.1L382.3,380.5L385.8,376.1L385.4,375.5L374.8,373.6ZM374.6,384.6L376.5,386.4L376.5,386.4L381.5,383.2L382.3,380.5L376.4,378.1L374.7,382.3ZM382.0,392.7L387.8,389.4L381.5,383.2L376.5,386.4L376.8,395.1ZM384.2,368.6L385.4,375.5L385.8,376.1L388.2,375.8L390.9,371.2L392.8,369.2L390.7,364.4ZM71.6,392.9L71.4,389.3L70.1,389.8L70.8,393.6ZM75.5,400.6L78.0,397.6L77.4,397.1L71.6,392.9L70.8,393.6L71.0,394.4L74.4,400.0L75.0,400.7ZM71.6,392.9L77.4,397.1L78.6,389.1L72.5,388.1L71.4,389.3ZM80.2,388.1L78.6,389.1L77.4,397.1L78.0,397.6L81.0,398.5L85.6,395.9L85.9,389.9ZM85.6,395.9L81.0,398.5L83.3,403.8L85.8,405.5L89.4,401.9L87.4,396.9ZM82.4,412.6L87.8,410.4L85.8,405.5L83.3,403.8L78.9,406.7L81.1,411.0L81.6,413.0ZM87.1,389.3L85.9,389.9L85.6,395.9L87.4,396.9L90.5,396.5L92.5,395.8L92.7,386.9ZM89.4,401.9L85.8,405.5L87.8,410.4L89.0,411.5L91.4,409.2L94.8,402.6ZM92.5,395.8L97.3,395.4L99.2,389.9L98.2,387.5L93.3,386.6L92.7,386.9ZM90.5,396.5L93.0,399.1L96.6,402.7L100.6,399.4L100.0,398.3L97.3,395.4L92.5,395.8ZM94.8,402.6L91.4,409.2L100.1,411.3L100.1,407.9L96.2,403.0ZM103.0,400.6L103.5,399.6L106.5,395.1L105.4,393.9L100.0,398.3L100.6,399.4ZM108.4,409.5L114.1,404.8L108.9,402.7L105.6,405.8L106.2,409.2ZM113.6,397.5L111.0,397.7L110.8,397.9L108.9,402.7L114.1,404.8L115.7,405.0L116.0,401.0ZM116.8,392.7L114.2,394.4L113.6,397.5L116.0,401.0L117.9,400.1L119.1,397.3L119.1,397.0ZM117.9,400.1L116.0,401.0L115.7,405.0L116.9,405.6L119.7,405.2L123.8,404.6L123.6,404.2ZM119.1,397.0L119.1,397.3L125.3,399.3L128.1,398.5L125.1,395.8L125.1,394.9L123.1,393.7ZM128.1,398.5L128.7,399.5L132.8,394.3L131.6,394.2L125.1,395.8ZM130.3,407.8L130.8,408.3L132.7,414.0L135.8,408.7L134.8,406.4L134.3,405.5ZM135.0,393.6L137.9,393.5L135.1,385.0L134.6,384.9L134.4,385.0L132.5,389.4ZM162.6,395.9L163.0,400.1L165.5,400.0L166.4,395.0L166.4,394.1L163.3,394.5ZM162.3,400.2L159.1,403.8L163.3,407.2L164.1,407.8L164.3,407.6L162.6,400.3ZM164.1,407.8L163.3,407.2L157.3,410.6L159.7,411.9L163.4,411.5ZM162.6,400.3L164.3,407.6L168.0,407.0L169.5,402.6L165.5,400.0L163.0,400.1ZM170.0,407.5L168.0,407.0L164.3,407.6L164.1,407.8L163.4,411.5L166.5,413.5L167.8,414.1L168.4,413.6L169.9,409.0ZM175.9,402.2L175.5,401.7L169.8,402.2L169.5,402.6L168.0,407.0L170.0,407.5ZM179.7,389.4L176.1,389.3L176.5,390.7L177.1,393.5L180.6,396.2ZM178.5,403.1L182.5,397.5L182.1,397.3L175.2,400.4L175.5,401.7L175.9,402.2L176.3,402.7ZM179.7,404.7L186.7,404.3L186.9,403.7L184.2,397.4L182.5,397.5L178.5,403.1ZM193.8,388.6L187.9,390.6L185.1,396.6L193.4,396.9ZM189.9,401.4L195.4,399.9L195.3,398.5L193.4,396.9L185.1,396.6L184.2,397.4L186.9,403.7ZM186.7,404.3L188.4,408.8L193.7,407.4L196.0,402.4L195.4,399.9L189.9,401.4L186.9,403.7ZM198.1,388.3L193.8,388.6L193.4,396.9L195.3,398.5L196.3,394.3L198.9,391.4ZM196.3,394.3L195.3,398.5L195.4,399.9L196.0,402.4L204.8,402.2L206.5,399.6L204.3,394.9L200.3,392.0L198.9,391.4ZM223.7,393.3L218.1,389.8L215.0,390.7L218.3,395.6L224.3,394.4ZM225.6,401.0L224.7,399.3L218.2,397.0L215.2,401.9L215.8,405.9L225.3,401.9ZM230.8,409.8L230.0,406.2L225.7,405.0L225.7,407.9ZM228.4,391.4L229.6,394.2L230.6,395.6L232.8,395.6L234.7,390.9L233.1,387.3L233.0,387.8ZM232.9,411.2L234.5,409.5L232.4,404.3L231.8,404.9L230.0,406.2L230.8,409.8ZM245.1,412.0L250.8,413.6L250.8,413.2L249.0,409.0L244.9,403.5L242.9,404.1L242.3,404.9L239.5,408.5ZM246.9,390.8L246.6,392.6L250.4,397.5L256.7,396.4L254.9,393.4L254.2,392.0L250.9,389.9ZM250.4,397.5L246.6,392.6L246.0,393.8L245.4,403.2L248.8,402.6ZM253.7,411.4L251.4,403.5L248.8,402.6L245.4,403.2L244.9,403.5L249.0,409.0L250.8,413.2ZM264.5,393.1L264.2,390.8L259.8,388.7L254.9,393.4L256.7,396.4L260.8,396.5ZM255.3,402.2L260.5,398.9L260.8,396.5L256.7,396.4L250.4,397.5L248.8,402.6L251.4,403.5ZM258.4,410.5L259.0,405.7L261.3,400.4L260.5,398.9L255.3,402.2L251.4,403.5L253.7,411.4ZM286.2,402.9L290.7,396.9L291.2,395.9L291.2,395.5L285.1,396.5L278.6,397.3L278.3,398.4L278.7,400.2ZM291.2,395.9L295.3,391.3L290.2,389.0L288.9,389.4L287.6,390.8L291.2,395.5ZM288.7,410.7L292.3,404.5L286.9,403.7L287.8,410.3ZM301.8,397.7L298.1,393.8L292.5,397.9L294.1,402.8L299.4,405.7L300.9,401.1ZM291.1,412.9L296.5,410.0L300.5,407.8L300.7,407.7L299.4,405.7L294.1,402.8L292.3,404.5L288.7,410.7ZM307.8,392.3L298.0,391.9L298.1,393.8L301.8,397.7L307.8,392.5ZM301.8,397.7L300.9,401.1L304.3,400.3L307.8,394.9L307.8,392.5ZM299.4,405.7L300.7,407.7L306.6,410.7L311.2,402.8L304.3,400.3L300.9,401.1ZM316.2,399.0L316.4,392.9L316.3,392.5L310.5,387.1L307.8,392.3L307.8,392.5L307.8,394.9L313.9,400.4ZM307.8,394.9L304.3,400.3L311.2,402.8L313.6,400.6L313.9,400.4ZM306.6,410.7L307.0,413.1L317.5,410.9L317.5,410.7L315.0,405.6L313.6,400.6L313.6,400.6L311.2,402.8ZM320.2,398.7L326.2,399.0L326.6,398.1L325.7,396.0L320.2,393.8L316.4,392.9L316.2,399.0ZM313.6,400.6L313.6,400.6L317.3,403.6L320.2,398.7L316.2,399.0L313.9,400.4ZM317.3,403.6L313.6,400.6L315.0,405.6L317.5,410.7L320.6,408.3L319.5,405.7ZM320.2,393.8L325.7,396.0L324.6,387.2L321.8,385.8L316.3,392.5L316.4,392.9ZM326.2,399.0L320.2,398.7L317.3,403.6L319.5,405.7L326.3,399.6ZM326.3,399.6L319.5,405.7L320.6,408.3L324.8,409.2L326.2,401.6ZM330.7,388.3L328.7,384.1L324.6,387.2L325.7,396.0L326.6,398.1L330.1,397.3L334.2,391.5ZM332.2,405.2L326.2,401.6L324.8,409.2L327.3,411.3L333.0,408.3L333.5,407.1ZM338.9,398.9L339.5,391.3L339.5,391.3L334.2,391.5L330.1,397.3L332.3,399.7ZM339.8,403.5L340.5,402.2L338.9,398.9L332.3,399.7L332.2,405.2L333.5,407.1ZM367.3,396.5L367.3,396.5L364.4,391.3L359.7,390.5L357.5,391.7L357.8,397.4ZM358.1,402.4L362.2,403.6L365.2,402.9L367.3,396.5L357.8,397.4ZM382.8,404.3L383.6,403.1L375.5,397.2L374.2,397.7L371.9,403.1L374.4,407.3ZM384.5,412.0L382.8,404.3L374.4,407.3L375.2,410.8L378.4,411.3L383.4,412.9ZM386.0,412.5L391.2,410.7L393.7,402.4L386.0,399.9L383.6,403.1L382.8,404.3L384.5,412.0ZM101.5,432.0L108.9,431.0L108.0,425.2L107.4,424.9L97.9,424.2L98.3,429.4ZM108.9,431.0L113.1,433.9L118.5,429.9L118.5,429.8L114.4,422.8L110.9,423.0L108.0,425.2ZM114.4,422.8L118.5,429.8L119.5,426.9L123.7,423.7L119.5,419.2ZM120.2,413.7L125.2,415.2L128.1,410.4L124.8,410.8ZM120.2,413.7L120.1,413.7L118.2,414.9L118.2,415.1L119.5,419.2L123.7,423.7L124.6,423.2L127.9,417.5L125.2,415.2ZM123.6,431.1L128.0,431.7L126.9,425.1L124.6,423.2L123.7,423.7L119.5,426.9L118.5,429.8L118.5,429.9L119.0,430.3ZM127.9,417.5L124.6,423.2L126.9,425.1L133.0,424.4L132.0,416.8ZM141.6,411.6L138.9,409.2L135.8,408.7L132.7,414.0L132.9,416.2L137.8,418.4L138.6,417.2ZM137.8,418.4L132.9,416.2L132.0,416.8L133.0,424.4L133.8,426.1L136.4,423.8L138.6,418.9ZM136.4,423.8L133.8,426.1L134.9,431.6L137.7,432.3L141.0,429.7L142.2,425.7ZM142.2,425.7L141.0,429.7L145.0,431.4L148.3,430.2L146.0,425.7L143.7,424.8ZM145.3,418.1L148.6,418.9L152.1,415.5L150.5,410.8L146.1,415.1L144.4,416.0ZM152.1,415.5L148.6,418.9L150.2,420.9L152.5,421.0L155.4,417.3ZM150.2,420.9L150.5,422.0L155.5,426.7L157.1,426.8L155.9,422.1L152.5,421.0ZM159.7,411.9L157.3,410.6L156.4,410.3L156.4,417.1L159.0,417.6L159.1,417.5ZM163.4,411.5L159.7,411.9L159.1,417.5L166.5,413.5ZM162.6,421.9L159.7,425.7L162.0,427.5L168.1,425.8L167.8,424.3L165.9,422.5ZM168.4,413.6L176.6,411.8L175.4,409.4L169.9,409.0ZM173.0,418.6L167.8,415.3L165.9,422.5L167.8,424.3L173.7,421.8ZM167.8,424.3L168.1,425.8L169.4,428.2L172.5,431.3L175.0,428.8L178.0,423.1L173.7,421.8ZM168.4,413.6L167.8,414.1L167.8,415.3L173.0,418.6L176.5,415.5L177.0,411.6L176.6,411.8ZM223.1,412.4L217.0,411.2L216.6,411.5L215.7,412.5L218.0,414.9L223.3,418.1L226.2,415.4ZM226.2,415.4L223.3,418.1L221.6,420.0L228.4,424.9L232.9,422.4L226.3,415.4ZM219.2,427.2L223.0,427.3L228.4,424.9L221.6,420.0L217.8,423.7ZM223.1,412.4L226.2,415.4L226.3,415.4L232.3,413.5L232.9,411.2L230.8,409.8L225.7,407.9ZM226.3,415.4L232.9,422.4L233.0,423.3L233.9,423.7L238.0,415.4L232.3,413.5ZM227.5,433.5L231.7,430.6L233.0,423.3L232.9,422.4L228.4,424.9L223.0,427.3ZM232.3,413.5L238.0,415.4L238.8,414.7L239.3,408.9L234.5,409.5L232.9,411.2ZM244.2,428.3L243.9,427.5L238.9,426.1L233.9,423.7L233.0,423.3L231.7,430.6L237.5,435.5ZM293.5,418.0L297.8,418.4L299.2,413.1L300.5,407.8L296.5,410.0L291.1,412.9ZM288.6,431.2L290.6,434.0L295.9,429.2L299.6,427.4L301.7,422.5L297.8,418.4L293.5,418.0L286.9,423.0ZM326.5,426.7L327.1,421.2L326.7,417.2L319.1,418.4L317.6,420.5L318.2,421.7ZM315.9,426.6L324.1,429.6L325.9,429.4L326.5,426.7L318.2,421.7ZM336.9,411.8L333.0,408.3L327.3,411.3L327.4,415.7L334.7,417.2L337.3,416.9ZM325.9,429.4L328.4,429.5L332.6,425.1L327.1,421.2L326.5,426.7ZM341.4,415.5L339.7,407.8L336.9,411.8L337.3,416.9L339.7,416.4ZM340.9,421.5L339.7,416.4L337.3,416.9L334.7,417.2L334.3,424.7L336.8,424.6ZM345.9,416.6L349.4,409.1L340.2,404.7L339.7,407.8L341.4,415.5ZM347.4,421.8L347.2,417.6L345.9,416.6L341.4,415.5L339.7,416.4L340.9,421.5L346.7,424.1ZM355.2,425.1L354.5,422.7L347.4,421.8L346.7,424.1L346.6,428.1L350.6,432.2L354.4,431.8ZM361.3,424.3L362.6,423.4L362.9,419.7L358.8,417.3L354.5,422.7L355.2,425.1ZM362.7,428.3L361.3,424.3L355.2,425.1L354.4,431.8L355.2,432.4ZM366.5,415.5L367.8,413.6L361.3,411.9L358.7,416.9L358.8,417.3L362.9,419.7ZM362.6,423.4L363.0,423.5L368.7,418.9L366.5,415.5L362.9,419.7ZM362.7,428.3L365.7,432.6L367.3,433.8L369.8,431.9L369.4,427.1L363.0,423.5L362.6,423.4L361.3,424.3ZM374.3,420.8L374.6,411.5L367.9,411.0L367.8,413.6L366.5,415.5L368.7,418.9L373.4,421.1L374.0,421.5ZM368.7,418.9L363.0,423.5L369.4,427.1L373.4,421.1ZM373.4,421.1L369.4,427.1L369.8,431.9L375.7,430.0L374.6,422.4L374.0,421.5ZM374.6,422.4L378.5,421.6L378.7,420.8L379.8,416.0L374.3,420.8L374.0,421.5ZM375.7,430.0L380.4,430.7L383.7,429.0L378.5,421.6L374.6,422.4ZM104.1,451.9L107.6,447.5L104.5,441.7L102.4,441.2L99.6,445.8L99.6,445.9L100.9,450.7ZM129.6,438.4L133.2,442.6L136.3,442.9L139.3,440.1L139.2,433.3L137.7,432.3L134.9,431.6L131.4,434.0ZM162.0,427.5L160.2,429.1L162.4,433.7L163.9,434.3L169.4,428.2L168.1,425.8ZM335.2,450.2L338.7,453.2L341.9,445.5L340.0,442.6L336.3,443.9L331.2,445.1L331.5,448.0ZM96.2,461.4L97.4,460.2L96.7,460.0L94.7,460.6ZM136.2,446.9L131.8,449.7L126.5,451.6L126.7,454.0L132.2,455.9L136.3,447.3ZM136.3,447.3L132.2,455.9L135.7,458.3L138.8,456.2L138.6,449.9ZM133.5,467.6L137.1,471.0L139.6,473.9L141.7,474.1L142.7,468.8L137.0,465.3L133.7,466.0ZM145.3,453.5L144.8,453.1L140.6,456.6L144.1,462.3L148.2,463.0L148.7,462.4L147.6,454.9ZM142.7,468.8L146.4,467.8L148.2,463.0L144.1,462.3L137.0,465.3ZM149.3,448.0L145.3,453.5L147.6,454.9L152.7,454.2L152.8,454.1ZM147.6,454.9L148.7,462.4L153.7,462.8L154.8,462.3L152.7,454.2ZM154.8,462.3L153.7,462.8L154.5,470.3L156.3,470.9L159.6,465.2L160.3,461.0L157.9,459.8ZM160.3,461.0L159.6,465.2L162.3,466.6L167.1,465.6L163.6,461.1ZM168.6,456.2L166.6,454.0L166.2,454.0L163.7,460.9L169.1,460.1ZM163.7,460.9L163.6,461.1L167.1,465.6L167.3,465.5L169.1,460.2L169.1,460.1ZM167.1,465.6L162.3,466.6L165.4,469.9L167.2,469.8L169.2,467.1L168.6,465.8L167.3,465.5ZM170.5,453.0L169.3,456.0L174.4,458.0L177.2,454.4L175.2,449.9ZM324.5,452.8L320.6,451.4L319.7,453.2L316.9,458.6L320.3,460.4L322.6,457.5L324.5,452.9ZM322.6,457.5L320.3,460.4L320.4,460.4L323.3,463.0L328.5,456.9L324.5,452.9ZM320.4,460.4L318.2,466.6L315.5,472.6L315.9,473.0L318.1,472.5L322.4,470.3L326.1,467.2L325.8,464.5L323.3,463.0ZM328.5,456.9L330.4,457.2L332.7,454.4L328.6,449.6L324.5,452.8L324.5,452.9ZM333.8,461.5L335.2,463.8L339.1,461.5L340.1,460.2L340.9,458.6L339.1,454.9L332.7,454.4L330.4,457.2ZM335.2,463.8L334.4,468.3L336.5,471.6L343.6,468.5L343.9,468.0L339.1,461.5ZM340.9,458.6L347.1,454.2L345.7,446.9L341.9,445.5L338.7,453.2L339.1,454.9ZM344.9,461.1L348.5,460.9L348.1,455.5L347.1,454.2L340.9,458.6L340.1,460.2ZM343.9,468.0L347.1,470.4L349.2,461.2L348.5,460.9L344.9,461.1L340.1,460.2L339.1,461.5ZM357.2,456.9L354.3,453.1L348.1,455.5L348.5,460.9L349.2,461.2L350.9,461.2L352.5,460.1ZM352.0,471.2L354.5,470.9L350.9,461.2L349.2,461.2L347.1,470.4L349.7,471.0ZM362.2,463.6L359.6,455.2L357.2,456.9L352.5,460.1L359.3,465.8ZM359.3,465.8L352.5,460.1L350.9,461.2L354.5,470.9L358.7,469.0ZM50.0,482.4L50.9,481.9L50.9,481.7L48.8,478.3L47.1,477.0L44.8,481.4ZM48.4,487.5L50.0,482.4L44.8,481.4L43.3,484.4L46.6,489.3ZM48.8,478.3L51.1,475.1L52.2,469.6L52.2,468.9L52.2,468.9L47.8,475.6L47.1,477.0ZM51.1,475.1L48.8,478.3L50.9,481.7L56.3,478.0L54.3,474.5L52.2,469.6ZM50.0,482.4L48.4,487.5L54.5,492.9L54.7,493.0L56.8,489.8L54.1,485.5L50.9,481.9ZM54.3,474.5L56.3,478.0L58.0,478.6L61.1,477.0L60.9,470.8L57.8,468.9L52.2,468.9L52.2,469.6ZM58.0,478.6L56.3,478.0L50.9,481.7L50.9,481.9L54.1,485.5L58.5,482.5ZM60.0,484.6L58.5,482.5L54.1,485.5L56.8,489.8L58.8,488.5ZM68.9,472.6L64.5,469.7L60.9,470.8L61.1,477.0L67.8,478.6L68.4,476.6ZM67.8,478.6L61.1,477.0L58.0,478.6L58.5,482.5L60.0,484.6L67.0,484.5L67.5,484.4ZM60.0,484.6L58.8,488.5L59.5,488.3L65.3,486.8L67.0,484.5ZM68.4,476.6L71.5,477.3L70.0,473.3L68.9,472.6ZM74.9,481.5L73.3,482.2L71.5,477.3L68.4,476.6L67.8,478.6L67.5,484.4L73.9,484.4L75.2,482.0ZM67.5,484.4L67.0,484.5L65.3,486.8L65.9,489.5L73.4,492.9L75.1,487.6L73.9,484.4ZM79.7,479.8L79.6,479.7L79.4,479.5L74.9,481.5L75.2,482.0ZM73.9,484.4L75.1,487.6L78.4,491.2L81.3,490.3L84.1,482.8L79.7,479.8L75.2,482.0ZM85.4,474.7L83.3,471.8L83.3,476.5ZM79.6,479.7L79.7,479.8L84.1,482.8L86.0,482.9L85.9,481.9L89.1,477.8L88.6,476.3L85.9,474.6L85.4,474.7L83.3,476.5L83.3,477.8L80.3,479.1ZM89.6,490.5L90.3,489.6L86.0,482.9L84.1,482.8L81.3,490.3L84.1,492.5ZM92.6,483.4L85.9,481.9L86.0,482.9L90.3,489.6L92.5,487.4ZM98.5,472.8L98.7,468.1L98.4,467.9L95.5,468.4L88.6,476.3L89.1,477.8L93.7,480.2ZM103.1,482.9L105.9,483.0L106.0,482.5L102.3,478.0L98.5,472.8L93.7,480.2L94.4,481.7ZM142.7,468.8L141.7,474.1L143.5,477.1L149.5,472.4L146.4,467.8ZM144.4,477.4L143.5,477.1L141.7,474.1L139.6,473.9L132.5,480.7L138.2,481.8L142.1,484.7L145.1,483.3ZM146.0,483.2L145.1,483.3L142.1,484.7L141.1,489.9L148.3,489.1ZM152.0,478.4L150.0,472.6L149.5,472.4L143.5,477.1L144.4,477.4L151.9,478.5ZM144.4,477.4L145.1,483.3L146.0,483.2L152.8,481.9L151.9,478.5ZM150.8,491.2L155.9,489.8L155.9,483.0L152.8,481.9L146.0,483.2L148.3,489.1L149.0,490.0ZM159.5,474.7L159.4,474.5L156.3,470.9L154.5,470.3L150.0,472.6L152.0,478.4ZM152.8,481.9L155.9,483.0L160.7,481.1L160.4,475.3L159.5,474.7L152.0,478.4L151.9,478.5ZM161.6,482.7L160.7,481.1L155.9,483.0L155.9,489.8L161.1,490.4L163.5,489.5ZM165.4,469.9L159.4,474.5L159.5,474.7L160.4,475.3L169.4,476.0L170.0,475.6L167.2,469.8ZM160.7,481.1L161.6,482.7L168.5,482.5L169.4,476.0L160.4,475.3ZM165.0,491.1L170.1,486.2L168.5,482.5L161.6,482.7L163.5,489.5ZM167.2,469.8L170.0,475.6L171.9,475.4L173.8,474.7L173.5,469.7L169.2,467.1ZM170.0,475.6L169.4,476.0L168.5,482.5L170.1,486.2L173.7,487.0L176.0,480.6L171.9,475.4ZM176.0,480.6L180.5,480.6L180.4,474.8L173.8,474.7L171.9,475.4ZM347.1,470.4L343.9,468.0L343.6,468.5L341.3,475.4L342.7,477.1L345.3,478.7L348.6,474.3L349.7,471.0ZM342.7,477.1L339.3,481.1L339.3,485.2L343.4,485.8L346.3,480.1L345.3,478.7ZM345.5,492.2L347.8,491.9L347.7,491.8L343.4,485.8L339.3,485.2L338.6,485.6L337.7,489.8ZM346.9,480.2L352.5,482.8L353.8,476.7L351.7,474.4ZM346.3,480.1L343.4,485.8L347.7,491.8L352.1,490.2L352.8,484.0L352.5,482.8L346.9,480.2ZM351.7,474.4L353.8,476.7L361.3,480.3L361.4,479.8L362.1,475.7L358.7,469.0L354.5,470.9L352.0,471.2ZM352.5,482.8L352.8,484.0L360.0,482.5L361.3,480.3L353.8,476.7ZM360.6,493.8L364.7,489.8L365.0,488.2L360.0,482.5L352.8,484.0L352.1,490.2ZM46.5,495.1L45.6,497.8L45.7,498.2L46.7,496.0ZM46.7,496.0L51.7,495.0L54.5,492.9L48.4,487.5L46.6,489.3L47.8,491.0L46.5,495.1ZM52.8,500.1L51.7,495.0L46.7,496.0L45.7,498.2L46.8,501.5ZM51.1,510.9L52.1,510.6L53.4,500.6L52.8,500.1L46.8,501.5L47.8,504.4L49.1,509.7ZM56.8,489.8L54.7,493.0L60.2,497.8L61.5,494.1L59.5,488.3L58.8,488.5ZM51.7,495.0L52.8,500.1L53.4,500.6L60.1,503.0L60.2,497.8L54.7,493.0L54.5,492.9ZM60.2,503.3L60.1,503.0L53.4,500.6L52.1,510.6L60.0,507.6ZM59.5,488.3L61.5,494.1L64.4,492.2L65.9,489.5L65.3,486.8ZM66.1,503.3L60.2,503.3L60.0,507.6L60.3,509.3L67.5,508.5L67.8,505.4ZM74.8,496.2L73.4,492.9L65.9,489.5L64.4,492.2L68.9,498.5L74.2,497.3ZM78.4,491.2L75.1,487.6L73.4,492.9L74.8,496.2L77.0,495.4ZM81.1,503.7L81.4,501.2L81.7,498.3L77.0,495.4L74.8,496.2L74.2,497.3L73.4,500.6L80.7,504.0ZM75.5,507.1L79.5,507.5L80.7,504.0L73.4,500.6L72.0,503.7ZM85.6,500.2L81.4,501.2L81.1,503.7L84.0,503.7L85.7,500.2ZM95.6,512.3L100.0,509.1L102.8,504.9L95.4,504.4L94.5,510.0ZM145.0,495.8L149.0,490.0L148.3,489.1L141.1,489.9L136.8,493.0L141.9,496.5L143.1,496.9ZM144.2,505.0L150.0,501.1L147.3,499.1L143.1,496.9L141.9,496.5L140.8,499.0L143.2,504.7ZM147.3,499.1L150.0,501.1L150.3,501.0L150.5,499.3L145.0,495.8L143.1,496.9ZM145.9,508.8L151.8,513.2L154.3,511.3L153.2,502.1L150.3,501.0L150.0,501.1L144.2,505.0ZM150.3,501.0L153.2,502.1L160.6,499.5L158.6,496.0L151.4,497.1L150.5,499.3ZM161.1,490.4L158.6,496.0L160.6,499.5L163.3,502.2L168.3,495.1L165.0,491.1L163.5,489.5ZM168.3,495.1L163.3,502.2L163.8,508.0L167.4,508.7L170.3,504.6L176.1,502.3L176.2,499.1L169.5,495.0ZM173.9,487.2L170.5,490.8L169.5,495.0L176.2,499.1L179.3,491.9L178.9,489.3ZM181.2,507.3L180.5,505.1L176.1,502.3L170.3,504.6L167.4,508.7L168.2,511.9L170.8,516.8L175.1,512.0L180.2,509.9ZM335.1,505.2L333.5,506.2L332.2,512.6L334.1,516.0L339.5,517.8L340.9,516.8L341.8,516.0L342.8,512.8L343.1,505.8ZM52.3,513.9L51.1,510.9L49.1,509.7L50.0,513.3L51.1,515.0ZM53.9,516.8L52.3,513.9L51.1,515.0L54.0,519.3ZM60.0,507.6L52.1,510.6L51.1,510.9L52.3,513.9L53.9,516.8L60.6,512.9L60.3,509.3ZM54.0,519.3L54.4,520.0L57.2,522.8L60.6,519.5L62.3,514.1L60.6,512.9L53.9,516.8ZM61.0,526.8L60.2,524.5L58.8,524.3L58.9,524.4L60.7,527.1ZM67.5,508.5L60.3,509.3L60.6,512.9L62.3,514.1L64.5,515.3L70.1,511.6ZM60.2,524.5L66.7,520.7L64.5,515.3L62.3,514.1L60.6,519.5L57.2,522.8L58.8,524.3ZM66.7,520.7L60.2,524.5L61.0,526.8L65.5,529.8L68.2,531.5L68.7,530.6L67.4,525.8L68.3,520.6ZM64.5,515.3L66.7,520.7L68.3,520.6L68.7,520.0L71.7,516.7L72.8,515.5L70.8,511.9L70.1,511.6ZM75.4,525.4L77.3,523.0L71.7,516.7L68.7,520.0ZM68.3,520.6L67.4,525.8L68.7,530.6L75.7,527.9L75.4,525.4L68.7,520.0ZM70.8,511.9L72.8,515.5L78.9,516.3L82.0,509.4L79.5,507.5L75.5,507.1ZM77.3,523.0L80.1,519.7L80.1,516.5L78.9,516.3L72.8,515.5L71.7,516.7ZM77.3,523.0L75.4,525.4L75.7,527.9L80.3,530.5L83.8,523.2L83.5,521.6L80.1,519.7ZM88.0,515.3L87.9,511.6L84.5,511.2L82.0,509.4L78.9,516.3L80.1,516.5L87.0,516.0ZM80.1,516.5L80.1,519.7L83.5,521.6L85.4,521.1L87.0,516.0ZM88.4,531.8L89.1,528.9L83.8,523.2L80.3,530.5L80.5,531.6ZM87.9,511.6L88.0,515.3L91.9,515.3L94.3,514.9L95.6,512.3L94.5,510.0L90.1,509.5ZM85.4,521.1L91.0,522.8L91.9,515.3L88.0,515.3L87.0,516.0ZM83.5,521.6L83.8,523.2L89.1,528.9L90.1,527.9L91.7,523.6L91.0,522.8L85.4,521.1ZM90.1,527.9L94.6,530.8L98.9,530.3L100.8,529.5L99.5,524.3L97.1,522.6L91.7,523.6ZM102.8,504.9L100.0,509.1L103.1,515.6L106.4,515.7L106.4,515.7L108.3,508.5L107.5,507.6L103.2,504.7ZM106.4,515.7L105.0,520.7L108.3,525.0L113.0,524.7L113.0,524.3L114.1,517.5L106.4,515.7ZM121.7,512.9L119.1,509.4L117.7,505.0L114.4,507.6L114.9,517.2L118.4,517.9ZM121.2,524.7L113.0,524.3L113.0,524.7L113.7,527.7L118.1,531.7L121.0,530.6ZM122.1,521.9L129.1,516.8L125.1,514.6L121.7,512.9L118.4,517.9ZM124.7,506.0L125.1,514.6L129.1,516.8L131.1,516.3L131.2,516.2L132.1,512.1L133.1,507.7ZM122.1,522.5L127.8,525.1L130.5,522.0L131.1,516.3L129.1,516.8L122.1,521.9ZM127.8,525.1L130.6,532.9L134.5,530.8L132.6,522.8L130.5,522.0ZM132.1,512.1L131.2,516.2L140.0,517.0L140.5,516.3L140.9,511.0L139.6,508.6L133.9,507.3L133.1,507.7ZM131.1,516.3L130.5,522.0L132.6,522.8L139.1,523.6L140.0,517.0L131.2,516.2ZM139.1,523.6L132.6,522.8L134.5,530.8L141.2,530.7L141.4,530.6ZM184.8,518.3L191.7,510.7L185.4,509.1L181.2,507.3L180.2,509.9L181.7,513.8ZM178.1,521.9L174.5,520.9L175.7,528.5L177.8,531.9L182.9,529.5L186.2,524.4L183.6,520.5ZM193.0,513.7L193.0,510.6L191.7,510.7L184.8,518.3L184.9,518.5L190.7,518.9ZM184.9,518.5L183.6,520.5L186.2,524.4L189.9,525.7L192.2,520.3L190.7,518.9ZM193.2,532.3L189.9,525.7L186.2,524.4L182.9,529.5L186.4,531.7L191.8,534.9ZM200.9,516.2L197.3,516.2L193.0,513.7L190.7,518.9L192.2,520.3L200.0,523.1L202.1,517.9ZM248.0,510.8L246.3,506.6L239.8,509.9L238.4,512.4L242.2,516.0L246.0,519.8L248.6,515.8ZM256.4,516.5L248.6,515.8L246.0,519.8L246.1,520.6L253.2,526.4L253.8,521.9L258.0,516.7ZM261.6,521.4L258.9,516.9L258.0,516.7L253.8,521.9L253.2,526.4L253.6,527.7L260.8,525.5L266.6,522.8ZM312.9,516.0L313.1,507.8L306.3,508.2L303.4,514.6L308.1,516.7L310.8,516.8ZM308.1,516.7L305.7,520.3L307.3,524.2L312.7,523.5L312.9,523.4L310.8,516.8ZM313.1,529.2L312.7,523.5L307.3,524.2L306.4,526.9L307.6,526.3L313.0,530.1ZM320.5,516.8L312.9,516.0L310.8,516.8L312.9,523.4L320.6,520.4L321.0,519.3ZM312.9,523.4L312.7,523.5L313.1,529.2L322.4,527.2L320.6,520.4ZM334.1,516.0L328.7,517.0L324.5,519.1L321.0,519.3L320.6,520.4L322.4,527.2L325.1,529.4L330.6,528.9L333.4,527.9L338.3,525.8L339.5,517.8ZM321.1,510.1L320.8,510.2L320.5,516.8L321.0,519.3L324.5,519.1L328.7,517.0L334.1,516.0L332.2,512.6L328.6,510.6ZM65.5,529.8L61.0,526.8L60.7,527.1L63.3,531.0L63.8,532.2ZM67.5,540.9L70.9,534.9L68.2,531.5L65.5,529.8L63.8,532.2L67.3,540.9ZM78.1,536.6L84.8,538.5L88.5,534.8L88.4,531.8L80.5,531.6ZM81.6,544.7L76.9,546.3L76.1,547.6L81.7,552.0L87.2,551.5L88.5,544.2L87.6,543.9ZM89.1,528.9L88.4,531.8L88.5,534.8L92.0,535.6L94.6,530.8L90.1,527.9ZM88.5,544.2L89.5,544.0L93.0,536.8L92.0,535.6L88.5,534.8L84.8,538.5L87.6,543.9ZM92.0,535.6L93.0,536.8L97.1,537.2L99.4,533.2L98.9,530.3L94.6,530.8ZM97.4,547.9L99.6,543.1L98.9,542.6L91.2,545.1L95.3,550.7L95.5,550.6ZM99.6,543.1L102.7,543.6L105.5,536.5L99.4,533.2L97.1,537.2L98.9,542.6ZM105.3,545.5L102.7,543.6L99.6,543.1L97.4,547.9L95.5,550.6L103.3,546.7L105.8,546.7ZM105.0,528.3L103.5,528.8L106.0,536.6L110.0,537.2L110.1,533.0ZM106.0,536.6L105.5,536.5L102.7,543.6L105.3,545.5L111.0,544.3L112.7,537.8L110.0,537.2ZM105.3,545.5L105.8,546.7L110.0,546.7L113.6,548.5L114.1,548.1L111.0,544.6L111.0,544.3ZM113.7,527.7L110.1,533.0L110.0,537.2L112.7,537.8L115.9,537.1L118.1,531.7ZM112.7,537.8L111.0,544.3L111.0,544.6L116.2,542.4L120.8,543.1L121.4,541.8L115.9,537.1ZM114.1,548.1L117.6,548.5L120.8,543.1L116.2,542.4L111.0,544.6ZM248.1,538.0L248.4,537.8L251.4,531.9L248.5,530.9L241.9,531.7L241.9,531.8L243.1,533.0L244.4,532.6L247.9,537.8ZM251.4,531.9L248.4,537.8L253.0,539.7L256.7,537.0L252.8,530.4ZM253.0,539.7L248.4,537.8L248.1,538.0L248.1,538.1L253.1,540.4ZM252.8,530.4L256.7,537.0L260.0,538.5L261.8,538.6L264.1,532.8L257.9,530.9L253.4,528.8ZM261.8,538.6L260.0,538.5L256.4,542.0L260.5,543.9L261.0,542.9L262.4,539.3ZM321.4,535.8L325.3,530.4L325.1,529.4L322.4,527.2L313.1,529.2L313.0,530.1L316.6,532.6L317.1,534.7ZM73.4,548.7L71.2,548.9L72.2,551.0L73.6,551.5ZM81.7,552.0L81.4,554.2L85.6,555.6L89.8,553.5L87.2,551.5Z"/>
<path fill="#784e30" stroke="#555b58" stroke-width="0.6" stroke-opacity="0.9" d="M162.0,277.4L168.4,279.0L171.3,276.3L174.4,270.9L175.5,265.5L175.7,261.0L173.4,258.9L171.2,263.3L167.8,269.6L164.4,272.1L161.8,277.0ZM179.5,285.1L184.1,280.0L183.8,280.3L177.7,280.3L170.5,281.4L172.0,287.4L177.2,290.4ZM202.3,295.8L205.4,292.9L204.1,286.9L201.2,281.7L199.3,279.0L192.0,276.1L187.6,280.0L189.4,285.3L189.3,289.4L191.7,294.3L195.3,295.6L201.4,301.2ZM103.2,331.2L109.5,330.8L110.6,330.7L105.5,324.0L103.5,325.6L102.0,329.5L102.5,330.6ZM110.5,315.8L108.9,310.0L107.0,308.6L108.0,316.9ZM108.0,316.9L105.3,317.9L107.8,321.5L112.1,322.5L112.4,322.4L110.5,315.8ZM368.5,314.3L373.8,313.9L371.9,309.3L371.6,303.7L366.5,307.5L363.3,311.0L363.0,316.5L364.1,316.9L364.9,316.8ZM92.9,328.8L92.9,328.6L90.5,327.3L85.8,332.1L87.4,337.5L94.5,334.5ZM102.0,329.5L98.8,331.1L92.9,328.8L94.5,334.5L95.5,336.3L97.4,335.2L99.3,334.6L102.5,330.6ZM99.3,334.6L103.2,337.1L104.9,337.2L104.9,337.1L103.2,331.2L102.5,330.6ZM104.9,337.1L109.6,332.4L109.5,330.8L103.2,331.2ZM111.3,344.7L109.2,339.6L107.2,339.5L106.9,342.2L107.4,344.3ZM112.2,344.7L111.3,344.7L107.4,344.3L107.3,348.6L110.8,349.4L113.5,349.2L114.2,346.6ZM118.6,350.5L119.0,349.9L119.4,346.5L119.3,346.1L114.2,346.6L113.5,349.2L114.7,350.5ZM119.3,346.1L119.4,346.5L124.1,348.2L126.3,346.4L122.2,345.6L120.7,341.0ZM130.2,347.4L129.9,347.1L129.9,347.1L126.3,346.4L124.1,348.2L124.1,353.1L125.9,353.5L130.2,348.7ZM135.0,349.9L135.6,349.4L137.0,344.6L135.8,344.1L133.3,347.8L130.5,347.2L130.2,347.4L130.2,348.7L132.2,349.3ZM192.3,314.4L188.7,316.3L182.6,316.8L179.4,322.6L182.4,324.9L185.0,328.9L186.8,334.0L190.4,337.1L197.0,337.6L196.3,332.9L199.0,327.4L199.5,322.4L199.6,318.9L197.2,313.1ZM218.3,351.8L225.4,350.1L226.8,345.5L228.5,343.3L228.5,342.7L228.2,342.5L219.5,342.7L215.3,348.5ZM228.5,342.7L235.1,340.7L235.3,334.6L227.5,337.7L228.2,342.5ZM226.8,345.5L233.4,350.6L236.2,349.8L236.6,347.8L232.0,344.9L228.5,343.3ZM247.2,338.9L243.6,337.4L239.8,334.5L235.4,334.6L235.3,334.6L235.1,340.7L239.3,344.2L240.0,344.0ZM228.5,343.3L232.0,344.9L236.6,347.8L239.3,344.2L235.1,340.7L228.5,342.7ZM334.2,344.8L332.1,351.6L337.8,353.4L342.7,351.9L339.2,345.2L337.1,343.3ZM78.4,346.9L77.7,353.0L76.5,356.6L77.0,356.9L81.8,356.0L82.6,354.5L83.5,348.7L79.5,347.3ZM82.6,354.5L81.8,356.0L86.2,362.3L86.7,361.5L86.2,355.6ZM86.2,362.3L81.8,356.0L77.0,356.9L77.7,362.5L85.5,363.2L85.9,363.2ZM85.5,363.2L77.7,362.5L77.0,365.7L81.4,371.8L87.2,371.4ZM83.5,348.7L82.6,354.5L86.2,355.6L89.6,353.7L88.9,349.1L88.2,348.5ZM89.6,353.7L86.2,355.6L86.7,361.5L91.7,361.6L90.3,354.2L90.2,354.1ZM91.7,361.6L86.7,361.5L86.2,362.3L85.9,363.2L89.0,365.4L92.0,362.0ZM89.0,365.4L85.9,363.2L85.5,363.2L87.2,371.4L87.7,372.0L90.3,370.2L92.0,366.9ZM94.1,346.6L88.9,349.1L89.6,353.7L90.2,354.1L98.4,349.4ZM90.3,354.2L91.7,361.6L92.0,362.0L93.8,363.2L97.4,358.3L94.6,355.0ZM93.8,363.2L92.0,362.0L89.0,365.4L92.0,366.9L94.1,363.9ZM98.4,349.4L90.2,354.1L90.3,354.2L94.6,355.0L99.6,351.6L100.0,349.6ZM102.6,365.1L101.2,358.4L98.5,358.0L97.4,358.3L93.8,363.2L94.1,363.9L97.3,365.2L100.1,365.3ZM108.4,360.5L108.3,359.9L104.7,357.1L101.2,358.4L102.6,365.1L105.6,364.0ZM105.3,366.5L105.6,364.0L102.6,365.1L100.1,365.3L103.2,369.2L104.4,369.9ZM110.3,353.8L106.0,352.7L104.6,356.2L104.7,357.1L108.3,359.9L112.1,358.1ZM114.7,350.5L113.5,349.2L110.8,349.4L110.3,352.8L116.6,354.5ZM110.3,352.8L110.3,353.8L112.1,358.1L114.1,360.5L116.8,354.5L116.6,354.5ZM115.1,363.8L111.6,364.9L110.9,365.6L108.9,371.3L112.9,372.2L114.9,372.3L115.7,370.4L115.4,364.0ZM116.8,354.5L118.0,353.1L118.6,350.5L114.7,350.5L116.6,354.5ZM120.7,366.4L121.0,364.0L120.2,362.0L114.6,361.8L115.1,363.8L115.4,364.0ZM120.0,353.9L123.9,353.2L119.0,349.9L118.6,350.5L118.0,353.1ZM127.5,355.3L125.9,353.5L124.1,353.1L123.9,353.2L120.0,353.9L121.7,358.9L126.6,357.0ZM120.7,366.4L121.3,369.1L124.1,370.7L125.7,369.8L127.4,365.5L121.8,364.1L121.0,364.0ZM132.2,349.3L130.2,348.7L125.9,353.5L127.5,355.3L131.3,355.0L132.1,354.1ZM135.3,354.9L135.0,349.9L132.2,349.3L132.1,354.1L134.8,355.1ZM132.1,354.1L131.3,355.0L130.8,361.2L132.4,360.1L134.0,358.3L134.8,355.1ZM131.1,365.9L131.2,368.0L132.7,370.7L138.4,366.4L133.4,364.2ZM134.0,358.3L138.2,358.6L139.9,355.3L135.3,354.9L134.8,355.1ZM134.0,358.3L132.4,360.1L133.4,364.2L138.4,366.4L138.8,366.2L141.8,361.3L138.2,358.6ZM138.4,366.4L132.7,370.7L134.1,372.6L135.6,372.9L139.2,370.7L139.9,367.7L138.8,366.2ZM159.2,362.5L161.1,359.1L161.1,358.4L156.9,356.0L154.0,357.1L151.8,365.0L154.4,368.2ZM161.1,359.1L159.2,362.5L154.4,368.2L154.8,368.7L156.5,368.5L160.1,365.7L161.8,359.8ZM225.5,356.4L226.5,360.5L229.7,362.8L230.3,360.5L229.5,357.1L228.1,354.6L226.5,354.7ZM225.8,360.9L225.0,364.1L225.5,364.9L229.3,366.1L232.2,365.0L229.7,362.8L226.5,360.5ZM224.1,368.0L225.0,371.2L229.8,367.3L229.3,366.1L225.5,364.9ZM229.7,362.8L232.2,365.0L236.0,364.4L236.3,363.6L235.5,359.3L235.1,359.0L230.3,360.5ZM240.5,354.2L241.2,346.5L240.0,344.0L239.3,344.2L236.6,347.8L236.2,349.8L236.3,352.5L239.7,354.6ZM236.0,364.4L238.2,370.1L239.6,370.0L240.8,366.2L240.7,365.9L236.3,363.6ZM240.5,354.2L246.3,353.2L246.5,353.1L246.8,352.2L241.2,346.5ZM238.3,358.9L242.7,363.3L246.0,362.3L246.9,361.8L246.3,353.2L240.5,354.2L239.7,354.6ZM261.2,352.2L257.8,356.9L263.5,356.0L265.0,353.2L265.7,350.1L262.8,347.1ZM262.1,362.0L266.9,359.3L263.5,356.0L257.8,356.9L257.1,357.4L260.8,361.7ZM259.5,367.2L263.7,366.1L262.1,362.0L260.8,361.7L257.6,365.9ZM265.0,353.2L270.2,355.3L269.6,350.4L265.7,350.1ZM270.2,355.3L265.0,353.2L263.5,356.0L266.9,359.3L267.0,359.3L270.2,358.3ZM274.2,347.9L272.6,347.8L269.6,350.4L270.2,355.3L270.2,358.3L270.6,358.1L275.1,353.9ZM270.6,358.1L270.2,358.3L267.0,359.3L268.0,364.8L270.0,365.2L275.1,364.3L275.3,364.0L275.2,363.1ZM275.2,369.8L275.1,364.3L270.0,365.2L266.3,369.6L269.8,371.1ZM276.0,354.7L281.8,356.5L283.6,350.4L278.8,345.9L274.2,347.9L275.1,353.9ZM277.1,360.5L275.2,363.1L275.3,364.0L280.2,363.3L282.3,363.6L282.7,358.8ZM286.0,358.6L289.4,354.9L288.4,351.3L283.6,350.4L281.8,356.5L282.3,357.6ZM282.3,363.6L285.1,366.4L287.3,365.4L286.0,358.6L282.3,357.6L282.7,358.8ZM287.3,365.4L289.4,365.4L292.0,362.5L291.4,356.4L289.4,354.9L286.0,358.6ZM341.4,361.9L343.5,358.7L348.5,356.3L344.8,352.2L342.7,351.9L337.8,353.4L337.3,358.4L336.7,362.9L338.7,365.4ZM76.0,376.9L71.9,383.8L79.0,383.0L79.3,382.4L77.9,377.6ZM81.4,371.8L81.0,372.9L85.9,378.6L87.2,375.4L87.7,372.0L87.2,371.4ZM81.0,372.9L77.9,377.6L79.3,382.4L85.4,379.1L85.9,378.6ZM92.0,370.9L90.3,370.2L87.7,372.0L87.2,375.4L95.2,376.8L95.6,376.6ZM95.2,376.8L87.2,375.4L85.9,378.6L85.4,379.1L86.1,379.5L92.2,380.0L93.2,379.4ZM96.7,369.9L92.0,370.9L95.6,376.6L96.7,375.9L98.9,373.6ZM98.9,373.6L96.7,375.9L101.7,378.8L103.3,376.8L103.6,376.1L103.3,375.2L99.2,373.6ZM103.1,383.8L105.8,378.9L103.3,376.8L101.7,378.8L100.1,381.0L99.5,385.1ZM103.6,376.1L103.3,376.8L105.8,378.9L107.6,379.0L111.6,378.6L111.9,376.9L107.4,374.0ZM108.9,371.3L107.9,372.3L107.4,374.0L111.9,376.9L112.9,372.2ZM114.9,372.3L112.9,372.2L111.9,376.9L111.6,378.6L113.0,379.2L116.8,375.0ZM110.5,386.6L111.5,388.0L114.9,388.2L116.7,385.1L115.7,383.2ZM121.0,369.3L115.7,370.4L114.9,372.3L116.8,375.0L118.0,376.9L119.7,376.4ZM116.8,375.0L113.0,379.2L115.9,382.9L118.1,382.5L118.0,376.9ZM115.7,383.2L116.7,385.1L120.7,385.3L120.9,383.6L119.8,383.4L118.1,382.5L115.9,382.9ZM122.3,388.9L120.7,385.3L116.7,385.1L114.9,388.2L116.8,390.6L121.0,390.3ZM125.2,375.6L124.1,370.7L121.3,369.1L121.0,369.3L119.7,376.4ZM119.8,383.4L120.9,383.6L126.8,383.7L127.0,380.8L124.2,379.1ZM126.8,383.7L120.9,383.6L120.7,385.3L122.3,388.9L124.6,389.2L127.3,384.0ZM127.7,370.5L125.7,369.8L124.1,370.7L125.2,375.6L125.3,375.7L131.6,374.7ZM127.0,380.8L131.1,378.4L131.8,375.1L131.6,374.7L125.3,375.7L124.2,379.1ZM127.3,384.0L124.6,389.2L127.4,390.8L128.2,390.3L127.8,384.5L127.3,383.9ZM128.2,390.3L131.2,391.4L132.5,389.4L134.4,385.0L127.8,384.5ZM135.6,372.9L138.8,376.4L140.5,374.1L139.2,370.7ZM138.7,386.2L135.1,385.0L137.9,393.5L138.2,393.6L140.1,392.2ZM140.5,374.1L143.2,374.3L143.9,369.3L139.9,367.7L139.2,370.7ZM138.8,376.4L139.4,378.9L139.8,379.0L143.3,377.2L143.9,376.1L143.2,374.3L140.5,374.1ZM139.8,379.0L141.4,384.0L143.1,384.9L145.4,381.1L143.3,377.2ZM144.9,386.7L143.1,384.9L141.4,384.0L138.7,386.2L140.1,392.2L141.8,392.2ZM147.0,374.0L148.2,372.2L144.6,368.9L143.9,369.3L143.2,374.3L143.9,376.1ZM151.2,378.0L147.0,374.0L143.9,376.1L143.3,377.2L145.4,381.1L151.1,380.5L151.8,380.1ZM151.1,380.5L145.4,381.1L143.1,384.9L144.9,386.7L148.6,386.9ZM146.3,393.4L149.5,389.6L149.1,387.5L148.6,386.9L144.9,386.7L141.8,392.2ZM151.2,378.0L153.5,375.8L154.2,369.1L148.2,372.2L147.0,374.0ZM154.5,381.3L157.6,378.7L155.0,376.2L153.5,375.8L151.2,378.0L151.8,380.1ZM153.9,385.9L155.6,383.9L154.5,381.3L151.8,380.1L151.1,380.5L148.6,386.9L149.1,387.5ZM150.2,390.4L155.4,388.4L153.9,385.9L149.1,387.5L149.5,389.6ZM154.2,369.1L153.5,375.8L155.0,376.2L158.5,373.0L156.5,368.5L154.8,368.7ZM158.5,373.0L155.0,376.2L157.6,378.7L159.4,378.3L158.9,373.2ZM159.4,378.3L157.6,378.7L154.5,381.3L155.6,383.9L159.9,384.1L159.4,381.6ZM160.0,387.4L159.9,384.1L155.6,383.9L153.9,385.9L155.4,388.4L156.8,391.6L160.0,390.8ZM165.4,376.7L161.8,373.8L158.9,373.2L159.4,378.3L159.4,381.6L165.5,379.3ZM166.7,380.7L165.5,379.3L159.4,381.6L159.9,384.1L160.0,387.4L166.6,386.6ZM160.0,387.4L160.0,390.8L161.5,391.9L165.7,391.2L167.0,386.7L166.6,386.6ZM161.8,373.8L165.4,376.7L168.3,374.2L170.1,371.6L170.0,371.1L167.4,368.8L167.1,368.9ZM167.0,386.7L170.7,387.6L173.0,384.0L172.9,383.4L171.4,382.1L166.7,380.7L166.6,386.6ZM165.7,391.2L166.7,391.9L169.7,390.5L170.5,389.5L170.7,387.6L167.0,386.7ZM170.0,371.1L170.1,371.6L174.5,373.8L176.9,372.6L174.4,371.3L171.8,370.4ZM168.3,374.2L173.0,378.4L174.5,377.1L174.5,373.8L170.1,371.6ZM173.0,378.4L171.4,382.1L172.9,383.4L180.1,380.0L180.1,380.0L179.5,378.7L174.5,377.1ZM176.2,387.6L173.0,384.0L170.7,387.6L170.5,389.5L176.5,390.7L176.1,389.3ZM180.1,380.0L172.9,383.4L173.0,384.0L176.2,387.6L179.4,383.3ZM182.6,387.3L179.4,383.3L176.2,387.6L176.1,389.3L179.7,389.4ZM201.5,381.8L197.4,383.4L198.1,388.3L198.9,391.4L200.3,392.0L204.7,387.0L207.4,382.7L205.5,380.7ZM205.5,380.7L207.4,382.7L210.8,383.2L213.7,379.2L210.8,376.1L205.5,380.0ZM217.6,379.7L213.7,379.2L210.8,383.2L214.3,387.2L217.4,380.7ZM214.3,387.2L214.6,390.5L215.0,390.7L218.1,389.8L223.0,384.7L223.0,384.4L217.4,380.7ZM218.9,371.8L219.9,379.6L225.1,378.0L225.8,375.9L223.8,373.8ZM223.0,384.4L226.2,379.8L225.1,378.0L219.9,379.6L217.6,379.7L217.4,380.7ZM218.1,389.8L223.7,393.3L225.2,388.6L223.0,384.7ZM225.1,378.0L226.2,379.8L230.0,382.9L232.6,379.0L232.6,378.7L228.2,375.8L225.8,375.9ZM230.0,382.9L226.2,379.8L223.0,384.4L223.0,384.7L225.2,388.6L225.6,388.7L227.2,387.9L229.8,383.7ZM227.2,387.9L225.6,388.7L228.4,391.4L233.0,387.8ZM233.3,376.4L235.2,374.6L234.1,369.8L232.3,369.9L231.0,373.4ZM232.6,378.7L233.3,376.4L231.0,373.4L228.2,375.8ZM236.3,385.1L232.5,379.4L232.6,379.0L230.0,382.9L229.8,383.7L234.0,385.4ZM234.1,369.8L235.2,374.6L237.2,375.2L239.8,372.6L239.6,370.0L238.2,370.1ZM232.5,379.4L239.0,380.1L237.2,375.2L235.2,374.6L233.3,376.4L232.6,378.7L232.6,379.0ZM239.0,380.1L232.5,379.4L236.3,385.1L239.9,385.7L240.6,384.0L239.7,380.1ZM234.7,390.9L238.0,393.5L240.1,389.0L239.9,385.7L236.3,385.1L234.0,385.4L233.1,387.3ZM239.6,370.0L239.8,372.6L243.9,372.9L245.5,370.6L240.8,366.2ZM244.2,373.7L243.9,372.9L239.8,372.6L237.2,375.2L239.0,380.1L239.7,380.1L244.9,378.4ZM239.7,380.1L240.6,384.0L246.1,383.4L247.3,380.2L244.9,378.4ZM240.6,384.0L239.9,385.7L240.1,389.0L245.8,390.3L246.8,385.7L246.1,383.4ZM249.3,374.8L250.8,368.7L246.4,368.1L245.5,370.6L243.9,372.9L244.2,373.7ZM247.3,380.2L250.9,381.2L251.3,380.5L249.5,374.9L249.3,374.8L244.2,373.7L244.9,378.4ZM246.1,383.4L246.8,385.7L249.8,386.1L250.9,381.2L247.3,380.2ZM249.8,386.1L246.8,385.7L245.8,390.3L246.9,390.8L250.9,389.9L250.9,387.3ZM249.5,374.9L255.7,374.3L256.8,372.3L252.9,367.9L250.8,368.7L249.3,374.8ZM257.8,380.3L256.2,375.7L255.7,374.3L249.5,374.9L251.3,380.5L257.1,381.2ZM256.1,385.0L256.6,385.0L256.6,384.6L257.1,381.2L251.3,380.5L250.9,381.2L249.8,386.1L250.9,387.3ZM250.9,389.9L254.2,392.0L256.1,385.0L250.9,387.3ZM260.8,376.9L261.5,376.2L261.7,372.4L260.4,369.7L256.8,372.3L255.7,374.3L256.2,375.7ZM260.7,379.1L260.8,376.9L256.2,375.7L257.8,380.3ZM260.8,380.2L260.7,379.1L257.8,380.3L257.1,381.2L256.6,384.6ZM256.6,385.0L256.1,385.0L254.2,392.0L254.9,393.4L259.8,388.7L257.3,385.7ZM265.8,376.9L264.8,370.0L261.7,372.4L261.5,376.2L266.3,377.8ZM260.8,380.2L262.6,380.5L267.2,379.2L266.3,377.8L261.5,376.2L260.8,376.9L260.7,379.1ZM256.6,385.0L257.3,385.7L261.7,382.7L262.6,380.5L260.8,380.2L256.6,384.6ZM257.3,385.7L259.8,388.7L264.2,390.8L264.2,386.8L261.7,382.7ZM269.8,371.1L266.3,369.6L265.3,369.6L264.8,370.0L265.8,376.9L270.3,372.9ZM271.6,377.4L272.4,374.8L270.3,372.9L265.8,376.9L266.3,377.8L267.2,379.2L268.2,379.3ZM268.2,379.3L267.2,379.2L262.6,380.5L261.7,382.7L264.2,386.8L270.0,385.8L270.1,385.2ZM272.3,389.6L270.0,385.8L264.2,386.8L264.2,390.8L264.5,393.1L266.8,393.4ZM276.3,370.9L275.2,369.8L269.8,371.1L270.3,372.9L272.4,374.8L274.4,375.2ZM276.1,378.4L276.1,375.8L274.4,375.2L272.4,374.8L271.6,377.4L275.3,379.4ZM273.6,384.1L275.3,379.4L271.6,377.4L268.2,379.3L270.1,385.2ZM276.2,384.9L273.6,384.1L270.1,385.2L270.0,385.8L272.3,389.6L276.6,391.2ZM276.3,370.9L274.4,375.2L276.1,375.8L281.4,374.4L281.7,374.2L281.8,372.0L280.5,371.7ZM276.1,378.4L280.0,381.5L280.6,381.7L281.3,381.0L281.4,374.4L276.1,375.8ZM276.2,384.9L280.0,381.5L276.1,378.4L275.3,379.4L273.6,384.1ZM281.4,391.2L280.6,381.7L280.0,381.5L276.2,384.9L276.6,391.2L278.8,393.0ZM288.9,389.4L285.6,382.3L281.3,381.0L280.6,381.7L281.4,391.2L287.6,390.8ZM288.2,375.7L290.2,376.3L290.6,376.3L293.4,368.8L290.5,367.1L288.0,372.4ZM345.9,379.9L344.1,379.1L336.4,381.8L336.8,382.4L342.4,384.3L344.6,387.9L345.8,383.7ZM342.5,376.3L343.6,377.1L349.4,372.9L347.9,368.7ZM344.6,387.9L347.1,390.7L348.3,392.8L351.4,384.5L345.8,383.7ZM355.6,382.5L349.7,378.1L348.3,379.1L351.4,384.5L354.0,384.6L355.6,383.5ZM361.1,375.4L361.4,375.0L359.2,368.3L355.8,369.8L354.8,373.1ZM361.1,375.4L354.8,373.1L352.7,375.5L352.2,376.5L356.7,378.4L360.4,377.8ZM359.3,368.2L359.2,368.3L361.4,375.0L364.5,372.0L365.0,367.9ZM369.4,374.8L365.2,372.4L366.2,377.8L366.7,378.1L370.6,378.2L371.4,376.5ZM83.3,403.8L81.0,398.5L78.0,397.6L75.5,400.6L76.1,402.2L77.8,404.4L78.9,406.7ZM89.4,401.9L94.8,402.6L96.2,403.0L96.6,402.7L93.0,399.1L90.5,396.5L87.4,396.9ZM97.3,395.4L100.0,398.3L105.4,393.9L105.9,391.4L99.2,389.9ZM96.2,403.0L100.1,407.9L105.3,405.6L103.0,400.6L100.6,399.4L96.6,402.7ZM105.3,410.7L106.2,409.2L105.6,405.8L105.3,405.6L100.1,407.9L100.1,411.3L101.3,412.4ZM110.7,391.3L106.7,390.7L105.9,391.4L105.4,393.9L106.5,395.1L108.3,396.0L111.2,393.3ZM108.3,396.0L106.5,395.1L103.5,399.6L110.8,397.9L111.0,397.7ZM105.6,405.8L108.9,402.7L110.8,397.9L103.5,399.6L103.0,400.6L105.3,405.6ZM116.8,390.6L114.9,388.2L111.5,388.0L110.7,391.3L111.2,393.3L114.2,394.4L116.8,392.7ZM111.2,393.3L108.3,396.0L111.0,397.7L113.6,397.5L114.2,394.4ZM115.7,405.0L114.1,404.8L108.4,409.5L110.9,411.1L115.0,408.5L116.9,405.6ZM121.0,390.3L116.8,390.6L116.8,392.7L119.1,397.0L123.1,393.7ZM115.0,408.5L118.2,414.9L120.1,413.7L119.7,405.2L116.9,405.6ZM122.3,388.9L121.0,390.3L123.1,393.7L125.1,394.9L127.4,390.8L124.6,389.2ZM125.3,399.3L119.1,397.3L117.9,400.1L123.6,404.2ZM124.3,405.1L123.8,404.6L119.7,405.2L120.1,413.7L120.2,413.7L124.8,410.8ZM127.4,390.8L125.1,394.9L125.1,395.8L131.6,394.2L131.2,391.4L128.2,390.3ZM126.9,405.2L124.3,405.1L124.8,410.8L128.1,410.4L130.8,408.3L130.3,407.8ZM131.2,391.4L131.6,394.2L132.8,394.3L134.0,395.2L135.0,393.6L132.5,389.4ZM136.5,400.2L134.0,395.2L132.8,394.3L128.7,399.5L128.3,402.4L135.2,401.4ZM135.2,401.4L128.3,402.4L126.9,405.2L130.3,407.8L134.3,405.5ZM137.9,393.5L135.0,393.6L134.0,395.2L136.5,400.2L138.1,401.2L141.8,396.9L138.2,393.6ZM134.8,406.4L139.2,404.5L138.7,403.1L138.1,401.2L136.5,400.2L135.2,401.4L134.3,405.5ZM135.8,408.7L138.9,409.2L142.4,405.9L139.2,404.5L134.8,406.4ZM146.1,395.6L146.3,393.4L141.8,392.2L140.1,392.2L138.2,393.6L141.8,396.9L144.7,397.8L144.8,397.6ZM144.9,411.0L144.5,405.7L142.4,405.9L138.9,409.2L141.6,411.6L144.8,411.4ZM150.5,396.1L152.5,394.2L150.2,390.4L149.5,389.6L146.3,393.4L146.1,395.6ZM149.2,401.3L150.9,400.9L150.5,396.1L146.1,395.6L144.8,397.6ZM144.7,397.8L144.4,401.7L147.4,404.3L149.2,401.3L144.8,397.6ZM148.8,407.9L147.4,404.3L144.5,405.7L144.9,411.0L149.3,408.8ZM152.2,401.1L153.9,402.0L158.1,399.7L156.6,396.5L155.7,394.1L152.5,394.2L150.5,396.1L150.9,400.9ZM147.4,404.3L147.4,404.3L148.8,407.9L152.2,401.1L150.9,400.9L149.2,401.3ZM160.0,390.8L156.8,391.6L155.7,394.1L156.6,396.5L162.6,395.9L163.3,394.5L161.5,391.9ZM156.6,396.5L158.1,399.7L162.3,400.2L162.6,400.3L163.0,400.1L162.6,395.9ZM159.1,403.8L162.3,400.2L158.1,399.7L153.9,402.0L155.7,404.2ZM161.5,391.9L163.3,394.5L166.4,394.1L166.7,391.9L165.7,391.2ZM166.4,395.0L170.9,395.9L169.7,390.5L166.7,391.9L166.4,394.1ZM169.5,402.6L169.8,402.2L171.5,396.4L170.9,395.9L166.4,395.0L165.5,400.0ZM177.1,393.5L176.5,390.7L170.5,389.5L169.7,390.5L170.9,395.9L171.5,396.4L173.8,395.7ZM171.5,396.4L169.8,402.2L175.5,401.7L175.2,400.4L173.8,395.7ZM175.4,409.4L176.3,402.7L175.9,402.2L170.0,407.5L169.9,409.0ZM180.6,396.2L177.1,393.5L173.8,395.7L175.2,400.4L182.1,397.3ZM175.4,409.4L176.6,411.8L177.0,411.6L180.5,411.1L179.7,404.7L178.5,403.1L176.3,402.7ZM227.3,394.1L224.3,394.4L218.3,395.6L218.2,397.0L224.7,399.3ZM225.7,405.0L225.3,401.9L215.8,405.9L217.0,411.2L223.1,412.4L225.7,407.9ZM227.3,394.1L229.6,394.2L228.4,391.4L225.6,388.7L225.2,388.6L223.7,393.3L224.3,394.4ZM229.6,394.2L227.3,394.1L224.7,399.3L225.6,401.0L229.4,401.0L230.0,398.6L230.6,395.6ZM234.9,396.2L232.8,395.6L230.6,395.6L230.0,398.6L233.2,401.5ZM230.0,398.6L229.4,401.0L231.8,404.9L232.4,404.3L233.0,402.2L233.1,402.0L233.2,401.5ZM238.0,393.5L234.7,390.9L232.8,395.6L234.9,396.2L239.5,396.4ZM234.9,396.2L233.2,401.5L233.1,402.0L239.7,398.2L240.1,396.7L239.5,396.4ZM233.0,402.2L242.3,404.9L242.9,404.1L239.7,398.2L233.1,402.0ZM239.3,408.9L239.5,408.5L242.3,404.9L233.0,402.2L232.4,404.3L234.5,409.5ZM285.1,396.5L291.2,395.5L287.6,390.8L281.4,391.2L278.8,393.0L278.6,397.3ZM280.5,404.5L282.0,410.8L287.8,410.3L286.9,403.7L286.2,402.9L278.7,400.2ZM292.3,404.5L294.1,402.8L292.5,397.9L290.7,396.9L286.2,402.9L286.9,403.7ZM298.0,391.9L297.5,390.9L295.3,391.3L291.2,395.9L290.7,396.9L292.5,397.9L298.1,393.8ZM332.3,399.7L330.1,397.3L326.6,398.1L326.2,399.0L326.3,399.6L326.2,401.6L332.2,405.2ZM333.0,408.3L336.9,411.8L339.7,407.8L340.2,404.7L339.8,403.5L333.5,407.1ZM344.2,400.8L348.8,397.8L348.7,395.1L348.3,392.8L347.1,390.7L339.5,391.3L338.9,398.9L340.5,402.2ZM104.1,417.5L101.4,416.9L96.1,421.6L97.9,424.2L107.4,424.9ZM110.9,423.0L112.1,415.7L107.8,416.9L104.1,417.5L107.4,424.9L108.0,425.2ZM110.9,411.1L112.7,415.0L118.2,415.1L118.2,414.9L115.0,408.5ZM138.6,417.2L137.8,418.4L138.6,418.9L143.7,419.8L145.3,418.1L144.4,416.0ZM146.1,415.1L150.5,410.8L151.0,410.2L149.3,408.8L144.9,411.0L144.8,411.4ZM143.7,419.8L143.7,424.8L146.0,425.7L149.8,423.9L150.5,422.0L150.2,420.9L148.6,418.9L145.3,418.1ZM149.8,423.9L151.0,430.6L153.1,429.4L155.5,426.7L150.5,422.0ZM155.4,417.3L152.5,421.0L155.9,422.1L160.1,420.2L159.0,417.6L156.4,417.1ZM157.1,426.8L155.5,426.7L153.1,429.4L153.8,430.6L160.2,429.1L162.0,427.5L159.7,425.7ZM167.8,414.1L166.5,413.5L159.1,417.5L159.0,417.6L160.1,420.2L162.6,421.9L165.9,422.5L167.8,415.3ZM178.0,423.1L180.8,422.7L182.3,418.2L176.5,415.5L173.0,418.6L173.7,421.8ZM378.4,411.3L375.2,410.8L374.6,411.5L374.3,420.8L379.8,416.0L383.4,412.9ZM145.0,431.4L141.0,429.7L137.7,432.3L139.2,433.3L142.9,435.6ZM139.2,433.3L139.3,440.1L144.1,442.5L144.6,440.6L144.2,435.7L142.9,435.6ZM139.3,440.1L136.3,442.9L136.3,443.6L145.3,447.2L146.3,443.5L144.1,442.5ZM144.9,451.7L145.3,447.2L136.3,443.6L136.2,446.9L136.3,447.3L138.6,449.9ZM144.2,435.7L147.0,435.0L149.7,431.4L148.3,430.2L145.0,431.4L142.9,435.6ZM144.6,440.6L149.8,438.6L150.2,438.2L149.8,437.3L147.0,435.0L144.2,435.7ZM146.3,443.5L147.0,444.0L149.8,438.6L144.6,440.6L144.1,442.5ZM149.3,448.0L148.3,446.3L147.0,444.0L146.3,443.5L145.3,447.2L144.9,451.7L144.8,453.1L145.3,453.5ZM149.8,437.3L154.8,432.4L153.8,430.6L153.1,429.4L151.0,430.6L149.7,431.4L147.0,435.0ZM154.8,432.4L149.8,437.3L150.2,438.2L154.4,439.9L156.7,435.1ZM154.5,441.0L154.4,439.9L150.2,438.2L149.8,438.6L147.0,444.0L148.3,446.3L154.0,443.1ZM148.3,446.3L149.3,448.0L152.8,454.1L152.9,454.1L154.7,450.8L154.0,443.1L154.0,443.1ZM162.4,433.7L160.2,429.1L153.8,430.6L154.8,432.4L156.7,435.1L157.8,435.3ZM159.6,439.9L157.8,435.3L156.7,435.1L154.4,439.9L154.5,441.0ZM154.0,443.1L158.9,444.9L159.6,440.0L159.6,439.9L154.5,441.0L154.0,443.1ZM159.8,446.3L158.9,444.9L154.0,443.1L154.7,450.8L159.9,449.8L159.8,447.7ZM159.6,440.0L165.2,439.1L164.0,434.5L163.9,434.3L162.4,433.7L157.8,435.3L159.6,439.9ZM159.8,446.3L166.2,441.9L166.7,440.1L165.2,439.1L159.6,440.0L158.9,444.9ZM164.8,448.5L165.7,448.5L168.2,444.7L166.2,441.9L159.8,446.3L159.8,447.7ZM170.8,435.7L171.9,435.2L172.5,431.3L169.4,428.2L163.9,434.3L164.0,434.5ZM166.7,440.1L170.8,436.3L170.8,435.7L164.0,434.5L165.2,439.1ZM171.3,446.1L172.2,446.2L173.4,439.6L170.8,436.3L166.7,440.1L166.2,441.9L168.2,444.7ZM165.7,448.5L170.1,452.3L171.3,446.1L168.2,444.7ZM178.5,432.8L176.4,428.6L175.0,428.8L172.5,431.3L171.9,435.2L176.7,434.4ZM170.8,436.3L173.4,439.6L177.3,439.9L177.7,439.4L176.7,434.4L171.9,435.2L170.8,435.7ZM173.4,439.6L172.2,446.2L176.4,445.8L176.5,445.8L177.3,439.9ZM170.1,452.3L170.5,453.0L175.2,449.9L175.8,448.7L176.4,445.8L172.2,446.2L171.3,446.1ZM183.7,434.3L178.5,432.8L176.7,434.4L177.7,439.4L178.7,438.9L182.7,436.6ZM178.7,438.9L177.7,439.4L177.3,439.9L176.5,445.8L181.8,445.0ZM181.0,449.9L183.5,445.6L181.8,445.0L176.5,445.8L176.4,445.8L175.8,448.7ZM316.4,440.8L317.0,440.2L321.3,434.6L324.1,429.6L315.9,426.6L313.3,427.6L312.9,431.6L311.1,436.9L311.5,438.7ZM308.4,441.7L308.4,444.3L304.4,449.8L305.1,450.2L310.4,454.4L314.3,452.4L319.7,448.0L316.4,440.8L311.5,438.7ZM138.8,456.2L140.6,456.6L144.8,453.1L144.9,451.7L138.6,449.9ZM148.2,463.0L146.4,467.8L149.5,472.4L150.0,472.6L154.5,470.3L153.7,462.8L148.7,462.4ZM154.7,450.8L152.9,454.1L157.7,456.6L158.5,455.4L159.9,449.8ZM152.7,454.2L154.8,462.3L157.9,459.8L157.7,456.6L152.9,454.1L152.8,454.1ZM164.8,448.5L159.8,447.7L159.9,449.8L158.5,455.4L166.2,454.0L166.6,454.0ZM166.2,454.0L158.5,455.4L157.7,456.6L157.9,459.8L160.3,461.0L163.6,461.1L163.7,460.9ZM159.6,465.2L156.3,470.9L159.4,474.5L165.4,469.9L162.3,466.6ZM168.6,456.2L169.3,456.0L170.5,453.0L170.1,452.3L165.7,448.5L164.8,448.5L166.6,454.0ZM169.1,460.2L174.6,461.8L175.0,460.8L174.4,458.0L169.3,456.0L168.6,456.2L169.1,460.1ZM167.3,465.5L168.6,465.8L174.5,463.3L174.6,461.8L169.1,460.2ZM169.2,467.1L173.5,469.7L174.0,469.5L175.9,464.3L174.5,463.3L168.6,465.8ZM177.2,454.4L178.7,454.6L181.0,449.9L175.8,448.7L175.2,449.9ZM174.4,458.0L175.0,460.8L179.2,459.7L181.7,457.4L178.7,454.6L177.2,454.4ZM175.9,464.3L182.3,464.4L179.2,459.7L175.0,460.8L174.6,461.8L174.5,463.3ZM174.0,469.5L183.8,471.5L184.4,470.4L184.7,467.1L182.3,464.4L175.9,464.3ZM229.6,454.3L222.1,448.9L218.4,448.8L217.0,450.0L216.9,450.2L225.5,456.5L229.8,455.1ZM217.6,463.0L222.9,463.7L225.4,464.2L228.1,460.7L225.2,457.3L216.7,461.2ZM225.5,456.5L225.2,457.3L228.1,460.7L229.0,459.6L230.1,457.5L230.6,455.8L229.8,455.1ZM222.9,463.7L225.3,467.6L229.4,471.9L228.9,466.4L225.4,464.2ZM234.8,457.5L233.6,454.1L230.6,455.8L230.1,457.5L234.3,461.8ZM230.1,457.5L229.0,459.6L232.5,463.9L233.0,463.9L234.2,461.9L234.3,461.8ZM229.4,471.9L231.0,474.5L235.9,471.1L234.3,464.7L233.0,463.9L232.5,463.9L228.9,466.4ZM234.3,464.7L235.9,471.1L242.0,472.0L242.6,464.9ZM325.8,464.5L326.1,467.2L331.1,470.1L334.4,468.3L335.2,463.8L333.8,461.5ZM332.7,454.4L339.1,454.9L338.7,453.2L335.2,450.2L331.5,448.0L328.6,449.6ZM325.4,476.3L326.4,474.6L322.4,470.3L318.1,472.5ZM316.9,477.0L320.1,479.3L323.3,479.2L325.2,478.1L325.4,476.3L318.1,472.5L315.9,473.0ZM323.3,479.2L320.1,479.3L320.7,485.7L324.6,483.5ZM332.2,473.3L330.3,472.2L326.4,474.6L325.4,476.3L325.2,478.1L331.5,481.1L332.5,480.7ZM325.3,484.5L329.1,484.0L331.5,481.1L325.2,478.1L323.3,479.2L324.6,483.5ZM328.5,491.9L330.0,492.2L330.9,490.6L329.6,485.0L329.1,484.0L325.3,484.5L324.3,488.6ZM336.5,471.6L334.4,468.3L331.1,470.1L330.3,472.2L332.2,473.3L336.4,475.7ZM334.9,480.3L337.0,476.8L336.4,475.7L332.2,473.3L332.5,480.7L333.7,480.7ZM332.5,480.7L331.5,481.1L329.1,484.0L329.6,485.0L335.2,485.6L336.2,485.2L333.7,480.7ZM335.2,485.6L329.6,485.0L330.9,490.6L333.0,490.7ZM337.0,476.8L341.3,475.4L343.6,468.5L336.5,471.6L336.4,475.7ZM334.9,480.3L339.3,481.1L342.7,477.1L341.3,475.4L337.0,476.8ZM336.2,485.2L338.6,485.6L339.3,485.2L339.3,481.1L334.9,480.3L333.7,480.7ZM335.6,492.3L337.7,489.8L338.6,485.6L336.2,485.2L335.2,485.6L333.0,490.7ZM68.9,498.5L64.4,492.2L61.5,494.1L60.2,497.8L60.1,503.0L60.2,503.3L66.1,503.3ZM73.4,500.6L74.2,497.3L68.9,498.5L66.1,503.3L67.8,505.4L72.0,503.7ZM67.8,505.4L67.5,508.5L70.1,511.6L70.8,511.9L75.5,507.1L72.0,503.7ZM81.7,498.3L83.8,495.0L84.1,492.5L81.3,490.3L78.4,491.2L77.0,495.4ZM83.8,495.0L81.7,498.3L81.4,501.2L85.6,500.2L85.7,495.4ZM92.5,494.1L89.6,490.5L84.1,492.5L83.8,495.0L85.7,495.4L89.9,496.1ZM84.0,503.7L85.3,505.5L86.3,504.6L89.1,500.6L85.7,500.2ZM84.5,511.2L87.9,511.6L90.1,509.5L89.4,506.7L86.3,504.6L85.3,505.5ZM92.5,487.4L90.3,489.6L89.6,490.5L92.5,494.1L93.1,494.5L95.2,494.2L95.9,488.1ZM89.9,500.3L94.8,503.0L96.0,499.1L93.1,494.5L92.5,494.1L89.9,496.1ZM89.1,500.6L86.3,504.6L89.4,506.7L94.7,503.6L94.8,503.0L89.9,500.3ZM95.2,494.2L99.3,492.7L97.6,488.4L95.9,488.1ZM103.0,497.3L100.3,493.3L99.3,492.7L95.2,494.2L93.1,494.5L96.0,499.1ZM94.8,503.0L94.7,503.6L95.4,504.4L102.8,504.9L103.2,504.7L103.8,498.3L103.0,497.3L96.0,499.1ZM316.6,500.2L316.5,501.9L321.2,502.1L326.4,497.6L326.5,497.2L321.5,494.3L318.6,493.5ZM321.2,502.1L326.0,502.1L326.2,500.2L326.4,497.6ZM326.5,497.2L326.4,497.6L326.2,500.2L329.5,500.3L330.3,496.4L329.7,496.2ZM326.2,500.2L326.0,502.1L326.5,502.8L327.8,506.3L328.8,504.7L330.5,501.4L329.5,500.3ZM326.5,502.8L321.1,510.1L328.6,510.6L327.8,506.3ZM330.3,496.4L329.5,500.3L330.5,501.4L334.0,501.7L334.5,500.7L332.9,496.1ZM328.6,510.6L332.2,512.6L333.5,506.2L328.8,504.7L327.8,506.3ZM342.3,495.1L335.2,493.3L332.9,496.1L334.5,500.7L339.7,500.1ZM334.5,500.7L334.0,501.7L335.1,505.2L343.1,505.8L343.6,505.5L339.7,500.1ZM200.2,512.0L199.7,508.0L198.5,505.8L194.4,506.7L193.0,510.6L193.0,513.7L197.3,516.2L200.9,516.2ZM192.2,520.3L189.9,525.7L193.2,532.3L197.3,529.6L197.6,526.5L200.0,523.1ZM98.9,530.3L99.4,533.2L105.5,536.5L106.0,536.6L103.5,528.8L100.8,529.5ZM179.1,565.4L183.7,565.0L187.7,567.1L192.0,568.5L192.9,562.6L192.5,558.2L189.2,555.5L183.6,557.0L175.2,559.5ZM192.5,558.2L192.9,562.6L192.0,568.5L192.1,570.0L192.3,570.0L197.8,557.8L197.9,557.7Z"/>
<path fill="#784e30" stroke="#5b6662" stroke-width="0.6" d="M77.0,497.0L84.0,505.0L96.0,503.0L96.0,490.0L90.0,484.0L77.0,486.0Z"/>
<path fill="#784e30" stroke="#5b6662" stroke-width="0.6" d="M324.0,486.0L327.0,494.0L336.0,496.0L340.0,488.0L338.0,476.0L332.0,472.0L325.0,478.0Z"/>
<path fill="#bb7a4b" stroke="#5b6662" stroke-width="0.6" d="M342.0,470.0L348.0,480.0L358.0,478.0L360.0,464.0L352.0,456.0L342.0,458.0Z"/>
<path fill="#784e30" stroke="#5b6662" stroke-width="0.6" d="M436.7,548.7L448.5,549.9L461.5,548.7L462.6,535.7L472.1,534.5L467.4,528.6L457.9,527.4L450.8,531.0L448.5,540.4L434.3,542.8Z"/>
<path fill="#784e30" stroke="#5b6662" stroke-width="0.6" d="M495.7,546.3L502.8,547.5L502.8,533.3L498.0,531.0L491.0,538.0Z"/>
<path fill="#f3d67c" stroke="#5b6662" stroke-width="0.6" d="M384.7,561.7L389.4,568.8L396.5,573.5L403.6,566.4L406.0,557.0L396.5,549.9L384.7,552.2Z"/>
<path fill="#784e30" stroke="#5b6662" stroke-width="0.6" d="M410.7,554.6L415.4,561.7L406.0,566.4L396.5,573.5L398.3,576.1L410.5,582.0L420.9,581.0L421.0,581.0L423.2,578.8L427.2,568.8L434.3,564.0L436.7,559.3L432.0,553.4L420.1,548.7L408.3,547.5Z"/>
<path fill="#f3d67c" stroke="#5b6662" stroke-width="0.6" d="M423.7,578.2L423.8,578.2L430.0,572.0L436.0,566.7L436.5,566.8L436.7,566.4L434.3,561.7L424.9,566.4Z"/>
<path fill="#cce9de" stroke="#5b6662" stroke-width="0.6" d="M441.4,566.4L455.6,568.8L457.9,554.6L436.7,552.2Z"/>
<path fill="#bb7a4b" stroke="#5b6662" stroke-width="0.6" d="M304.0,523.0L306.4,526.9L307.6,526.3L316.6,532.6L317.3,535.5L320.0,537.0L330.0,533.0L334.0,524.0L330.0,516.0L318.0,512.0L304.0,515.0Z"/>
<path fill="#784e30" stroke="#5b6662" stroke-width="0.6" d="M147.8,432.2L145.6,440.0L146.7,447.8L153.3,452.2L160.0,456.7L166.7,458.9L172.2,455.6L180.0,450.0L180.6,443.3L181.7,434.4L180.0,426.7L173.3,424.4L166.7,423.3L156.7,423.3L150.0,426.7Z"/>
</svg>

<!-- map legend -->
<div class="a" style="left:80px;top:651px;font-size:13px;color:#7a7a7a;line-height:1;letter-spacing:0.15px;">Densità di emissione in:kg/km2</div>
<div class="a" style="left:438px;top:650px;font-size:10.5px;color:#444;line-height:1;">Max</div>
<div class="a" style="left:81px;top:668px;width:380px;height:20px;display:flex;font-size:13px;color:#1e1e1e;line-height:22px;">
 <div style="width:78.5px;background:#6aa38b;text-align:right;padding-right:5px;box-sizing:border-box;">0,04</div>
 <div style="width:72.5px;background:#c4e7d8;text-align:right;padding-right:5px;box-sizing:border-box;">0,06</div>
 <div style="width:74px;background:#f5dc8e;text-align:right;padding-right:5px;box-sizing:border-box;">0,10</div>
 <div style="width:73px;background:#b97a4b;text-align:right;padding-right:5px;box-sizing:border-box;">0,15</div>
 <div style="width:82px;background:#784e30;text-align:right;padding-right:4px;box-sizing:border-box;">14,37</div>
</div>

<!-- bar chart -->
<svg class="a" style="left:0;top:0" width="1280" height="720">
 <g shape-rendering="crispEdges">
 <rect x="598" y="44" width="56" height="573" fill="#784e30"/>
 <rect x="657.6" y="401" width="56" height="55" fill="#c8c8c8"/>
 <rect x="657.6" y="456" width="56" height="157.7" fill="#784e30"/>
 <rect x="657.6" y="613.7" width="56" height="3.3" fill="#4a5a8e"/>
 <rect x="717.2" y="514" width="56" height="5.4" fill="#784e30"/>
 <rect x="717.2" y="519.4" width="56" height="97.6" fill="#4a5a8e"/>
 <rect x="776.8" y="549" width="56" height="68" fill="#c8c8c8"/>
 <rect x="836.4" y="558.5" width="56" height="2.5" fill="#c8c8c8"/>
 <rect x="836.4" y="561" width="56" height="52.5" fill="#f0c944"/>
 <rect x="836.4" y="613.5" width="56" height="3.5" fill="#6cb85c"/>
 <rect x="896" y="571" width="56" height="46" fill="#325d2e"/>
 <rect x="955.6" y="590" width="56" height="27" fill="#c8c8c8"/>
 <rect x="1015.2" y="612" width="56" height="5" fill="#c8c8c8"/>
 <rect x="1074.8" y="613" width="56" height="4" fill="#f0c944"/>
 </g>
</svg>
<div class="a bt" style="left:586px;top:24.8px;">52,01%</div>
<div class="a bt" style="left:645.6px;top:381.8px;">19,59%</div>
<div class="a bt" style="left:705.2px;top:494.8px;">9,35%</div>
<div class="a bt" style="left:764.8px;top:529.8px;">6,17%</div>
<div class="a bt" style="left:824.4px;top:538.8px;">5,34%</div>
<div class="a bt" style="left:884px;top:551.8px;">4,21%</div>
<div class="a bt" style="left:943.6px;top:570.8px;">2,48%</div>
<div class="a bt" style="left:1003.2px;top:592.8px;">0,47%</div>
<div class="a bt" style="left:1062.8px;top:593.8px;">0,39%</div>

<div class="a bi" style="left:596px;top:325px;">51,98%</div>
<div class="a bi" style="left:655.6px;top:424px;">4,96%</div>
<div class="a bi" style="left:655.6px;top:530px;">14,33%</div>
<div class="a bi" style="left:715.2px;top:563px;">8,86%</div>
<div class="a bi" style="left:774.8px;top:578px;">6,17%</div>
<div class="a bi" style="left:834.4px;top:582px;">4,73%</div>
<div class="a bi" style="left:894px;top:589px;">4,21%</div>
<div class="a bi" style="left:953.6px;top:598px;">2,48%</div>

<div class="a cat" style="left:596px;top:629px;">02 -<br>Combus...<br>non<br>industriale</div>
<div class="a cat" style="left:655.6px;top:629px;">03 -<br>Combus...<br>nell'indu...</div>
<div class="a cat" style="left:715.2px;top:629px;">01 -<br>Produzio...<br>energia e<br>trasform...<br>combust...</div>
<div class="a cat" style="left:774.8px;top:629px;">10 -<br>Agricolt...</div>
<div class="a cat" style="left:834.4px;top:629px;">07 -<br>Trasporto<br>su strada</div>
<div class="a cat" style="left:894px;top:629px;">09 -<br>Trattame...<br>e<br>smaltim...<br>rifiuti</div>
<div class="a cat" style="left:953.6px;top:629px;">11 - Altre<br>sorgenti e<br>assorbi...</div>
<div class="a cat" style="left:1013.2px;top:629px;">04 -<br>Processi<br>produttivi</div>
<div class="a cat" style="left:1072.8px;top:629px;">08 - Altre<br>sorgenti<br>mobili e<br>macchin...</div>

<svg class="a" style="left:0;top:0" width="1280" height="720">
<path d="M986.6,170L986.60,86.00A84,84 0 0 1 1009.32,89.13Z" fill="#325d2e"/>
<path d="M986.6,170L1009.32,89.13A84,84 0 0 1 1011.10,89.65Z" fill="#6cb85c"/>
<path d="M986.6,170L1011.10,89.65A84,84 0 0 1 1050.47,115.45Z" fill="#4a5a8e"/>
<path d="M986.6,170L1050.47,115.45A84,84 0 0 1 1064.53,138.64Z" fill="#f0c944"/>
<path d="M986.6,170L1064.53,138.64A84,84 0 1 1 920.75,117.85Z" fill="#784e30"/>
<path d="M986.6,170L920.75,117.85A84,84 0 0 1 920.81,117.77Z" fill="#8ed9bc"/>
<path d="M986.6,170L920.81,117.77A84,84 0 0 1 986.60,86.00Z" fill="#c8c8c8"/>
<path d="M954.5,77.5 L965.7,77.5 L967.6,86" fill="none" stroke="#9a9a9a" stroke-width="1"/>
<path d="M901,111.7 L914.4,111.7 L919.3,116.9" fill="none" stroke="#9a9a9a" stroke-width="1"/>
<path d="M1010.2,76.5 L999.7,76.5 L998.3,84.5" fill="none" stroke="#9a9a9a" stroke-width="1"/>
<path d="M1060.9,99.3 L1050.3,99.3 L1043.3,105.4" fill="none" stroke="#9a9a9a" stroke-width="1"/>
<path d="M1082.7,127.7 L1071.4,127.7 L1063.7,131.7" fill="none" stroke="#9a9a9a" stroke-width="1"/>
<path d="M961.6,264.3 L973,264.3 L974.5,256.3" fill="none" stroke="#9a9a9a" stroke-width="1"/>
</svg>
<div class="a pl pw" style="right:331.2px;top:64.8px;">Senza combustibile</div>
<div class="a pl" style="right:331.2px;top:79.6px;">14,32%</div>
<div class="a pl pw" style="right:384.2px;top:98.6px;">Metano</div>
<div class="a pl" style="right:384.2px;top:112.0px;">0,02%</div>
<div class="a pl pw" style="left:1015.9px;top:69.8px;">Altro 4,36%</div>
<div class="a pl pw" style="left:1065.5px;top:85.9px;">Carbone</div>
<div class="a pl" style="left:1065.5px;top:101.4px;">9,04%</div>
<div class="a pl pn" style="left:1087.6px;top:121.1px;">Di... 5,...</div>
<div class="a pl pw" style="right:323.3px;top:250.6px;">Legna e similari</div>
<div class="a pl" style="right:323.3px;top:265.9px;">66,75%</div>

<!-- legend -->
<div class="a" style="left:1155px;top:222px;font-size:10px;font-weight:bold;color:#5f5f5f;line-height:1;">Combustibile</div>
<div class="dot" style="left:1155px;top:239.8px;background:#325d2e"></div><div class="a lg" style="left:1167px;top:239.5px;">Altro</div>
<div class="dot" style="left:1155px;top:262.2px;background:#6cb85c"></div><div class="a lg" style="left:1167px;top:262px;">Benzina</div>
<div class="dot" style="left:1155px;top:284.6px;background:#4a5a8e"></div><div class="a lg" style="left:1167px;top:284.4px;">Carbone</div>
<div class="dot" style="left:1155px;top:307px;background:#f0c944"></div><div class="a lg" style="left:1167px;top:306.8px;">Diesel</div>
<div class="dot" style="left:1155px;top:329.4px;background:#d64545"></div><div class="a lg" style="left:1167px;top:329.2px;">Gas di raffineria</div>
<div class="dot" style="left:1155px;top:351.8px;background:#6aaee6"></div><div class="a lg" style="left:1167px;top:351.6px;">Gasolio</div>
<div class="dot" style="left:1155px;top:374.2px;background:#8a6ad8"></div><div class="a lg" style="left:1167px;top:374px;">GPL</div>
<div class="dot" style="left:1155px;top:396.6px;background:#f09a5e"></div><div class="a lg" style="left:1167px;top:396.4px;">Kerosene</div>
<div class="dot" style="left:1155px;top:419px;background:#784e30"></div><div class="a lg" style="left:1167px;top:418.8px;">Legna e similari</div>
<div class="dot" style="left:1155px;top:441.4px;background:#8ed9bc"></div><div class="a lg" style="left:1167px;top:441.2px;">Metano</div>
<div class="dot" style="left:1155px;top:463.8px;background:#000"></div><div class="a lg" style="left:1167px;top:463.6px;">Olio combustibile</div>
<div class="dot" style="left:1155px;top:486.2px;background:#c8c8c8"></div><div class="a lg" style="left:1167px;top:486px;">Senza combustibile</div>
</body></html>
